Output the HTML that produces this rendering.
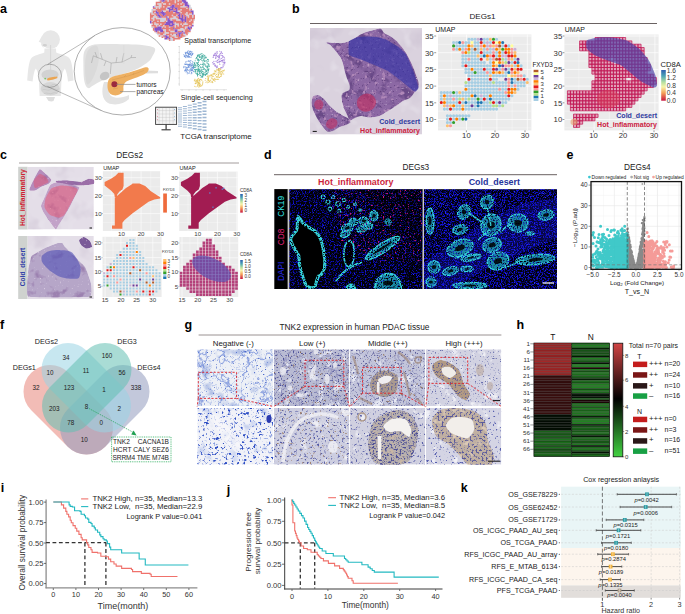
<!DOCTYPE html>
<html><head><meta charset="utf-8"><title>Figure</title>
<style>
html,body{margin:0;padding:0;background:#fff;}
body{width:685px;height:614px;overflow:hidden;}
svg{display:block;font-family:"Liberation Sans",sans-serif;}
filter{color-interpolation-filters:sRGB;}
</style></head><body>
<svg width="685" height="614" viewBox="0 0 685 614">
<defs>
<filter color-interpolation-filters="sRGB" id="he" x="0" y="0" width="100%" height="100%"><feTurbulence type="fractalNoise" baseFrequency="0.09" numOctaves="3" seed="3" result="t0"/><feColorMatrix in="t0" type="matrix" values="0 0 0 0 0.416 0 0 0 0 0.290 0 0 0 0 0.533 5.000 0 0 0 -2.731" result="c0"/><feTurbulence type="fractalNoise" baseFrequency="0.22" numOctaves="2" seed="5" result="t1"/><feColorMatrix in="t1" type="matrix" values="0 0 0 0 0.690 0 0 0 0 0.533 0 0 0 0 0.722 6.000 0 0 0 -3.556" result="c1"/><feTurbulence type="fractalNoise" baseFrequency="0.5" numOctaves="2" seed="6" result="t2"/><feColorMatrix in="t2" type="matrix" values="0 0 0 0 0.847 0 0 0 0 0.800 0 0 0 0 0.878 6.000 0 0 0 -4.063" result="q2"/><feComponentTransfer in="q2" result="c2"><feFuncA type="table" tableValues="0 0.75"/></feComponentTransfer><feTurbulence type="fractalNoise" baseFrequency="0.45" numOctaves="2" seed="8" result="t3"/><feColorMatrix in="t3" type="matrix" values="0 0 0 0 0.353 0 0 0 0 0.227 0 0 0 0 0.471 8.000 0 0 0 -5.128" result="q3"/><feComponentTransfer in="q3" result="c3"><feFuncA type="table" tableValues="0 0.7"/></feComponentTransfer><feMerge result="m"><feMergeNode in="SourceGraphic"/><feMergeNode in="c0"/><feMergeNode in="c1"/><feMergeNode in="c2"/><feMergeNode in="c3"/></feMerge><feComposite in="m" in2="SourceGraphic" operator="in"/></filter>
<filter color-interpolation-filters="sRGB" id="he2" x="0" y="0" width="100%" height="100%"><feTurbulence type="fractalNoise" baseFrequency="0.1" numOctaves="3" seed="13" result="t0"/><feColorMatrix in="t0" type="matrix" values="0 0 0 0 0.541 0 0 0 0 0.408 0 0 0 0 0.627 5.000 0 0 0 -2.815" result="q0"/><feComponentTransfer in="q0" result="c0"><feFuncA type="table" tableValues="0 0.6"/></feComponentTransfer><feTurbulence type="fractalNoise" baseFrequency="0.5" numOctaves="2" seed="16" result="t1"/><feColorMatrix in="t1" type="matrix" values="0 0 0 0 0.910 0 0 0 0 0.863 0 0 0 0 0.925 6.000 0 0 0 -4.119" result="q1"/><feComponentTransfer in="q1" result="c1"><feFuncA type="table" tableValues="0 0.7"/></feComponentTransfer><feMerge result="m"><feMergeNode in="SourceGraphic"/><feMergeNode in="c0"/><feMergeNode in="c1"/></feMerge><feComposite in="m" in2="SourceGraphic" operator="in"/></filter>
<filter color-interpolation-filters="sRGB" id="hebg" x="0" y="0" width="100%" height="100%"><feTurbulence type="fractalNoise" baseFrequency="0.04" numOctaves="3" seed="2" result="t0"/><feColorMatrix in="t0" type="matrix" values="0 0 0 0 0.808 0 0 0 0 0.769 0 0 0 0 0.831 4.000 0 0 0 -2.185" result="q0"/><feComponentTransfer in="q0" result="c0"><feFuncA type="table" tableValues="0 0.6"/></feComponentTransfer><feTurbulence type="fractalNoise" baseFrequency="0.08" numOctaves="2" seed="3" result="t1"/><feColorMatrix in="t1" type="matrix" values="0 0 0 0 0.910 0 0 0 0 0.894 0 0 0 0 0.925 4.000 0 0 0 -2.252" result="q1"/><feComponentTransfer in="q1" result="c1"><feFuncA type="table" tableValues="0 0.6"/></feComponentTransfer><feMerge result="m"><feMergeNode in="SourceGraphic"/><feMergeNode in="c0"/><feMergeNode in="c1"/></feMerge><feComposite in="m" in2="SourceGraphic" operator="in"/></filter>
<linearGradient id="spec" x1="0" y1="0" x2="0" y2="1">
<stop offset="0" stop-color="#2d5fb0"/><stop offset="0.2" stop-color="#4ea6b5"/><stop offset="0.4" stop-color="#b6e0a0"/>
<stop offset="0.55" stop-color="#f6f4a8"/><stop offset="0.75" stop-color="#f5a058"/><stop offset="1" stop-color="#c8143e"/></linearGradient>
<filter color-interpolation-filters="sRGB" id="dapi1" x="0" y="0" width="100%" height="100%"><feTurbulence type="fractalNoise" baseFrequency="0.75" numOctaves="2" seed="2" result="t0"/><feColorMatrix in="t0" type="matrix" values="0 0 0 0 0.047 0 0 0 0 0.047 0 0 0 0 0.784 5.000 0 0 0 -2.500" result="c0"/><feTurbulence type="fractalNoise" baseFrequency="0.9" numOctaves="1" seed="9" result="t1"/><feColorMatrix in="t1" type="matrix" values="0 0 0 0 0.165 0 0 0 0 0.165 0 0 0 0 1.000 8.000 0 0 0 -5.230" result="c1"/><feMerge result="m"><feMergeNode in="SourceGraphic"/><feMergeNode in="c0"/><feMergeNode in="c1"/></feMerge><feComposite in="m" in2="SourceGraphic" operator="in"/></filter>
<filter color-interpolation-filters="sRGB" id="dapi2" x="0" y="0" width="100%" height="100%"><feTurbulence type="fractalNoise" baseFrequency="0.75" numOctaves="2" seed="5" result="t0"/><feColorMatrix in="t0" type="matrix" values="0 0 0 0 0.055 0 0 0 0 0.055 0 0 0 0 0.831 5.000 0 0 0 -2.317" result="c0"/><feTurbulence type="fractalNoise" baseFrequency="0.9" numOctaves="1" seed="11" result="t1"/><feColorMatrix in="t1" type="matrix" values="0 0 0 0 0.173 0 0 0 0 0.173 0 0 0 0 1.000 8.000 0 0 0 -4.995" result="c1"/><feMerge result="m"><feMergeNode in="SourceGraphic"/><feMergeNode in="c0"/><feMergeNode in="c1"/></feMerge><feComposite in="m" in2="SourceGraphic" operator="in"/></filter>
<filter color-interpolation-filters="sRGB" id="cd8f" x="0" y="0" width="100%" height="100%"><feTurbulence type="fractalNoise" baseFrequency="0.6" numOctaves="1" seed="8" result="t0"/><feColorMatrix in="t0" type="matrix" values="0 0 0 0 0.816 0 0 0 0 0.094 0 0 0 0 0.502 9.000 0 0 0 -5.717" result="c0"/><feMerge result="m"><feMergeNode in="c0"/></feMerge><feComposite in="m" in2="SourceGraphic" operator="in"/></filter>
<filter color-interpolation-filters="sRGB" id="grain" x="-5%" y="-5%" width="110%" height="110%" color-interpolation-filters="sRGB"><feTurbulence type="fractalNoise" baseFrequency="0.8" numOctaves="2" seed="12" result="n"/><feColorMatrix in="n" type="matrix" values="0 0 0 0 0  0 0 0 0 0  0 0 0 0 0  5 0 0 0 -1.6" result="m"/><feComposite in="SourceGraphic" in2="m" operator="in"/></filter>
<clipPath id="cpd1"><rect x="289.1" y="189.1" width="133.7" height="99.9"/></clipPath>
<clipPath id="cpd2"><rect x="424" y="189.1" width="133" height="99.9"/></clipPath>
<clipPath id="cg00"><rect x="197.2" y="349.2" width="76.20" height="56.80"/></clipPath>
<filter color-interpolation-filters="sRGB" id="ihc1" x="0" y="0" width="100%" height="100%"><feTurbulence type="fractalNoise" baseFrequency="0.07" numOctaves="3" seed="35" result="t0"/><feColorMatrix in="t0" type="matrix" values="0 0 0 0 0.706 0 0 0 0 0.761 0 0 0 0 0.902 5.000 0 0 0 -2.815" result="c0"/><feTurbulence type="fractalNoise" baseFrequency="0.045" numOctaves="4" seed="31" result="t1"/><feColorMatrix in="t1" type="matrix" values="0 0 0 0 0.314 0 0 0 0 0.439 0 0 0 0 0.816 30.000 0 0 0 -14.100" result="ba1"/><feColorMatrix in="t1" type="matrix" values="0 0 0 0 0 0 0 0 0 0 0 0 0 0 0 -30.000 0 0 0 15.900" result="bb1"/><feComposite in="ba1" in2="bb1" operator="in" result="q1"/><feComponentTransfer in="q1" result="c1"><feFuncA type="table" tableValues="0 0.7"/></feComponentTransfer><feTurbulence type="fractalNoise" baseFrequency="0.09" numOctaves="3" seed="36" result="t2"/><feColorMatrix in="t2" type="matrix" values="0 0 0 0 0.376 0 0 0 0 0.502 0 0 0 0 0.847 30.000 0 0 0 -14.250" result="ba2"/><feColorMatrix in="t2" type="matrix" values="0 0 0 0 0 0 0 0 0 0 0 0 0 0 0 -30.000 0 0 0 15.750" result="bb2"/><feComposite in="ba2" in2="bb2" operator="in" result="q2"/><feComponentTransfer in="q2" result="c2"><feFuncA type="table" tableValues="0 0.55"/></feComponentTransfer><feTurbulence type="fractalNoise" baseFrequency="0.55" numOctaves="2" seed="32" result="t3"/><feColorMatrix in="t3" type="matrix" values="0 0 0 0 0.290 0 0 0 0 0.408 0 0 0 0 0.800 8.000 0 0 0 -5.349" result="c3"/><feMerge result="m"><feMergeNode in="SourceGraphic"/><feMergeNode in="c0"/><feMergeNode in="c1"/><feMergeNode in="c2"/><feMergeNode in="c3"/></feMerge><feComposite in="m" in2="SourceGraphic" operator="in"/></filter>
<clipPath id="cg01"><rect x="197.2" y="408.0" width="76.20" height="56.70"/></clipPath>
<filter color-interpolation-filters="sRGB" id="ihc2" x="0" y="0" width="100%" height="100%"><feTurbulence type="fractalNoise" baseFrequency="0.07" numOctaves="3" seed="33" result="t0"/><feColorMatrix in="t0" type="matrix" values="0 0 0 0 0.769 0 0 0 0 0.812 0 0 0 0 0.933 5.000 0 0 0 -2.905" result="c0"/><feTurbulence type="fractalNoise" baseFrequency="0.32" numOctaves="2" seed="34" result="t1"/><feColorMatrix in="t1" type="matrix" values="0 0 0 0 0.180 0 0 0 0 0.306 0 0 0 0 0.769 9.000 0 0 0 -5.619" result="c1"/><feTurbulence type="fractalNoise" baseFrequency="0.5" numOctaves="2" seed="37" result="t2"/><feColorMatrix in="t2" type="matrix" values="0 0 0 0 0.353 0 0 0 0 0.471 0 0 0 0 0.831 7.000 0 0 0 -4.487" result="c2"/><feMerge result="m"><feMergeNode in="SourceGraphic"/><feMergeNode in="c0"/><feMergeNode in="c1"/><feMergeNode in="c2"/></feMerge><feComposite in="m" in2="SourceGraphic" operator="in"/></filter>
<clipPath id="cg10"><rect x="274.0" y="349.2" width="75.40" height="56.80"/></clipPath>
<filter color-interpolation-filters="sRGB" id="ihc3" x="0" y="0" width="100%" height="100%"><feTurbulence type="fractalNoise" baseFrequency="0.12" numOctaves="3" seed="41" result="t0"/><feColorMatrix in="t0" type="matrix" values="0 0 0 0 0.886 0 0 0 0 0.894 0 0 0 0 0.941 6.000 0 0 0 -3.556" result="c0"/><feTurbulence type="fractalNoise" baseFrequency="0.6" numOctaves="2" seed="42" result="t1"/><feColorMatrix in="t1" type="matrix" values="0 0 0 0 0.290 0 0 0 0 0.306 0 0 0 0 0.588 6.000 0 0 0 -3.509" result="c1"/><feTurbulence type="fractalNoise" baseFrequency="0.45" numOctaves="2" seed="43" result="t2"/><feColorMatrix in="t2" type="matrix" values="0 0 0 0 0.541 0 0 0 0 0.431 0 0 0 0 0.361 8.000 0 0 0 -5.417" result="c2"/><feTurbulence type="fractalNoise" baseFrequency="0.06" numOctaves="3" seed="47" result="t3"/><feColorMatrix in="t3" type="matrix" values="0 0 0 0 0.416 0 0 0 0 0.416 0 0 0 0 0.659 30.000 0 0 0 -14.250" result="ba3"/><feColorMatrix in="t3" type="matrix" values="0 0 0 0 0 0 0 0 0 0 0 0 0 0 0 -30.000 0 0 0 15.750" result="bb3"/><feComposite in="ba3" in2="bb3" operator="in" result="q3"/><feComponentTransfer in="q3" result="c3"><feFuncA type="table" tableValues="0 0.7"/></feComponentTransfer><feMerge result="m"><feMergeNode in="SourceGraphic"/><feMergeNode in="c0"/><feMergeNode in="c1"/><feMergeNode in="c2"/><feMergeNode in="c3"/></feMerge><feComposite in="m" in2="SourceGraphic" operator="in"/></filter>
<clipPath id="cg11"><rect x="274.0" y="408.0" width="75.40" height="56.70"/></clipPath>
<filter color-interpolation-filters="sRGB" id="ihc4" x="0" y="0" width="100%" height="100%"><feTurbulence type="fractalNoise" baseFrequency="0.1" numOctaves="3" seed="44" result="t0"/><feColorMatrix in="t0" type="matrix" values="0 0 0 0 0.933 0 0 0 0 0.933 0 0 0 0 0.957 6.000 0 0 0 -3.746" result="c0"/><feTurbulence type="fractalNoise" baseFrequency="0.45" numOctaves="2" seed="45" result="t1"/><feColorMatrix in="t1" type="matrix" values="0 0 0 0 0.345 0 0 0 0 0.369 0 0 0 0 0.651 6.000 0 0 0 -3.509" result="c1"/><feTurbulence type="fractalNoise" baseFrequency="0.4" numOctaves="2" seed="46" result="t2"/><feColorMatrix in="t2" type="matrix" values="0 0 0 0 0.627 0 0 0 0 0.518 0 0 0 0 0.447 8.000 0 0 0 -5.417" result="c2"/><feMerge result="m"><feMergeNode in="SourceGraphic"/><feMergeNode in="c0"/><feMergeNode in="c1"/><feMergeNode in="c2"/></feMerge><feComposite in="m" in2="SourceGraphic" operator="in"/></filter>
<clipPath id="cg20"><rect x="350.0" y="349.2" width="75.20" height="56.80"/></clipPath>
<filter color-interpolation-filters="sRGB" id="ihc5" x="0" y="0" width="100%" height="100%"><feTurbulence type="fractalNoise" baseFrequency="0.12" numOctaves="3" seed="51" result="t0"/><feColorMatrix in="t0" type="matrix" values="0 0 0 0 0.902 0 0 0 0 0.910 0 0 0 0 0.949 6.000 0 0 0 -3.606" result="c0"/><feTurbulence type="fractalNoise" baseFrequency="0.6" numOctaves="2" seed="52" result="t1"/><feColorMatrix in="t1" type="matrix" values="0 0 0 0 0.353 0 0 0 0 0.361 0 0 0 0 0.604 6.000 0 0 0 -3.556" result="c1"/><feTurbulence type="fractalNoise" baseFrequency="0.3" numOctaves="2" seed="53" result="t2"/><feColorMatrix in="t2" type="matrix" values="0 0 0 0 0.580 0 0 0 0 0.463 0 0 0 0 0.369 7.000 0 0 0 -4.882" result="c2"/><feTurbulence type="fractalNoise" baseFrequency="0.06" numOctaves="3" seed="57" result="t3"/><feColorMatrix in="t3" type="matrix" values="0 0 0 0 0.439 0 0 0 0 0.439 0 0 0 0 0.659 30.000 0 0 0 -14.250" result="ba3"/><feColorMatrix in="t3" type="matrix" values="0 0 0 0 0 0 0 0 0 0 0 0 0 0 0 -30.000 0 0 0 15.750" result="bb3"/><feComposite in="ba3" in2="bb3" operator="in" result="q3"/><feComponentTransfer in="q3" result="c3"><feFuncA type="table" tableValues="0 0.7"/></feComponentTransfer><feMerge result="m"><feMergeNode in="SourceGraphic"/><feMergeNode in="c0"/><feMergeNode in="c1"/><feMergeNode in="c2"/><feMergeNode in="c3"/></feMerge><feComposite in="m" in2="SourceGraphic" operator="in"/></filter>
<filter color-interpolation-filters="sRGB" id="ihc6" x="0" y="0" width="100%" height="100%"><feTurbulence type="fractalNoise" baseFrequency="0.6" numOctaves="2" seed="58" result="t0"/><feColorMatrix in="t0" type="matrix" values="0 0 0 0 0.333 0 0 0 0 0.341 0 0 0 0 0.561 6.000 0 0 0 -3.182" result="c0"/><feMerge result="m"><feMergeNode in="SourceGraphic"/><feMergeNode in="c0"/></feMerge><feComposite in="m" in2="SourceGraphic" operator="in"/></filter>
<clipPath id="cg21"><rect x="350.0" y="408.0" width="75.20" height="56.70"/></clipPath>
<filter color-interpolation-filters="sRGB" id="ihc7" x="0" y="0" width="100%" height="100%"><feTurbulence type="fractalNoise" baseFrequency="0.1" numOctaves="3" seed="54" result="t0"/><feColorMatrix in="t0" type="matrix" values="0 0 0 0 0.933 0 0 0 0 0.933 0 0 0 0 0.957 6.000 0 0 0 -3.746" result="c0"/><feTurbulence type="fractalNoise" baseFrequency="0.45" numOctaves="2" seed="55" result="t1"/><feColorMatrix in="t1" type="matrix" values="0 0 0 0 0.353 0 0 0 0 0.376 0 0 0 0 0.659 6.000 0 0 0 -3.606" result="c1"/><feMerge result="m"><feMergeNode in="SourceGraphic"/><feMergeNode in="c0"/><feMergeNode in="c1"/></feMerge><feComposite in="m" in2="SourceGraphic" operator="in"/></filter>
<filter color-interpolation-filters="sRGB" id="ihc8" x="0" y="0" width="100%" height="100%"><feTurbulence type="fractalNoise" baseFrequency="0.55" numOctaves="2" seed="71" result="t0"/><feColorMatrix in="t0" type="matrix" values="0 0 0 0 0.306 0 0 0 0 0.314 0 0 0 0 0.588 6.000 0 0 0 -3.000" result="c0"/><feTurbulence type="fractalNoise" baseFrequency="0.2" numOctaves="2" seed="72" result="t1"/><feColorMatrix in="t1" type="matrix" values="0 0 0 0 0.784 0 0 0 0 0.714 0 0 0 0 0.643 6.000 0 0 0 -3.606" result="c1"/><feMerge result="m"><feMergeNode in="SourceGraphic"/><feMergeNode in="c0"/><feMergeNode in="c1"/></feMerge><feComposite in="m" in2="SourceGraphic" operator="in"/></filter>
<clipPath id="cg30"><rect x="425.8" y="349.2" width="75.60" height="56.80"/></clipPath>
<filter color-interpolation-filters="sRGB" id="ihc9" x="0" y="0" width="100%" height="100%"><feTurbulence type="fractalNoise" baseFrequency="0.12" numOctaves="3" seed="61" result="t0"/><feColorMatrix in="t0" type="matrix" values="0 0 0 0 0.933 0 0 0 0 0.933 0 0 0 0 0.957 6.000 0 0 0 -3.606" result="c0"/><feTurbulence type="fractalNoise" baseFrequency="0.6" numOctaves="2" seed="62" result="t1"/><feColorMatrix in="t1" type="matrix" values="0 0 0 0 0.416 0 0 0 0 0.439 0 0 0 0 0.682 6.000 0 0 0 -3.687" result="c1"/><feMerge result="m"><feMergeNode in="SourceGraphic"/><feMergeNode in="c0"/><feMergeNode in="c1"/></feMerge><feComposite in="m" in2="SourceGraphic" operator="in"/></filter>
<filter color-interpolation-filters="sRGB" id="ihc10" x="0" y="0" width="100%" height="100%"><feTurbulence type="fractalNoise" baseFrequency="0.6" numOctaves="2" seed="67" result="t0"/><feColorMatrix in="t0" type="matrix" values="0 0 0 0 0.353 0 0 0 0 0.353 0 0 0 0 0.596 6.000 0 0 0 -3.277" result="c0"/><feMerge result="m"><feMergeNode in="SourceGraphic"/><feMergeNode in="c0"/></feMerge><feComposite in="m" in2="SourceGraphic" operator="in"/></filter>
<clipPath id="cg31"><rect x="425.8" y="408.0" width="75.60" height="56.70"/></clipPath>
<filter color-interpolation-filters="sRGB" id="ihc11" x="0" y="0" width="100%" height="100%"><feTurbulence type="fractalNoise" baseFrequency="0.1" numOctaves="3" seed="63" result="t0"/><feColorMatrix in="t0" type="matrix" values="0 0 0 0 0.941 0 0 0 0 0.941 0 0 0 0 0.965 6.000 0 0 0 -3.606" result="c0"/><feTurbulence type="fractalNoise" baseFrequency="0.45" numOctaves="2" seed="64" result="t1"/><feColorMatrix in="t1" type="matrix" values="0 0 0 0 0.345 0 0 0 0 0.376 0 0 0 0 0.690 7.000 0 0 0 -4.371" result="c1"/><feMerge result="m"><feMergeNode in="SourceGraphic"/><feMergeNode in="c0"/><feMergeNode in="c1"/></feMerge><feComposite in="m" in2="SourceGraphic" operator="in"/></filter>
<filter color-interpolation-filters="sRGB" id="ihc12" x="0" y="0" width="100%" height="100%"><feTurbulence type="fractalNoise" baseFrequency="0.5" numOctaves="2" seed="65" result="t0"/><feColorMatrix in="t0" type="matrix" values="0 0 0 0 0.353 0 0 0 0 0.353 0 0 0 0 0.612 6.000 0 0 0 -3.000" result="c0"/><feTurbulence type="fractalNoise" baseFrequency="0.15" numOctaves="2" seed="66" result="t1"/><feColorMatrix in="t1" type="matrix" values="0 0 0 0 0.863 0 0 0 0 0.792 0 0 0 0 0.714 6.000 0 0 0 -3.556" result="c1"/><feMerge result="m"><feMergeNode in="SourceGraphic"/><feMergeNode in="c0"/><feMergeNode in="c1"/></feMerge><feComposite in="m" in2="SourceGraphic" operator="in"/></filter>
<linearGradient id="hmg" x1="0" y1="0" x2="0" y2="1">
<stop offset="0" stop-color="#d24545"/><stop offset="0.49" stop-color="#000"/><stop offset="1" stop-color="#42d242"/></linearGradient>
</defs>
<rect width="685" height="614" fill="#fff"/>
<text x="0.00" y="13.20" font-size="12.5" fill="#000" text-anchor="start" font-weight="bold" >a</text>
<path d="M44.5,48.5 L44.3,52.5 C40,54.5 34,55 31.5,58 C28.8,61 28,70 27.2,80.5 L32.6,81.5 C33.2,76 34,71 35.8,68.5 C37.5,71 38.5,74 38.8,78 L39.6,96 L60.8,96 L61.6,78 C62,74 63,71 64.8,68.5 C66.5,71 67.4,76 68,81.5 L73.6,80.5 C72.8,70 72,61 69.2,58 C66.5,55 60.5,54.5 56.2,52.5 L56,48.5 Z" fill="#e7e7e7" stroke="none" stroke-width="1" />
<circle cx="50.6" cy="39.6" r="9.3" fill="#e7e7e7"/>
<path d="M42,36 L38.7,41.8 L41.2,42.8 L41.2,45 L43.5,48 Z" fill="#e7e7e7" stroke="none" stroke-width="1" />
<path d="M46,97 L55,97 L53.5,101 L51.5,101.5 L48.5,101 Z" fill="#dedede" stroke="none" stroke-width="1" />
<ellipse cx="50.3" cy="88.8" rx="9.6" ry="6.8" fill="#d6d6d6"/>
<path d="M43,86 C46,84 49,88 52,85 C55,83 57,87 58,85" fill="none" stroke="#c2c2c2" stroke-width="0.6" />
<path d="M42.5,90 C45,88 48,92 51,89 C54,87 56,91 58.5,89" fill="none" stroke="#c2c2c2" stroke-width="0.6" />
<path d="M44,93.5 C47,92 50,95 53,93 C55,92 57,94 57.5,93" fill="none" stroke="#c2c2c2" stroke-width="0.6" />
<ellipse cx="50" cy="74.8" rx="8.6" ry="5.2" fill="#d2d2d2"/>
<ellipse cx="44.8" cy="45.3" rx="2.2" ry="1.3" fill="#d0d0d0"/>
<line x1="50.60" y1="45.00" x2="50.60" y2="70.00" stroke="#d2d2d2" stroke-width="0.8" />
<path d="M47,79 C49,77 54,77 57,76.5 L57.5,78 C54,79.5 50,80.5 47.5,80.5 Z" fill="#eba552" stroke="none" stroke-width="1" />
<circle cx="45.2" cy="78.6" r="0.9" fill="#7bc46b"/>
<ellipse cx="49.9" cy="75.8" rx="11.6" ry="11.6" fill="none" stroke="#707070" stroke-width="0.5"/>
<line x1="47.60" y1="64.40" x2="95.00" y2="35.40" stroke="#666" stroke-width="0.45" />
<line x1="47.50" y1="86.60" x2="101.50" y2="110.70" stroke="#666" stroke-width="0.45" />
<ellipse cx="122.2" cy="71.3" rx="48" ry="43.7" fill="#fff" stroke="#6a6a6a" stroke-width="0.55"/>
<path d="M84.30,51.40 C85.65,48.13 88.05,46.43 91.50,45.20 C94.95,43.97 99.62,44.17 105.00,44.00 C110.38,43.83 117.97,44.07 123.80,44.20 C129.63,44.33 135.23,44.35 140.00,44.80 C144.77,45.25 149.87,46.03 152.40,46.90 C154.93,47.77 155.27,48.32 155.20,50.00 C155.13,51.68 153.05,55.13 152.00,57.00 C150.95,58.87 151.23,59.30 148.90,61.20 C146.57,63.10 142.18,66.30 138.00,68.40 C133.82,70.50 129.17,72.02 123.80,73.80 C118.43,75.58 110.77,77.23 105.80,79.10 C100.83,80.97 96.97,83.50 94.00,85.00 C91.03,86.50 89.62,88.77 88.00,88.10 C86.38,87.43 85.07,84.88 84.30,81.00 C83.53,77.12 83.40,69.73 83.40,64.80 C83.40,59.87 82.95,54.67 84.30,51.40Z" fill="#e2e2e2" stroke="none" stroke-width="1" />
<path d="M86.00,56.00 C86.83,52.33 88.17,49.67 90.00,48.00 C91.83,46.33 95.50,44.67 97.00,46.00 C98.50,47.33 99.00,52.33 99.00,56.00 C99.00,59.67 98.17,64.00 97.00,68.00 C95.83,72.00 93.67,77.33 92.00,80.00 C90.33,82.67 88.17,85.67 87.00,84.00 C85.83,82.33 85.17,74.67 85.00,70.00 C84.83,65.33 85.17,59.67 86.00,56.00Z" fill="#dadada" stroke="none" stroke-width="1" />
<path d="M110.3,74 L111.2,63" fill="none" stroke="#a0a0a0" stroke-width="0.55" />
<path d="M111.2,63 L102.3,59.4 L93.3,55.8" fill="none" stroke="#a0a0a0" stroke-width="0.55" />
<path d="M93.3,55.8 L91.5,63" fill="none" stroke="#a0a0a0" stroke-width="0.55" />
<path d="M102.3,59.4 L100.5,53.2" fill="none" stroke="#a0a0a0" stroke-width="0.55" />
<path d="M97,57.5 L95,52" fill="none" stroke="#a0a0a0" stroke-width="0.55" />
<path d="M111.2,63 L122,62.1 L131,57.6 L131.8,55" fill="none" stroke="#a0a0a0" stroke-width="0.55" />
<path d="M122,62.1 L123.8,53.2" fill="none" stroke="#a0a0a0" stroke-width="0.55" />
<path d="M131,57.6 L136,57.5" fill="none" stroke="#a0a0a0" stroke-width="0.55" />
<path d="M116,62.6 L117,57" fill="none" stroke="#a0a0a0" stroke-width="0.55" />
<path d="M106,61 L104,66" fill="none" stroke="#a0a0a0" stroke-width="0.55" />
<line x1="123.80" y1="45.00" x2="123.80" y2="64.00" stroke="#d6d6d6" stroke-width="0.6" />
<ellipse cx="104.6" cy="76" rx="5" ry="4" fill="#c5c5c5" transform="rotate(-30 104.6 76)"/>
<path d="M104,82 C101,90 102,100 108,103 C115,106 124,104 129,99 L129,95 C122,98 116,99 111,96 C108,92 108,86 109,82 Z" fill="#e3e3e3" stroke="none" stroke-width="1" />
<path d="M146,70.5 L158,71 L158,73.2 L146,73.5 Z" fill="#dedede" stroke="none" stroke-width="1" />
<path d="M108.50,80.00 C109.40,78.10 110.92,77.52 113.00,76.60 C115.08,75.68 118.33,75.18 121.00,74.50 C123.67,73.82 126.33,73.25 129.00,72.50 C131.67,71.75 134.28,70.88 137.00,70.00 C139.72,69.12 143.38,67.48 145.30,67.20 C147.22,66.92 148.13,67.50 148.50,68.30 C148.87,69.10 148.63,70.78 147.50,72.00 C146.37,73.22 144.12,74.47 141.70,75.60 C139.28,76.73 135.62,77.77 133.00,78.80 C130.38,79.83 127.58,80.60 126.00,81.80 C124.42,83.00 124.00,84.35 123.50,86.00 C123.00,87.65 124.08,90.15 123.00,91.70 C121.92,93.25 119.08,94.92 117.00,95.30 C114.92,95.68 112.07,95.22 110.50,94.00 C108.93,92.78 107.93,90.33 107.60,88.00 C107.27,85.67 107.60,81.90 108.50,80.00Z" fill="#eeb062" stroke="none" stroke-width="1" />
<path d="M112,80 L120,78 L128,76 L137,73 L144,70.5" fill="none" stroke="#d0924a" stroke-width="0.4" />
<path d="M113,85 L119,83" fill="none" stroke="#d0924a" stroke-width="0.4" />
<path d="M113,89 L118,88" fill="none" stroke="#d0924a" stroke-width="0.4" />
<path d="M124,77 L126,75" fill="none" stroke="#d0924a" stroke-width="0.4" />
<path d="M133,75 L134,73" fill="none" stroke="#d0924a" stroke-width="0.4" />
<circle cx="114.4" cy="84.2" r="3" fill="#9c2a3e"/>
<line x1="116.50" y1="84.40" x2="135.50" y2="84.40" stroke="#8a8a8a" stroke-width="0.7" />
<line x1="120.00" y1="91.60" x2="135.50" y2="91.60" stroke="#8a8a8a" stroke-width="0.7" />
<text x="136.50" y="86.60" font-size="6.6" fill="#222" text-anchor="start" font-weight="normal" >tumors</text>
<text x="136.50" y="94.00" font-size="6.6" fill="#222" text-anchor="start" font-weight="normal" >pancreas</text>
<path d="M166.7 -3.3h0M168.1 -3.3h0M171.0 -3.3h0M175.4 -3.3h0M166.7 -1.8h0M168.1 -1.8h0M172.5 -1.8h0M173.9 -1.8h0M166.7 -0.4h0M168.1 -0.4h0M171.0 -0.4h0M178.3 -0.4h0M179.7 -0.4h0M181.2 -0.4h0M159.4 1.1h0M168.1 1.1h0M175.4 1.1h0M178.3 1.1h0M162.3 2.5h0M175.4 2.5h0M182.6 2.5h0M158.0 4.0h0M159.4 4.0h0M160.9 4.0h0M163.8 4.0h0M165.2 4.0h0M169.6 4.0h0M178.3 4.0h0M181.2 4.0h0M188.4 4.0h0M155.1 5.4h0M159.4 5.4h0M160.9 5.4h0M184.1 5.4h0M189.9 5.4h0M155.1 6.9h0M156.5 6.9h0M158.0 6.9h0M159.4 6.9h0M160.9 6.9h0M163.8 6.9h0M168.1 6.9h0M169.6 6.9h0M181.2 6.9h0M182.6 6.9h0M184.1 6.9h0M185.5 6.9h0M189.9 6.9h0M156.5 8.3h0M159.4 8.3h0M166.7 8.3h0M187.0 8.3h0M189.9 8.3h0M191.3 8.3h0M152.2 9.8h0M153.6 9.8h0M155.1 9.8h0M166.7 9.8h0M168.1 9.8h0M181.2 9.8h0M189.9 9.8h0M152.2 11.2h0M163.8 11.2h0M165.2 11.2h0M178.3 11.2h0M179.7 11.2h0M150.7 12.7h0M152.2 12.7h0M155.1 12.7h0M173.9 12.7h0M181.2 12.7h0M187.0 12.7h0M152.2 14.1h0M153.6 14.1h0M185.5 14.1h0M187.0 14.1h0M189.9 14.1h0M191.3 14.1h0M155.1 15.6h0M172.5 15.6h0M176.8 15.6h0M187.0 15.6h0M188.4 15.6h0M192.8 15.6h0M153.6 17.0h0M155.1 17.0h0M156.5 17.0h0M168.1 17.0h0M173.9 17.0h0M175.4 17.0h0M188.4 17.0h0M192.8 17.0h0M152.2 18.5h0M153.6 18.5h0M156.5 18.5h0M158.0 18.5h0M159.4 18.5h0M160.9 18.5h0M162.3 18.5h0M163.8 18.5h0M165.2 18.5h0M171.0 18.5h0M172.5 18.5h0M173.9 18.5h0M175.4 18.5h0M176.8 18.5h0M153.6 19.9h0M160.9 19.9h0M162.3 19.9h0M163.8 19.9h0M165.2 19.9h0M171.0 19.9h0M176.8 19.9h0M178.3 19.9h0M179.7 19.9h0M191.3 19.9h0M194.2 19.9h0M152.2 21.4h0M158.0 21.4h0M160.9 21.4h0M162.3 21.4h0M163.8 21.4h0M166.7 21.4h0M189.9 21.4h0M155.1 22.8h0M175.4 22.8h0M185.5 22.8h0M152.2 24.3h0M155.1 24.3h0M156.5 24.3h0M158.0 24.3h0M160.9 24.3h0M175.4 24.3h0M176.8 24.3h0M178.3 24.3h0M181.2 24.3h0M184.1 24.3h0M185.5 24.3h0M187.0 24.3h0M192.8 24.3h0M156.5 25.7h0M159.4 25.7h0M163.8 25.7h0M175.4 25.7h0M178.3 25.7h0M182.6 25.7h0M189.9 25.7h0M152.2 27.2h0M153.6 27.2h0M162.3 27.2h0M165.2 27.2h0M169.6 27.2h0M175.4 27.2h0M185.5 27.2h0M187.0 27.2h0M181.2 28.6h0M182.6 28.6h0M185.5 28.6h0M163.8 30.1h0M165.2 30.1h0M169.6 30.1h0M178.3 30.1h0M179.7 30.1h0M181.2 30.1h0M182.6 30.1h0M184.1 30.1h0M159.4 31.5h0M165.2 31.5h0M171.0 31.5h0M172.5 31.5h0M173.9 31.5h0M184.1 31.5h0M156.5 33.0h0M165.2 33.0h0M166.7 33.0h0M168.1 33.0h0M188.4 33.0h0M158.0 34.4h0M159.4 34.4h0M163.8 34.4h0M165.2 34.4h0M171.0 34.4h0M173.9 34.4h0M175.4 34.4h0M184.1 34.4h0M185.5 34.4h0M160.9 35.9h0M162.3 35.9h0M168.1 35.9h0M172.5 35.9h0M173.9 35.9h0M175.4 35.9h0M185.5 35.9h0M163.8 37.3h0M171.0 37.3h0M175.4 37.3h0M176.8 37.3h0M182.6 37.3h0M171.0 38.8h0M172.5 38.8h0M171.0 40.2h0M172.5 40.2h0" stroke="#d4d2dc" stroke-width="1.5" stroke-linecap="square" fill="none" />
<path d="M169.6 -3.3h0M172.5 -3.3h0M173.9 -3.3h0M176.8 -3.3h0M165.2 -1.8h0M169.6 -1.8h0M171.0 -1.8h0M175.4 -1.8h0M176.8 -1.8h0M178.3 -1.8h0M179.7 -1.8h0M181.2 -1.8h0M162.3 -0.4h0M169.6 -0.4h0M172.5 -0.4h0M173.9 -0.4h0M175.4 -0.4h0M176.8 -0.4h0M160.9 1.1h0M165.2 1.1h0M166.7 1.1h0M169.6 1.1h0M171.0 1.1h0M172.5 1.1h0M173.9 1.1h0M176.8 1.1h0M179.7 1.1h0M181.2 1.1h0M156.5 2.5h0M158.0 2.5h0M159.4 2.5h0M160.9 2.5h0M163.8 2.5h0M165.2 2.5h0M166.7 2.5h0M168.1 2.5h0M169.6 2.5h0M171.0 2.5h0M172.5 2.5h0M173.9 2.5h0M176.8 2.5h0M178.3 2.5h0M179.7 2.5h0M181.2 2.5h0M156.5 4.0h0M162.3 4.0h0M166.7 4.0h0M168.1 4.0h0M171.0 4.0h0M172.5 4.0h0M173.9 4.0h0M175.4 4.0h0M176.8 4.0h0M179.7 4.0h0M182.6 4.0h0M184.1 4.0h0M156.5 5.4h0M158.0 5.4h0M162.3 5.4h0M163.8 5.4h0M165.2 5.4h0M166.7 5.4h0M168.1 5.4h0M169.6 5.4h0M171.0 5.4h0M175.4 5.4h0M176.8 5.4h0M178.3 5.4h0M179.7 5.4h0M181.2 5.4h0M182.6 5.4h0M162.3 6.9h0M165.2 6.9h0M166.7 6.9h0M175.4 6.9h0M176.8 6.9h0M178.3 6.9h0M179.7 6.9h0M187.0 6.9h0M153.6 8.3h0M155.1 8.3h0M158.0 8.3h0M160.9 8.3h0M162.3 8.3h0M163.8 8.3h0M165.2 8.3h0M171.0 8.3h0M173.9 8.3h0M178.3 8.3h0M179.7 8.3h0M181.2 8.3h0M182.6 8.3h0M184.1 8.3h0M185.5 8.3h0M188.4 8.3h0M156.5 9.8h0M158.0 9.8h0M159.4 9.8h0M160.9 9.8h0M162.3 9.8h0M163.8 9.8h0M165.2 9.8h0M173.9 9.8h0M175.4 9.8h0M178.3 9.8h0M179.7 9.8h0M182.6 9.8h0M184.1 9.8h0M185.5 9.8h0M187.0 9.8h0M188.4 9.8h0M191.3 9.8h0M153.6 11.2h0M155.1 11.2h0M158.0 11.2h0M159.4 11.2h0M160.9 11.2h0M166.7 11.2h0M168.1 11.2h0M171.0 11.2h0M172.5 11.2h0M181.2 11.2h0M182.6 11.2h0M184.1 11.2h0M185.5 11.2h0M187.0 11.2h0M188.4 11.2h0M189.9 11.2h0M153.6 12.7h0M159.4 12.7h0M165.2 12.7h0M166.7 12.7h0M168.1 12.7h0M169.6 12.7h0M171.0 12.7h0M172.5 12.7h0M175.4 12.7h0M179.7 12.7h0M182.6 12.7h0M184.1 12.7h0M185.5 12.7h0M188.4 12.7h0M189.9 12.7h0M191.3 12.7h0M150.7 14.1h0M155.1 14.1h0M156.5 14.1h0M159.4 14.1h0M160.9 14.1h0M166.7 14.1h0M168.1 14.1h0M169.6 14.1h0M171.0 14.1h0M172.5 14.1h0M173.9 14.1h0M175.4 14.1h0M176.8 14.1h0M178.3 14.1h0M181.2 14.1h0M182.6 14.1h0M184.1 14.1h0M188.4 14.1h0M150.7 15.6h0M152.2 15.6h0M153.6 15.6h0M156.5 15.6h0M160.9 15.6h0M162.3 15.6h0M165.2 15.6h0M166.7 15.6h0M168.1 15.6h0M169.6 15.6h0M171.0 15.6h0M173.9 15.6h0M175.4 15.6h0M181.2 15.6h0M184.1 15.6h0M185.5 15.6h0M189.9 15.6h0M191.3 15.6h0M194.2 15.6h0M150.7 17.0h0M152.2 17.0h0M158.0 17.0h0M162.3 17.0h0M163.8 17.0h0M165.2 17.0h0M169.6 17.0h0M171.0 17.0h0M172.5 17.0h0M176.8 17.0h0M178.3 17.0h0M181.2 17.0h0M184.1 17.0h0M187.0 17.0h0M189.9 17.0h0M191.3 17.0h0M194.2 17.0h0M150.7 18.5h0M155.1 18.5h0M166.7 18.5h0M169.6 18.5h0M178.3 18.5h0M184.1 18.5h0M187.0 18.5h0M188.4 18.5h0M189.9 18.5h0M191.3 18.5h0M192.8 18.5h0M194.2 18.5h0M150.7 19.9h0M152.2 19.9h0M155.1 19.9h0M156.5 19.9h0M158.0 19.9h0M159.4 19.9h0M166.7 19.9h0M172.5 19.9h0M173.9 19.9h0M175.4 19.9h0M187.0 19.9h0M188.4 19.9h0M189.9 19.9h0M192.8 19.9h0M153.6 21.4h0M155.1 21.4h0M156.5 21.4h0M159.4 21.4h0M165.2 21.4h0M173.9 21.4h0M175.4 21.4h0M176.8 21.4h0M178.3 21.4h0M179.7 21.4h0M181.2 21.4h0M184.1 21.4h0M187.0 21.4h0M188.4 21.4h0M191.3 21.4h0M192.8 21.4h0M152.2 22.8h0M153.6 22.8h0M156.5 22.8h0M158.0 22.8h0M159.4 22.8h0M160.9 22.8h0M162.3 22.8h0M163.8 22.8h0M165.2 22.8h0M173.9 22.8h0M176.8 22.8h0M178.3 22.8h0M179.7 22.8h0M181.2 22.8h0M182.6 22.8h0M184.1 22.8h0M187.0 22.8h0M188.4 22.8h0M189.9 22.8h0M191.3 22.8h0M192.8 22.8h0M153.6 24.3h0M159.4 24.3h0M162.3 24.3h0M163.8 24.3h0M171.0 24.3h0M179.7 24.3h0M182.6 24.3h0M188.4 24.3h0M189.9 24.3h0M191.3 24.3h0M152.2 25.7h0M153.6 25.7h0M155.1 25.7h0M158.0 25.7h0M160.9 25.7h0M162.3 25.7h0M165.2 25.7h0M166.7 25.7h0M168.1 25.7h0M173.9 25.7h0M176.8 25.7h0M179.7 25.7h0M181.2 25.7h0M184.1 25.7h0M185.5 25.7h0M187.0 25.7h0M188.4 25.7h0M191.3 25.7h0M155.1 27.2h0M156.5 27.2h0M163.8 27.2h0M166.7 27.2h0M168.1 27.2h0M171.0 27.2h0M172.5 27.2h0M173.9 27.2h0M176.8 27.2h0M178.3 27.2h0M179.7 27.2h0M181.2 27.2h0M182.6 27.2h0M184.1 27.2h0M189.9 27.2h0M153.6 28.6h0M162.3 28.6h0M163.8 28.6h0M165.2 28.6h0M166.7 28.6h0M168.1 28.6h0M169.6 28.6h0M171.0 28.6h0M172.5 28.6h0M175.4 28.6h0M176.8 28.6h0M178.3 28.6h0M179.7 28.6h0M184.1 28.6h0M187.0 28.6h0M191.3 28.6h0M153.6 30.1h0M166.7 30.1h0M168.1 30.1h0M171.0 30.1h0M172.5 30.1h0M173.9 30.1h0M185.5 30.1h0M187.0 30.1h0M188.4 30.1h0M155.1 31.5h0M158.0 31.5h0M163.8 31.5h0M166.7 31.5h0M168.1 31.5h0M169.6 31.5h0M178.3 31.5h0M179.7 31.5h0M181.2 31.5h0M185.5 31.5h0M187.0 31.5h0M188.4 31.5h0M189.9 31.5h0M158.0 33.0h0M159.4 33.0h0M160.9 33.0h0M162.3 33.0h0M163.8 33.0h0M169.6 33.0h0M171.0 33.0h0M172.5 33.0h0M173.9 33.0h0M175.4 33.0h0M176.8 33.0h0M182.6 33.0h0M185.5 33.0h0M187.0 33.0h0M160.9 34.4h0M162.3 34.4h0M166.7 34.4h0M168.1 34.4h0M169.6 34.4h0M172.5 34.4h0M178.3 34.4h0M181.2 34.4h0M182.6 34.4h0M187.0 34.4h0M159.4 35.9h0M163.8 35.9h0M169.6 35.9h0M171.0 35.9h0M176.8 35.9h0M178.3 35.9h0M181.2 35.9h0M182.6 35.9h0M184.1 35.9h0M162.3 37.3h0M165.2 37.3h0M169.6 37.3h0M172.5 37.3h0M173.9 37.3h0M178.3 37.3h0M179.7 37.3h0M181.2 37.3h0M168.1 38.8h0M173.9 38.8h0M175.4 38.8h0M176.8 38.8h0M178.3 38.8h0M179.7 38.8h0M169.6 40.2h0M173.9 40.2h0" stroke="#e47c76" stroke-width="1.5" stroke-linecap="square" fill="none" />
<path d="M163.8 -1.8h0M160.9 -0.4h0M163.8 -0.4h0M165.2 -0.4h0M182.6 -0.4h0M184.1 -0.4h0M162.3 1.1h0M163.8 1.1h0M182.6 1.1h0M184.1 1.1h0M185.5 1.1h0M184.1 2.5h0M185.5 2.5h0M187.0 2.5h0M185.5 4.0h0M187.0 4.0h0M172.5 5.4h0M173.9 5.4h0M185.5 5.4h0M187.0 5.4h0M188.4 5.4h0M153.6 6.9h0M171.0 6.9h0M172.5 6.9h0M173.9 6.9h0M188.4 6.9h0M168.1 8.3h0M169.6 8.3h0M172.5 8.3h0M175.4 8.3h0M176.8 8.3h0M169.6 9.8h0M171.0 9.8h0M172.5 9.8h0M176.8 9.8h0M156.5 11.2h0M162.3 11.2h0M169.6 11.2h0M173.9 11.2h0M175.4 11.2h0M176.8 11.2h0M191.3 11.2h0M192.8 11.2h0M156.5 12.7h0M158.0 12.7h0M160.9 12.7h0M162.3 12.7h0M163.8 12.7h0M176.8 12.7h0M178.3 12.7h0M192.8 12.7h0M158.0 14.1h0M162.3 14.1h0M163.8 14.1h0M165.2 14.1h0M179.7 14.1h0M192.8 14.1h0M158.0 15.6h0M159.4 15.6h0M163.8 15.6h0M178.3 15.6h0M179.7 15.6h0M182.6 15.6h0M159.4 17.0h0M160.9 17.0h0M166.7 17.0h0M179.7 17.0h0M182.6 17.0h0M185.5 17.0h0M168.1 18.5h0M179.7 18.5h0M181.2 18.5h0M182.6 18.5h0M185.5 18.5h0M168.1 19.9h0M169.6 19.9h0M181.2 19.9h0M182.6 19.9h0M184.1 19.9h0M185.5 19.9h0M150.7 21.4h0M168.1 21.4h0M169.6 21.4h0M171.0 21.4h0M172.5 21.4h0M182.6 21.4h0M185.5 21.4h0M150.7 22.8h0M166.7 22.8h0M168.1 22.8h0M169.6 22.8h0M171.0 22.8h0M172.5 22.8h0M165.2 24.3h0M166.7 24.3h0M168.1 24.3h0M169.6 24.3h0M172.5 24.3h0M173.9 24.3h0M169.6 25.7h0M171.0 25.7h0M172.5 25.7h0M192.8 25.7h0M158.0 27.2h0M159.4 27.2h0M160.9 27.2h0M188.4 27.2h0M191.3 27.2h0M155.1 28.6h0M156.5 28.6h0M158.0 28.6h0M159.4 28.6h0M160.9 28.6h0M173.9 28.6h0M188.4 28.6h0M189.9 28.6h0M155.1 30.1h0M156.5 30.1h0M158.0 30.1h0M159.4 30.1h0M160.9 30.1h0M162.3 30.1h0M175.4 30.1h0M176.8 30.1h0M189.9 30.1h0M156.5 31.5h0M160.9 31.5h0M162.3 31.5h0M175.4 31.5h0M176.8 31.5h0M182.6 31.5h0M178.3 33.0h0M179.7 33.0h0M181.2 33.0h0M184.1 33.0h0M176.8 34.4h0M179.7 34.4h0M165.2 35.9h0M166.7 35.9h0M179.7 35.9h0M166.7 37.3h0M168.1 37.3h0M165.2 38.8h0M166.7 38.8h0M169.6 38.8h0" stroke="#8655c8" stroke-width="1.5" stroke-linecap="square" fill="none" />
<text x="184.20" y="42.60" font-size="7.15" fill="#222" text-anchor="start" font-weight="normal" >Spatial transcriptome</text>
<line x1="179.30" y1="46.00" x2="179.30" y2="86.00" stroke="#bbb" stroke-width="0.4" />
<line x1="180.00" y1="89.70" x2="227.00" y2="89.70" stroke="#bbb" stroke-width="0.4" />
<line x1="178.50" y1="46.50" x2="179.50" y2="46.50" stroke="#999" stroke-width="0.4" />
<line x1="178.50" y1="52.50" x2="179.50" y2="52.50" stroke="#999" stroke-width="0.4" />
<line x1="178.50" y1="59.00" x2="179.50" y2="59.00" stroke="#999" stroke-width="0.4" />
<line x1="178.50" y1="65.00" x2="179.50" y2="65.00" stroke="#999" stroke-width="0.4" />
<line x1="178.50" y1="71.50" x2="179.50" y2="71.50" stroke="#999" stroke-width="0.4" />
<line x1="178.50" y1="78.00" x2="179.50" y2="78.00" stroke="#999" stroke-width="0.4" />
<line x1="178.50" y1="84.00" x2="179.50" y2="84.00" stroke="#999" stroke-width="0.4" />
<line x1="182.00" y1="89.70" x2="182.00" y2="90.60" stroke="#999" stroke-width="0.4" />
<line x1="189.00" y1="89.70" x2="189.00" y2="90.60" stroke="#999" stroke-width="0.4" />
<line x1="196.00" y1="89.70" x2="196.00" y2="90.60" stroke="#999" stroke-width="0.4" />
<line x1="203.00" y1="89.70" x2="203.00" y2="90.60" stroke="#999" stroke-width="0.4" />
<line x1="210.00" y1="89.70" x2="210.00" y2="90.60" stroke="#999" stroke-width="0.4" />
<line x1="217.00" y1="89.70" x2="217.00" y2="90.60" stroke="#999" stroke-width="0.4" />
<line x1="224.00" y1="89.70" x2="224.00" y2="90.60" stroke="#999" stroke-width="0.4" />
<path d="M188.3 53.6h0M186.7 52.3h0M186.3 55.8h0M188.4 54.5h0M187.7 56.5h0M190.0 53.9h0M190.5 53.9h0M185.5 56.9h0M189.7 52.1h0M191.6 55.1h0M185.0 56.8h0M189.4 56.4h0M189.0 53.9h0M184.5 56.1h0M188.4 53.6h0M189.5 54.5h0M190.5 53.4h0M188.2 50.8h0M186.9 55.9h0M192.1 53.5h0M188.0 57.4h0M187.2 56.1h0M192.6 54.4h0M191.7 52.8h0M189.0 54.1h0M188.6 56.8h0M193.0 53.3h0M186.4 55.5h0M185.1 55.4h0M190.2 53.6h0M189.7 51.3h0M190.2 51.4h0M186.1 53.0h0M187.0 56.3h0M188.6 53.3h0M189.7 57.3h0M188.3 55.2h0M191.9 54.9h0M186.0 57.6h0M192.0 51.8h0M188.2 55.4h0M191.2 55.8h0M187.5 51.9h0M188.6 56.7h0M185.3 52.2h0M188.2 50.9h0M187.4 53.2h0M189.8 52.6h0M185.5 53.4h0M188.1 52.7h0M188.3 56.1h0M191.0 57.2h0M185.8 53.3h0M184.3 56.5h0M185.9 54.2h0M189.8 51.5h0M189.9 54.2h0M183.8 54.8h0M190.9 51.3h0M190.9 54.8h0M191.0 69.4h0M193.3 66.4h0M192.2 65.5h0M191.7 63.8h0M188.9 73.5h0M190.9 66.5h0M185.6 64.2h0M189.9 71.5h0M190.8 69.8h0M189.1 72.7h0M187.8 64.7h0M192.3 67.6h0M188.2 64.6h0M188.3 70.2h0M190.3 62.3h0M190.8 68.2h0M186.0 70.5h0M188.1 65.7h0M191.6 72.3h0M186.7 69.3h0M187.3 73.7h0M187.6 72.2h0M187.0 70.8h0M192.8 62.0h0M187.6 69.6h0M188.9 64.2h0M194.4 67.5h0M184.8 70.2h0M184.9 71.0h0M187.0 68.0h0M193.3 67.8h0M185.9 62.1h0M192.9 70.2h0M186.5 70.9h0M191.0 70.3h0M184.0 66.4h0M192.2 70.4h0M191.0 60.8h0M189.8 69.7h0M194.3 64.9h0M187.9 67.5h0M192.3 65.3h0M192.8 64.2h0M190.2 64.8h0M189.8 64.1h0M185.0 70.9h0M190.3 64.7h0M189.9 71.6h0M185.8 66.8h0M191.2 69.7h0M188.4 60.8h0M193.2 68.6h0M189.3 65.9h0M190.2 65.3h0M185.9 64.3h0M187.1 64.5h0M185.5 69.9h0M185.2 69.9h0M185.8 68.8h0M193.5 68.1h0M186.5 67.5h0M189.6 61.1h0M186.9 68.1h0M187.4 67.7h0M191.7 70.6h0M192.3 69.8h0M188.1 67.2h0M188.2 65.8h0M188.7 61.2h0M187.9 67.2h0M185.8 67.2h0M191.1 66.5h0M192.6 61.8h0M188.6 61.0h0M191.1 73.8h0M183.8 67.6h0M191.1 65.9h0M190.5 60.7h0M192.2 69.0h0M189.3 64.5h0M191.5 65.1h0M190.0 64.9h0M183.9 67.2h0M189.9 70.8h0M186.1 67.2h0M191.5 68.0h0M192.0 73.0h0M187.0 61.3h0M191.6 72.7h0M192.2 70.7h0M187.0 64.1h0M192.1 63.6h0M184.7 64.1h0M193.5 71.6h0M186.8 64.1h0M190.0 63.9h0M193.4 67.0h0M186.1 72.0h0M187.0 68.3h0M189.2 65.8h0M190.4 64.1h0M185.7 62.0h0M185.4 64.4h0M189.1 67.6h0M191.3 67.9h0M186.5 64.2h0M184.0 66.8h0M191.0 69.8h0M188.7 66.4h0M192.5 67.4h0" stroke="#5b86d6" stroke-width="1.1" stroke-linecap="round" fill="none" opacity="0.85"/>
<path d="M205.3 69.9h0M202.5 74.5h0M198.4 62.6h0M197.5 59.7h0M206.8 74.2h0M201.6 70.1h0M206.9 70.9h0M206.5 57.8h0M198.1 69.1h0M208.1 66.2h0M197.0 62.8h0M198.2 59.2h0M208.0 61.5h0M201.6 76.9h0M207.3 67.9h0M198.2 68.8h0M208.3 69.3h0M207.6 66.2h0M204.4 63.9h0M203.5 74.4h0M194.9 65.1h0M202.8 60.9h0M199.9 71.6h0M208.9 68.9h0M202.9 55.6h0M209.0 65.9h0M201.3 57.3h0M201.2 57.4h0M201.9 69.3h0M201.7 67.8h0M197.9 74.4h0M199.0 55.1h0M200.5 59.5h0M196.4 62.9h0M202.9 57.1h0M200.9 75.1h0M205.2 64.3h0M202.2 64.5h0M201.2 71.3h0M201.2 53.8h0M201.4 58.6h0M204.9 60.8h0M202.0 76.9h0M196.8 58.2h0M197.4 55.3h0M194.1 67.6h0M199.0 55.0h0M195.1 69.4h0M197.4 62.7h0M203.0 74.7h0M208.4 70.9h0M202.3 67.1h0M207.7 72.7h0M199.8 69.2h0M203.1 65.9h0M199.2 56.6h0M199.2 55.8h0M207.3 69.2h0M196.7 73.7h0M204.8 55.2h0M208.5 70.0h0M208.3 59.5h0M204.4 68.9h0M202.7 66.9h0M205.8 56.7h0M196.5 57.4h0M198.5 60.8h0M203.6 67.7h0M201.7 60.1h0M199.3 72.6h0M205.6 66.3h0M200.1 75.4h0M198.4 70.5h0M207.2 63.6h0M205.3 57.9h0M206.7 67.0h0M194.9 69.6h0M197.6 73.8h0M197.8 64.2h0M203.1 62.7h0M202.9 61.0h0M205.2 65.5h0M202.1 53.7h0M207.2 65.7h0M194.2 66.1h0M203.8 73.2h0M197.2 74.5h0M201.0 77.1h0M200.7 70.9h0M199.7 57.5h0M206.5 71.6h0M207.9 70.7h0M199.1 55.4h0M198.1 60.3h0M197.3 69.9h0M203.4 63.3h0M202.5 64.3h0M202.6 71.4h0M206.2 60.6h0M195.9 73.3h0M202.1 73.6h0M194.5 63.4h0M201.6 55.9h0M198.8 71.1h0M205.7 74.6h0M197.8 56.7h0M204.1 72.5h0M202.4 56.5h0M205.4 71.3h0M204.5 61.6h0M203.1 71.7h0M199.3 55.0h0M203.3 69.4h0M201.6 72.4h0M198.2 64.8h0M199.8 70.1h0M208.4 63.9h0M208.0 72.5h0M205.6 69.9h0M208.8 64.4h0M200.9 57.6h0M203.7 74.5h0M204.4 68.9h0M200.3 66.9h0M195.6 71.8h0M199.5 57.5h0M197.7 59.5h0M205.5 72.8h0M195.7 71.3h0M206.0 61.2h0M195.2 60.8h0M198.1 68.2h0M200.2 54.4h0M202.5 55.6h0M205.6 57.6h0M198.0 59.2h0M199.0 74.3h0M205.8 70.0h0M202.9 55.6h0M198.7 61.1h0M196.6 69.2h0M197.7 60.2h0M197.9 55.2h0M204.2 74.4h0M202.4 58.1h0M193.4 66.3h0M207.4 67.6h0M205.4 74.5h0M207.0 62.3h0M206.5 70.9h0M194.8 62.9h0M195.0 64.8h0M204.3 57.9h0M194.7 71.7h0M203.2 75.1h0M195.9 72.1h0M207.3 73.8h0M200.3 67.8h0M200.7 73.0h0M206.8 66.1h0M195.5 70.3h0M199.0 70.5h0M202.6 75.7h0M207.0 62.3h0M202.9 76.0h0M198.6 69.0h0M206.5 73.2h0M203.9 56.6h0M195.5 67.2h0M202.7 77.1h0M197.5 73.1h0M204.6 55.7h0M197.1 66.8h0M198.7 64.2h0M204.0 59.3h0M204.0 60.5h0M198.6 69.7h0M198.3 67.8h0M208.5 65.7h0M200.7 71.3h0M199.7 73.4h0M195.6 69.7h0M198.8 59.4h0M208.3 60.7h0M208.5 69.3h0M207.5 59.6h0M206.3 73.9h0M200.8 64.4h0M209.5 66.3h0M199.2 60.5h0M204.0 68.2h0M202.2 76.0h0M199.7 69.4h0M207.5 59.4h0M205.3 75.4h0M195.9 58.8h0M197.7 55.6h0M203.3 54.8h0M203.7 74.9h0M194.6 63.5h0M194.4 69.7h0M197.5 63.4h0M201.8 70.0h0M199.5 65.6h0M198.5 66.4h0M195.7 66.0h0M194.1 62.8h0M209.0 66.0h0M195.5 67.3h0M197.7 56.0h0M197.7 71.0h0M203.7 64.7h0M197.2 58.2h0M207.8 67.2h0M198.2 54.9h0M197.6 75.9h0M195.8 64.9h0M202.7 64.2h0M200.2 56.2h0M197.5 75.0h0M197.7 71.7h0M194.4 63.8h0M202.8 73.2h0M196.1 69.7h0M203.6 59.7h0M203.9 58.8h0M197.2 65.4h0M193.4 65.0h0M197.4 56.7h0M199.3 71.4h0" stroke="#2aa192" stroke-width="1.1" stroke-linecap="round" fill="none" opacity="0.85"/>
<path d="M217.3 67.2h0M215.0 54.0h0M224.2 62.3h0M222.4 55.7h0M222.2 61.9h0M221.6 60.5h0M223.3 56.8h0M215.6 53.2h0M223.1 56.3h0M215.0 55.3h0M217.1 53.4h0M217.5 56.3h0M216.6 54.7h0M219.0 57.3h0M219.3 62.0h0M219.8 51.3h0M216.6 55.5h0M221.3 52.7h0M215.7 58.5h0M217.4 66.1h0M217.0 66.0h0M214.9 53.2h0M223.4 62.7h0M221.0 61.1h0M220.6 53.6h0M222.6 57.2h0M222.8 60.8h0M213.5 55.3h0M223.2 59.5h0M217.0 61.9h0M217.0 56.8h0M219.3 61.3h0M224.2 60.5h0M223.4 66.8h0M224.0 65.0h0M219.4 61.2h0M218.2 55.7h0M218.5 56.2h0M224.2 62.9h0M217.4 51.7h0M218.6 57.6h0M215.0 54.5h0M212.7 62.5h0M218.6 69.6h0M218.7 59.3h0M224.0 61.0h0M219.6 57.9h0M216.7 67.8h0M221.8 67.9h0M217.2 60.5h0M215.5 65.6h0M213.8 63.2h0M222.4 67.0h0M215.4 66.1h0M215.9 55.8h0M214.5 65.8h0M224.2 57.4h0M215.6 58.2h0M224.8 63.8h0M217.1 52.0h0M216.3 66.7h0M224.7 59.1h0M215.9 57.2h0M213.3 64.2h0M215.0 65.8h0M213.9 54.9h0M220.0 55.6h0M222.1 60.4h0M214.4 63.7h0M221.3 52.1h0M224.5 62.6h0M221.1 52.1h0M215.7 58.1h0M222.3 53.4h0M216.3 52.0h0M217.7 62.6h0M213.3 57.5h0M220.5 68.1h0M221.7 58.4h0M214.6 55.4h0M215.9 61.2h0M218.6 68.5h0M219.9 54.1h0M223.8 64.8h0M219.2 55.8h0M213.4 56.0h0M222.3 55.8h0M213.9 61.4h0M219.9 64.2h0M221.1 67.5h0M215.6 65.7h0M215.0 64.2h0M219.6 61.9h0M222.8 60.2h0M222.9 65.0h0M219.4 56.6h0M215.7 57.1h0M217.9 60.1h0M225.1 62.3h0M221.8 55.4h0M215.8 58.3h0M219.6 54.2h0M224.2 57.6h0M221.5 51.8h0M218.8 62.1h0M219.6 64.1h0M220.1 61.4h0M213.1 57.2h0M212.7 62.7h0M220.2 59.0h0" stroke="#9b72d8" stroke-width="1.1" stroke-linecap="round" fill="none" opacity="0.85"/>
<path d="M195.4 81.2h0M201.6 85.8h0M197.8 86.2h0M194.9 79.4h0M196.5 80.3h0M196.1 83.4h0M202.9 81.8h0M198.2 83.7h0M197.9 85.5h0M201.9 80.3h0M198.6 82.0h0M199.0 79.1h0M195.0 79.2h0M199.8 83.4h0M198.2 78.4h0M196.8 80.6h0M194.3 80.7h0M200.2 84.4h0M197.9 84.4h0M196.0 83.0h0M198.1 84.5h0M197.8 82.3h0M197.5 80.9h0M202.7 83.8h0M198.9 87.1h0M201.2 79.6h0M200.1 85.1h0M202.0 85.3h0M200.2 79.8h0M195.2 83.6h0M199.5 80.0h0M196.7 81.6h0M198.2 83.9h0M197.2 79.5h0M200.9 86.1h0M197.7 85.7h0M199.5 84.7h0M199.5 80.6h0M199.7 85.5h0M196.0 86.7h0M201.7 85.7h0M202.4 84.3h0M196.9 81.0h0M195.4 83.1h0M197.9 84.8h0M194.7 86.2h0M202.8 82.7h0M200.2 84.2h0M199.0 82.1h0M197.6 80.4h0M198.6 82.7h0M199.0 80.3h0M198.1 83.0h0M199.8 80.0h0M199.3 85.5h0M200.0 81.7h0M196.3 82.1h0M199.9 86.4h0M197.5 80.9h0M199.3 83.4h0M195.3 80.8h0M197.7 84.8h0M194.8 80.3h0M199.4 79.6h0M198.4 83.9h0M197.7 79.9h0M197.8 81.8h0M199.1 80.4h0M200.5 79.3h0M197.4 82.8h0M220.8 71.0h0M218.6 72.0h0M218.6 79.2h0M212.3 78.8h0M209.7 81.5h0M222.2 72.7h0M208.2 80.3h0M221.1 76.5h0M218.8 69.0h0M211.4 82.0h0M208.6 82.2h0M223.7 74.0h0M221.7 71.6h0M207.7 78.7h0M213.6 76.2h0M219.6 73.1h0M216.3 77.0h0M215.0 81.2h0M218.1 74.8h0M213.6 73.9h0M222.7 72.9h0M208.6 76.7h0M214.1 74.4h0M220.8 69.5h0M218.4 74.9h0M207.9 79.2h0M214.4 78.2h0M211.9 78.4h0M207.2 76.3h0M219.6 77.4h0M214.9 73.4h0M219.5 68.6h0M210.0 80.5h0M218.9 70.4h0M207.3 82.8h0M216.0 71.9h0M215.3 79.1h0M205.9 82.2h0M218.2 69.0h0M218.7 69.1h0M221.8 74.2h0M224.3 70.1h0M215.0 79.7h0M210.9 74.9h0M212.4 76.7h0M208.5 80.5h0M218.7 74.4h0M223.7 70.9h0M222.3 70.7h0M218.4 69.0h0M216.4 74.4h0M211.8 74.9h0M212.7 74.0h0M205.7 78.5h0M211.4 75.4h0M208.5 78.2h0M220.1 72.5h0M212.3 81.6h0M220.6 76.5h0M221.9 71.5h0M214.2 80.2h0M211.2 77.0h0M217.6 76.2h0M213.3 80.3h0M213.8 79.2h0M221.3 75.3h0M219.2 70.0h0M207.7 77.0h0M217.5 79.5h0M207.8 80.1h0M209.8 75.5h0M213.2 79.4h0M216.3 79.5h0M209.3 81.4h0M220.9 73.4h0M218.2 72.1h0M208.4 77.3h0M212.8 82.6h0M212.5 82.0h0M216.4 76.5h0M219.6 70.9h0M220.8 74.6h0M207.0 81.3h0M218.7 76.0h0M223.3 70.8h0M218.3 77.2h0M210.1 82.0h0M208.1 75.2h0M218.1 70.5h0M214.4 70.9h0M215.4 71.5h0M216.8 70.0h0M218.1 73.3h0M215.5 75.3h0M215.8 70.9h0M205.2 80.3h0M209.2 76.7h0M217.0 69.4h0M210.2 75.7h0M208.5 79.9h0M214.1 73.0h0M209.2 81.2h0M210.8 80.0h0M217.1 69.5h0M208.3 78.8h0M217.2 77.8h0M219.6 77.3h0M212.4 76.1h0M220.0 71.9h0M220.1 68.9h0" stroke="#e2be48" stroke-width="1.1" stroke-linecap="round" fill="none" opacity="0.85"/>
<text x="180.80" y="100.40" font-size="7.2" fill="#222" text-anchor="start" font-weight="normal" >Single-cell sequencing</text>
<rect x="155.6" y="107.2" width="21" height="17.2" fill="#f4f4f4" stroke="#3a3a3a" stroke-width="0.9"/>
<line x1="157.00" y1="110.60" x2="175.50" y2="110.60" stroke="#bbb" stroke-width="0.35" />
<line x1="157.00" y1="114.00" x2="175.50" y2="114.00" stroke="#bbb" stroke-width="0.35" />
<line x1="157.00" y1="117.40" x2="175.50" y2="117.40" stroke="#bbb" stroke-width="0.35" />
<line x1="157.00" y1="120.80" x2="175.50" y2="120.80" stroke="#bbb" stroke-width="0.35" />
<line x1="159.10" y1="108.00" x2="159.10" y2="124.00" stroke="#bbb" stroke-width="0.35" />
<line x1="162.60" y1="108.00" x2="162.60" y2="124.00" stroke="#bbb" stroke-width="0.35" />
<line x1="166.10" y1="108.00" x2="166.10" y2="124.00" stroke="#bbb" stroke-width="0.35" />
<line x1="169.60" y1="108.00" x2="169.60" y2="124.00" stroke="#bbb" stroke-width="0.35" />
<line x1="173.10" y1="108.00" x2="173.10" y2="124.00" stroke="#bbb" stroke-width="0.35" />
<circle cx="157.6" cy="109.50" r="0.45" fill="#d04060"/>
<circle cx="174.6" cy="109.50" r="0.45" fill="#4090d0"/>
<circle cx="157.6" cy="112.90" r="0.45" fill="#d04060"/>
<circle cx="174.6" cy="112.90" r="0.45" fill="#4090d0"/>
<circle cx="157.6" cy="116.30" r="0.45" fill="#d04060"/>
<circle cx="174.6" cy="116.30" r="0.45" fill="#4090d0"/>
<circle cx="157.6" cy="119.70" r="0.45" fill="#d04060"/>
<circle cx="174.6" cy="119.70" r="0.45" fill="#4090d0"/>
<line x1="166.10" y1="124.50" x2="166.10" y2="129.40" stroke="#333" stroke-width="1.2" />
<line x1="161.50" y1="129.80" x2="170.70" y2="129.80" stroke="#333" stroke-width="1.1" />
<path d="M178.0 107.3h4v0.9h-4zM182.9 106.0h4v1.0h-4zM187.8 104.7h4v1.1h-4zM192.7 103.4h4v1.3h-4zM197.6 102.1h4v1.4h-4zM202.5 100.8h4v1.5h-4zM178.0 109.3h4v0.9h-4zM182.9 108.3h4v1.0h-4zM187.8 107.2h4v1.1h-4zM192.7 106.1h4v1.3h-4zM197.6 105.1h4v1.4h-4zM202.5 104.0h4v1.5h-4zM178.0 111.4h4v0.9h-4zM182.9 110.6h4v1.0h-4zM187.8 109.7h4v1.1h-4zM192.7 108.9h4v1.3h-4zM197.6 108.0h4v1.4h-4zM202.5 107.2h4v1.5h-4zM178.0 113.5h4v0.9h-4zM182.9 112.8h4v1.0h-4zM187.8 112.2h4v1.1h-4zM192.7 111.6h4v1.3h-4zM197.6 111.0h4v1.4h-4zM202.5 110.4h4v1.5h-4zM178.0 115.5h4v0.9h-4zM182.9 115.1h4v1.0h-4zM187.8 114.7h4v1.1h-4zM192.7 114.4h4v1.3h-4zM197.6 114.0h4v1.4h-4zM202.5 113.6h4v1.5h-4zM178.0 117.5h4v0.9h-4zM182.9 117.4h4v1.0h-4zM187.8 117.2h4v1.1h-4zM192.7 117.1h4v1.3h-4zM197.6 117.0h4v1.4h-4zM202.5 116.8h4v1.5h-4zM178.0 119.6h4v0.9h-4zM182.9 119.7h4v1.0h-4zM187.8 119.8h4v1.1h-4zM192.7 119.8h4v1.3h-4zM197.6 119.9h4v1.4h-4zM202.5 120.0h4v1.5h-4zM178.0 121.6h4v0.9h-4zM182.9 122.0h4v1.0h-4zM187.8 122.3h4v1.1h-4zM192.7 122.6h4v1.3h-4zM197.6 122.9h4v1.4h-4zM202.5 123.2h4v1.5h-4zM178.0 123.7h4v0.9h-4zM182.9 124.2h4v1.0h-4zM187.8 124.8h4v1.1h-4zM192.7 125.3h4v1.3h-4zM197.6 125.9h4v1.4h-4zM202.5 126.4h4v1.5h-4zM178.0 125.8h4v0.9h-4zM182.9 126.5h4v1.0h-4zM187.8 127.3h4v1.1h-4zM192.7 128.1h4v1.3h-4zM197.6 128.8h4v1.4h-4zM202.5 129.6h4v1.5h-4z" fill="#8eaacb" opacity="0.85"/>
<text x="180.20" y="138.70" font-size="7.9" fill="#222" text-anchor="start" font-weight="normal" >TCGA transcriptome</text>
<text x="292.00" y="13.20" font-size="12.5" fill="#000" text-anchor="start" font-weight="bold" >b</text>
<line x1="310.00" y1="23.50" x2="657.00" y2="23.50" stroke="#6a6262" stroke-width="1.0" />
<text x="482.50" y="19.00" font-size="8.1" fill="#222" text-anchor="middle" font-weight="normal" >DEGs1</text>
<rect x="310.00" y="28.00" width="112.00" height="106.50" fill="#dad2de" filter="url(#hebg)"/>
<g filter="url(#he)">
<path d="M326.60,42.30 C327.20,42.22 331.56,42.71 333.00,42.80 C334.44,42.89 339.40,43.35 341.00,43.20 C342.60,43.05 347.30,42.02 349.00,41.30 C350.70,40.58 356.36,36.90 358.00,36.00 C359.64,35.10 364.00,32.85 365.40,32.30 C366.80,31.75 370.47,30.87 372.00,30.50 C373.53,30.13 379.50,28.35 380.70,28.60 C381.90,28.85 383.07,32.26 384.00,33.00 C384.93,33.74 388.80,35.26 390.00,36.00 C391.20,36.74 394.90,39.40 396.00,40.40 C397.10,41.40 400.00,44.77 401.00,46.00 C402.00,47.23 405.00,51.10 406.00,52.70 C407.00,54.30 410.10,60.07 411.00,62.00 C411.90,63.93 414.25,70.00 415.00,72.00 C415.75,74.00 418.15,80.46 418.50,82.00 C418.85,83.54 418.95,86.30 418.50,87.40 C418.05,88.50 414.81,91.97 414.00,93.00 C413.19,94.03 411.50,96.90 410.40,97.70 C409.30,98.50 404.44,100.17 403.00,101.00 C401.56,101.83 397.50,105.00 396.00,106.00 C394.50,107.00 389.63,110.00 388.00,111.00 C386.37,112.00 381.50,115.35 379.70,116.00 C377.90,116.65 371.87,117.50 370.00,117.50 C368.13,117.50 362.50,115.95 361.00,116.00 C359.50,116.05 356.10,117.55 355.00,118.00 C353.90,118.45 350.80,120.82 350.00,120.50 C349.20,120.18 347.58,115.93 347.00,114.80 C346.42,113.67 344.68,110.45 344.20,109.20 C343.72,107.95 342.47,103.68 342.20,102.30 C341.93,100.92 341.37,96.37 341.50,95.40 C341.63,94.43 342.74,93.15 343.50,92.60 C344.26,92.05 348.47,90.59 349.10,89.90 C349.73,89.21 349.94,86.67 349.80,85.70 C349.66,84.73 348.19,81.58 347.70,80.20 C347.21,78.82 345.38,73.57 344.90,71.90 C344.42,70.23 343.31,64.89 342.90,63.50 C342.49,62.11 341.43,59.10 340.80,58.00 C340.17,56.90 337.36,53.47 336.60,52.50 C335.84,51.53 333.86,49.05 333.20,48.30 C332.54,47.55 330.62,45.47 330.00,45.00 C329.38,44.53 327.34,43.87 327.00,43.60 C326.66,43.33 326.00,42.38 326.60,42.30Z" fill="#8c68a4" stroke="none" stroke-width="1" />
<path d="M313.00,96.50 C313.65,95.70 316.90,94.75 318.00,95.00 C319.10,95.25 322.80,97.90 324.00,99.00 C325.20,100.10 328.70,104.70 330.00,106.00 C331.30,107.30 335.60,111.00 337.00,112.00 C338.40,113.00 342.80,115.30 344.00,116.00 C345.20,116.70 348.35,118.35 349.00,119.00 C349.65,119.65 350.80,121.90 350.50,122.50 C350.20,123.10 347.05,124.55 346.00,125.00 C344.95,125.45 341.30,126.40 340.00,127.00 C338.70,127.60 334.30,130.55 333.00,131.00 C331.70,131.45 328.10,132.00 327.00,131.50 C325.90,131.00 323.00,127.35 322.00,126.00 C321.00,124.65 317.90,119.60 317.00,118.00 C316.10,116.40 313.55,111.50 313.00,110.00 C312.45,108.50 311.50,104.35 311.50,103.00 C311.50,101.65 312.35,97.30 313.00,96.50Z" fill="#8c68a4" stroke="none" stroke-width="1" />
</g>
<path d="M349.00,41.50 C349.60,40.32 356.77,37.34 358.00,37.00 C359.23,36.66 366.13,36.40 367.40,36.40 C368.67,36.40 375.77,36.80 377.00,37.00 C378.23,37.20 384.40,38.76 385.80,39.40 C387.20,40.04 396.63,45.58 398.00,46.60 C399.37,47.62 405.30,53.14 406.30,54.70 C407.30,56.26 412.19,67.82 413.00,70.00 C413.81,72.18 418.40,85.97 418.50,87.40 C418.60,88.83 415.73,91.99 414.50,91.50 C413.27,91.01 401.77,81.37 400.00,80.00 C398.23,78.63 389.87,72.07 388.00,71.00 C386.13,69.93 373.93,64.81 372.00,64.00 C370.07,63.19 360.53,59.42 359.00,58.80 C357.47,58.18 349.67,55.85 349.00,54.70 C348.33,53.55 348.40,42.68 349.00,41.50Z" fill="#3434a6" stroke="none" stroke-width="1" opacity="0.66"/>
<ellipse cx="366.4" cy="102.6" rx="9.8" ry="9" fill="#c42c5c" opacity="0.6" transform="rotate(-20 366.4 102.6)"/>
<ellipse cx="318.8" cy="104.6" rx="4.6" ry="5" fill="#c42c5c" opacity="0.55"/>
<ellipse cx="331.7" cy="123.6" rx="6" ry="5" fill="#c42c5c" opacity="0.55" transform="rotate(-30 331.7 123.6)"/>
<line x1="312.70" y1="131.40" x2="316.80" y2="131.40" stroke="#111" stroke-width="1.0" />
<text x="420.00" y="123.80" font-size="7.05" fill="#2e3aa0" text-anchor="end" font-weight="bold" >Cold_desert</text>
<text x="420.00" y="133.00" font-size="7.05" fill="#cc2040" text-anchor="end" font-weight="bold" >Hot_inflammatory</text>
<rect x="438.00" y="34.50" width="93.40" height="95.90" fill="#ebebeb" />
<line x1="451.30" y1="34.50" x2="451.30" y2="130.40" stroke="#fff" stroke-width="0.35" />
<line x1="481.70" y1="34.50" x2="481.70" y2="130.40" stroke="#fff" stroke-width="0.35" />
<line x1="512.10" y1="34.50" x2="512.10" y2="130.40" stroke="#fff" stroke-width="0.35" />
<line x1="438.00" y1="44.35" x2="531.40" y2="44.35" stroke="#fff" stroke-width="0.35" />
<line x1="438.00" y1="61.05" x2="531.40" y2="61.05" stroke="#fff" stroke-width="0.35" />
<line x1="438.00" y1="77.75" x2="531.40" y2="77.75" stroke="#fff" stroke-width="0.35" />
<line x1="438.00" y1="94.45" x2="531.40" y2="94.45" stroke="#fff" stroke-width="0.35" />
<line x1="438.00" y1="111.15" x2="531.40" y2="111.15" stroke="#fff" stroke-width="0.35" />
<line x1="438.00" y1="127.85" x2="531.40" y2="127.85" stroke="#fff" stroke-width="0.35" />
<line x1="466.50" y1="34.50" x2="466.50" y2="130.40" stroke="#fff" stroke-width="0.7" />
<line x1="496.90" y1="34.50" x2="496.90" y2="130.40" stroke="#fff" stroke-width="0.7" />
<line x1="527.30" y1="34.50" x2="527.30" y2="130.40" stroke="#fff" stroke-width="0.7" />
<line x1="438.00" y1="36.00" x2="531.40" y2="36.00" stroke="#fff" stroke-width="0.7" />
<line x1="438.00" y1="52.70" x2="531.40" y2="52.70" stroke="#fff" stroke-width="0.7" />
<line x1="438.00" y1="69.40" x2="531.40" y2="69.40" stroke="#fff" stroke-width="0.7" />
<line x1="438.00" y1="86.10" x2="531.40" y2="86.10" stroke="#fff" stroke-width="0.7" />
<line x1="438.00" y1="102.80" x2="531.40" y2="102.80" stroke="#fff" stroke-width="0.7" />
<line x1="438.00" y1="119.50" x2="531.40" y2="119.50" stroke="#fff" stroke-width="0.7" />
<text x="435.30" y="31.60" font-size="7" fill="#222" text-anchor="start" font-weight="normal" >UMAP</text>
<text x="433.60" y="38.80" font-size="7.8" fill="#333" text-anchor="end" font-weight="normal" >35</text>
<line x1="434.20" y1="36.00" x2="436.20" y2="36.00" stroke="#333" stroke-width="0.5" />
<text x="433.60" y="55.50" font-size="7.8" fill="#333" text-anchor="end" font-weight="normal" >30</text>
<line x1="434.20" y1="52.70" x2="436.20" y2="52.70" stroke="#333" stroke-width="0.5" />
<text x="433.60" y="72.20" font-size="7.8" fill="#333" text-anchor="end" font-weight="normal" >25</text>
<line x1="434.20" y1="69.40" x2="436.20" y2="69.40" stroke="#333" stroke-width="0.5" />
<text x="433.60" y="88.90" font-size="7.8" fill="#333" text-anchor="end" font-weight="normal" >20</text>
<line x1="434.20" y1="86.10" x2="436.20" y2="86.10" stroke="#333" stroke-width="0.5" />
<text x="433.60" y="105.60" font-size="7.8" fill="#333" text-anchor="end" font-weight="normal" >15</text>
<line x1="434.20" y1="102.80" x2="436.20" y2="102.80" stroke="#333" stroke-width="0.5" />
<text x="433.60" y="122.30" font-size="7.8" fill="#333" text-anchor="end" font-weight="normal" >10</text>
<line x1="434.20" y1="119.50" x2="436.20" y2="119.50" stroke="#333" stroke-width="0.5" />
<text x="466.40" y="138.30" font-size="7.7" fill="#333" text-anchor="middle" font-weight="normal" >10</text>
<line x1="466.40" y1="130.40" x2="466.40" y2="132.20" stroke="#333" stroke-width="0.5" />
<text x="495.00" y="138.30" font-size="7.7" fill="#333" text-anchor="middle" font-weight="normal" >20</text>
<line x1="495.00" y1="130.40" x2="495.00" y2="132.20" stroke="#333" stroke-width="0.5" />
<text x="525.00" y="138.30" font-size="7.7" fill="#333" text-anchor="middle" font-weight="normal" >30</text>
<line x1="525.00" y1="130.40" x2="525.00" y2="132.20" stroke="#333" stroke-width="0.5" />
<path d="M468.9 39.2h0M472.0 39.2h0M475.1 39.2h0M484.3 39.2h0M487.4 39.2h0M496.6 39.2h0M453.6 42.5h0M456.7 42.5h0M465.9 42.5h0M468.9 42.5h0M475.1 42.5h0M478.1 42.5h0M484.3 42.5h0M490.4 42.5h0M456.7 45.9h0M459.7 45.9h0M462.8 45.9h0M465.9 45.9h0M475.1 45.9h0M478.1 45.9h0M502.7 45.9h0M508.8 45.9h0M456.7 49.2h0M462.8 49.2h0M472.0 49.2h0M478.1 49.2h0M484.3 49.2h0M490.4 49.2h0M472.0 52.5h0M475.1 52.5h0M478.1 52.5h0M484.3 52.5h0M487.4 52.5h0M490.4 52.5h0M496.6 52.5h0M502.7 52.5h0M462.8 55.9h0M465.9 55.9h0M468.9 55.9h0M472.0 55.9h0M475.1 55.9h0M481.2 55.9h0M496.6 55.9h0M462.8 59.2h0M465.9 59.2h0M472.0 59.2h0M475.1 59.2h0M478.1 59.2h0M490.4 59.2h0M505.8 59.2h0M515.0 59.2h0M462.8 62.5h0M465.9 62.5h0M468.9 62.5h0M472.0 62.5h0M475.1 62.5h0M478.1 62.5h0M481.2 62.5h0M484.3 62.5h0M490.4 62.5h0M511.9 62.5h0M462.8 65.8h0M468.9 65.8h0M472.0 65.8h0M475.1 65.8h0M478.1 65.8h0M481.2 65.8h0M484.3 65.8h0M487.4 65.8h0M490.4 65.8h0M515.0 65.8h0M521.1 65.8h0M465.9 69.2h0M468.9 69.2h0M475.1 69.2h0M478.1 69.2h0M481.2 69.2h0M487.4 69.2h0M490.4 69.2h0M499.6 69.2h0M508.8 69.2h0M465.9 72.5h0M468.9 72.5h0M472.0 72.5h0M478.1 72.5h0M481.2 72.5h0M484.3 72.5h0M490.4 72.5h0M505.8 72.5h0M468.9 75.8h0M472.0 75.8h0M475.1 75.8h0M478.1 75.8h0M481.2 75.8h0M484.3 75.8h0M487.4 75.8h0M493.5 75.8h0M496.6 75.8h0M499.6 75.8h0M502.7 75.8h0M505.8 75.8h0M524.2 75.8h0M472.0 79.2h0M475.1 79.2h0M478.1 79.2h0M481.2 79.2h0M484.3 79.2h0M487.4 79.2h0M493.5 79.2h0M496.6 79.2h0M515.0 79.2h0M527.3 79.2h0M468.9 82.5h0M472.0 82.5h0M475.1 82.5h0M478.1 82.5h0M481.2 82.5h0M484.3 82.5h0M487.4 82.5h0M490.4 82.5h0M496.6 82.5h0M499.6 82.5h0M502.7 82.5h0M505.8 82.5h0M515.0 82.5h0M518.0 82.5h0M521.1 82.5h0M524.2 82.5h0M465.9 85.8h0M468.9 85.8h0M472.0 85.8h0M475.1 85.8h0M478.1 85.8h0M481.2 85.8h0M484.3 85.8h0M487.4 85.8h0M490.4 85.8h0M493.5 85.8h0M496.6 85.8h0M499.6 85.8h0M502.7 85.8h0M505.8 85.8h0M511.9 85.8h0M518.0 85.8h0M521.1 85.8h0M524.2 85.8h0M468.9 89.2h0M472.0 89.2h0M475.1 89.2h0M478.1 89.2h0M481.2 89.2h0M484.3 89.2h0M487.4 89.2h0M490.4 89.2h0M493.5 89.2h0M496.6 89.2h0M502.7 89.2h0M505.8 89.2h0M518.0 89.2h0M441.3 92.5h0M444.4 92.5h0M447.4 92.5h0M450.5 92.5h0M456.7 92.5h0M462.8 92.5h0M465.9 92.5h0M468.9 92.5h0M472.0 92.5h0M475.1 92.5h0M478.1 92.5h0M481.2 92.5h0M484.3 92.5h0M487.4 92.5h0M490.4 92.5h0M493.5 92.5h0M496.6 92.5h0M499.6 92.5h0M502.7 92.5h0M441.3 95.8h0M447.4 95.8h0M453.6 95.8h0M456.7 95.8h0M459.7 95.8h0M462.8 95.8h0M465.9 95.8h0M468.9 95.8h0M478.1 95.8h0M484.3 95.8h0M487.4 95.8h0M493.5 95.8h0M496.6 95.8h0M499.6 95.8h0M502.7 95.8h0M505.8 95.8h0M511.9 95.8h0M441.3 99.1h0M447.4 99.1h0M450.5 99.1h0M456.7 99.1h0M465.9 99.1h0M472.0 99.1h0M475.1 99.1h0M481.2 99.1h0M487.4 99.1h0M493.5 99.1h0M496.6 99.1h0M499.6 99.1h0M502.7 99.1h0M505.8 99.1h0M508.8 99.1h0M447.4 102.5h0M450.5 102.5h0M453.6 102.5h0M456.7 102.5h0M462.8 102.5h0M468.9 102.5h0M472.0 102.5h0M475.1 102.5h0M484.3 102.5h0M487.4 102.5h0M496.6 102.5h0M502.7 102.5h0M505.8 102.5h0M456.7 105.8h0M459.7 105.8h0M465.9 105.8h0M468.9 105.8h0M475.1 105.8h0M481.2 105.8h0M484.3 105.8h0M487.4 105.8h0M490.4 105.8h0M499.6 105.8h0M444.4 109.1h0M447.4 109.1h0M453.6 109.1h0M456.7 109.1h0M459.7 109.1h0M465.9 109.1h0M468.9 109.1h0M472.0 109.1h0M475.1 109.1h0M478.1 109.1h0M481.2 109.1h0M484.3 109.1h0M487.4 109.1h0M490.4 109.1h0M493.5 109.1h0M496.6 109.1h0M447.4 115.8h0M450.5 115.8h0M453.6 115.8h0M456.7 115.8h0M459.7 115.8h0M462.8 115.8h0M465.9 115.8h0M468.9 115.8h0M447.4 119.1h0M453.6 119.1h0M459.7 119.1h0M447.4 122.5h0M450.5 122.5h0" stroke="#a6cee3" stroke-width="3.1" stroke-linecap="round" fill="none" />
<path d="M478.1 39.2h0M487.4 42.5h0M487.4 45.9h0M493.5 49.2h0M515.0 49.2h0M502.7 55.9h0M505.8 55.9h0M450.5 95.8h0M481.2 95.8h0M447.4 105.8h0" stroke="#cab2d6" stroke-width="3.1" stroke-linecap="round" fill="none" />
<path d="M481.2 39.2h0M518.0 59.2h0M508.8 62.5h0M502.7 65.8h0M496.6 69.2h0M505.8 69.2h0M505.8 79.2h0M499.6 102.5h0M472.0 105.8h0" stroke="#6a3d9a" stroke-width="3.1" stroke-linecap="round" fill="none" />
<path d="M490.4 39.2h0M472.0 45.9h0M493.5 45.9h0M481.2 49.2h0M499.6 49.2h0M515.0 52.5h0M478.1 55.9h0M487.4 59.2h0M511.9 59.2h0M502.7 62.5h0M496.6 65.8h0M511.9 65.8h0M515.0 69.2h0M496.6 72.5h0M502.7 72.5h0M518.0 72.5h0M490.4 75.8h0M511.9 75.8h0M515.0 75.8h0M527.3 82.5h0M459.7 92.5h0M515.0 92.5h0M444.4 99.1h0M462.8 99.1h0M444.4 105.8h0M450.5 105.8h0M462.8 105.8h0M447.4 125.8h0" stroke="#fdbf6f" stroke-width="3.1" stroke-linecap="round" fill="none" />
<path d="M493.5 39.2h0M453.6 45.9h0M502.7 49.2h0M475.1 72.5h0M453.6 92.5h0M478.1 99.1h0M462.8 119.1h0M453.6 122.5h0" stroke="#33a02c" stroke-width="3.1" stroke-linecap="round" fill="none" />
<path d="M459.7 42.5h0M502.7 42.5h0M484.3 55.9h0M518.0 62.5h0M499.6 65.8h0M508.8 72.5h0M511.9 79.2h0M511.9 82.5h0M475.1 95.8h0M490.4 99.1h0M465.9 102.5h0M478.1 102.5h0M481.2 102.5h0M478.1 105.8h0M465.9 119.1h0" stroke="#1f78b4" stroke-width="3.1" stroke-linecap="round" fill="none" />
<path d="M462.8 42.5h0M481.2 45.9h0M490.4 45.9h0M496.6 45.9h0M453.6 49.2h0M465.9 49.2h0M487.4 49.2h0M511.9 49.2h0M462.8 52.5h0M493.5 52.5h0M511.9 52.5h0M490.4 55.9h0M468.9 59.2h0M493.5 59.2h0M508.8 59.2h0M505.8 65.8h0M508.8 65.8h0M502.7 69.2h0M487.4 72.5h0M511.9 72.5h0M518.0 75.8h0M521.1 75.8h0M508.8 79.2h0M521.1 79.2h0M508.8 82.5h0M508.8 85.8h0M515.0 85.8h0M499.6 89.2h0M505.8 92.5h0M453.6 99.1h0M450.5 125.8h0" stroke="#fb9a99" stroke-width="3.1" stroke-linecap="round" fill="none" />
<path d="M472.0 42.5h0M496.6 42.5h0M511.9 45.9h0M496.6 62.5h0M508.8 75.8h0" stroke="#ffff99" stroke-width="3.1" stroke-linecap="round" fill="none" />
<path d="M481.2 42.5h0M493.5 42.5h0M505.8 45.9h0M481.2 52.5h0M505.8 52.5h0M493.5 55.9h0M508.8 55.9h0M511.9 55.9h0M481.2 59.2h0M499.6 59.2h0M515.0 62.5h0M465.9 65.8h0M484.3 69.2h0M493.5 69.2h0M511.9 69.2h0M518.0 69.2h0M521.1 69.2h0M468.9 79.2h0M490.4 79.2h0M524.2 79.2h0M508.8 89.2h0M508.8 95.8h0M484.3 99.1h0M441.3 102.5h0M459.7 102.5h0M493.5 102.5h0M450.5 109.1h0M450.5 119.1h0" stroke="#e31a1c" stroke-width="3.1" stroke-linecap="round" fill="none" />
<path d="M499.6 42.5h0M468.9 45.9h0M484.3 45.9h0M459.7 49.2h0M468.9 49.2h0M496.6 49.2h0M505.8 49.2h0M508.8 49.2h0M465.9 52.5h0M499.6 52.5h0M508.8 52.5h0M487.4 55.9h0M499.6 55.9h0M515.0 55.9h0M493.5 62.5h0M499.6 62.5h0M493.5 65.8h0M518.0 65.8h0M472.0 69.2h0M493.5 72.5h0M499.6 72.5h0M515.0 72.5h0M465.9 89.2h0M511.9 89.2h0M515.0 89.2h0M508.8 92.5h0M511.9 92.5h0M444.4 95.8h0M472.0 95.8h0M490.4 95.8h0M444.4 102.5h0M453.6 105.8h0M462.8 109.1h0M456.7 119.1h0" stroke="#ff7f00" stroke-width="3.1" stroke-linecap="round" fill="none" />
<path d="M499.6 45.9h0M475.1 49.2h0M496.6 59.2h0M518.0 79.2h0" stroke="#b15928" stroke-width="3.1" stroke-linecap="round" fill="none" />
<path d="M468.9 52.5h0M502.7 59.2h0M505.8 62.5h0M465.9 82.5h0M493.5 82.5h0M459.7 99.1h0M468.9 99.1h0M490.4 102.5h0M493.5 105.8h0M496.6 105.8h0M502.7 105.8h0" stroke="#b2df8a" stroke-width="3.1" stroke-linecap="round" fill="none" />
<text x="532.40" y="66.60" font-size="6.3" fill="#222" text-anchor="start" font-weight="normal" >FXYD3</text>
<rect x="533.60" y="69.80" width="4.80" height="2.60" fill="#b15928" />
<rect x="533.60" y="72.40" width="4.80" height="2.60" fill="#ffff99" />
<text x="540.60" y="73.80" font-size="6.0" fill="#333" text-anchor="start" font-weight="normal" >5</text>
<rect x="533.60" y="75.00" width="4.80" height="2.60" fill="#6a3d9a" />
<rect x="533.60" y="77.60" width="4.80" height="2.60" fill="#cab2d6" />
<text x="540.60" y="79.88" font-size="6.0" fill="#333" text-anchor="start" font-weight="normal" >4</text>
<rect x="533.60" y="80.20" width="4.80" height="2.60" fill="#ff7f00" />
<rect x="533.60" y="82.80" width="4.80" height="2.60" fill="#fdbf6f" />
<text x="540.60" y="85.96" font-size="6.0" fill="#333" text-anchor="start" font-weight="normal" >3</text>
<rect x="533.60" y="85.40" width="4.80" height="2.60" fill="#e31a1c" />
<rect x="533.60" y="88.00" width="4.80" height="2.60" fill="#fb9a99" />
<text x="540.60" y="92.04" font-size="6.0" fill="#333" text-anchor="start" font-weight="normal" >2</text>
<rect x="533.60" y="90.60" width="4.80" height="2.60" fill="#33a02c" />
<rect x="533.60" y="93.20" width="4.80" height="2.60" fill="#b2df8a" />
<text x="540.60" y="98.12" font-size="6.0" fill="#333" text-anchor="start" font-weight="normal" >1</text>
<rect x="533.60" y="95.80" width="4.80" height="2.60" fill="#1f78b4" />
<rect x="533.60" y="98.40" width="4.80" height="2.60" fill="#a6cee3" />
<text x="540.60" y="104.20" font-size="6.0" fill="#333" text-anchor="start" font-weight="normal" >0</text>
<rect x="564.40" y="34.50" width="94.20" height="95.90" fill="#ebebeb" />
<line x1="578.90" y1="34.50" x2="578.90" y2="130.40" stroke="#fff" stroke-width="0.35" />
<line x1="609.30" y1="34.50" x2="609.30" y2="130.40" stroke="#fff" stroke-width="0.35" />
<line x1="639.70" y1="34.50" x2="639.70" y2="130.40" stroke="#fff" stroke-width="0.35" />
<line x1="564.40" y1="44.35" x2="658.60" y2="44.35" stroke="#fff" stroke-width="0.35" />
<line x1="564.40" y1="61.05" x2="658.60" y2="61.05" stroke="#fff" stroke-width="0.35" />
<line x1="564.40" y1="77.75" x2="658.60" y2="77.75" stroke="#fff" stroke-width="0.35" />
<line x1="564.40" y1="94.45" x2="658.60" y2="94.45" stroke="#fff" stroke-width="0.35" />
<line x1="564.40" y1="111.15" x2="658.60" y2="111.15" stroke="#fff" stroke-width="0.35" />
<line x1="564.40" y1="127.85" x2="658.60" y2="127.85" stroke="#fff" stroke-width="0.35" />
<line x1="594.10" y1="34.50" x2="594.10" y2="130.40" stroke="#fff" stroke-width="0.7" />
<line x1="624.50" y1="34.50" x2="624.50" y2="130.40" stroke="#fff" stroke-width="0.7" />
<line x1="654.90" y1="34.50" x2="654.90" y2="130.40" stroke="#fff" stroke-width="0.7" />
<line x1="564.40" y1="36.00" x2="658.60" y2="36.00" stroke="#fff" stroke-width="0.7" />
<line x1="564.40" y1="52.70" x2="658.60" y2="52.70" stroke="#fff" stroke-width="0.7" />
<line x1="564.40" y1="69.40" x2="658.60" y2="69.40" stroke="#fff" stroke-width="0.7" />
<line x1="564.40" y1="86.10" x2="658.60" y2="86.10" stroke="#fff" stroke-width="0.7" />
<line x1="564.40" y1="102.80" x2="658.60" y2="102.80" stroke="#fff" stroke-width="0.7" />
<line x1="564.40" y1="119.50" x2="658.60" y2="119.50" stroke="#fff" stroke-width="0.7" />
<text x="564.80" y="31.60" font-size="7" fill="#222" text-anchor="start" font-weight="normal" >UMAP</text>
<text x="562.30" y="38.80" font-size="7.8" fill="#333" text-anchor="end" font-weight="normal" >35</text>
<line x1="562.60" y1="36.00" x2="564.40" y2="36.00" stroke="#333" stroke-width="0.5" />
<text x="562.30" y="55.50" font-size="7.8" fill="#333" text-anchor="end" font-weight="normal" >30</text>
<line x1="562.60" y1="52.70" x2="564.40" y2="52.70" stroke="#333" stroke-width="0.5" />
<text x="562.30" y="72.20" font-size="7.8" fill="#333" text-anchor="end" font-weight="normal" >25</text>
<line x1="562.60" y1="69.40" x2="564.40" y2="69.40" stroke="#333" stroke-width="0.5" />
<text x="562.30" y="88.90" font-size="7.8" fill="#333" text-anchor="end" font-weight="normal" >20</text>
<line x1="562.60" y1="86.10" x2="564.40" y2="86.10" stroke="#333" stroke-width="0.5" />
<text x="562.30" y="105.60" font-size="7.8" fill="#333" text-anchor="end" font-weight="normal" >15</text>
<line x1="562.60" y1="102.80" x2="564.40" y2="102.80" stroke="#333" stroke-width="0.5" />
<text x="562.30" y="122.30" font-size="7.8" fill="#333" text-anchor="end" font-weight="normal" >10</text>
<line x1="562.60" y1="119.50" x2="564.40" y2="119.50" stroke="#333" stroke-width="0.5" />
<text x="593.60" y="138.30" font-size="7.7" fill="#333" text-anchor="middle" font-weight="normal" >10</text>
<line x1="593.60" y1="130.40" x2="593.60" y2="132.20" stroke="#333" stroke-width="0.5" />
<text x="623.00" y="138.30" font-size="7.7" fill="#333" text-anchor="middle" font-weight="normal" >20</text>
<line x1="623.00" y1="130.40" x2="623.00" y2="132.20" stroke="#333" stroke-width="0.5" />
<text x="654.00" y="138.30" font-size="7.7" fill="#333" text-anchor="middle" font-weight="normal" >30</text>
<line x1="654.00" y1="130.40" x2="654.00" y2="132.20" stroke="#333" stroke-width="0.5" />
<path d="M595.0 37.5h3.07v3.33h-3.07zM598.1 37.5h3.07v3.33h-3.07zM601.1 37.5h3.07v3.33h-3.07zM604.2 37.5h3.07v3.33h-3.07zM607.3 37.5h3.07v3.33h-3.07zM610.4 37.5h3.07v3.33h-3.07zM613.4 37.5h3.07v3.33h-3.07zM616.5 37.5h3.07v3.33h-3.07zM619.6 37.5h3.07v3.33h-3.07zM622.6 37.5h3.07v3.33h-3.07zM579.6 40.9h3.07v3.33h-3.07zM582.7 40.9h3.07v3.33h-3.07zM585.8 40.9h3.07v3.33h-3.07zM588.9 40.9h3.07v3.33h-3.07zM591.9 40.9h3.07v3.33h-3.07zM595.0 40.9h3.07v3.33h-3.07zM598.1 40.9h3.07v3.33h-3.07zM601.1 40.9h3.07v3.33h-3.07zM604.2 40.9h3.07v3.33h-3.07zM607.3 40.9h3.07v3.33h-3.07zM610.4 40.9h3.07v3.33h-3.07zM613.4 40.9h3.07v3.33h-3.07zM616.5 40.9h3.07v3.33h-3.07zM619.6 40.9h3.07v3.33h-3.07zM622.6 40.9h3.07v3.33h-3.07zM625.7 40.9h3.07v3.33h-3.07zM628.8 40.9h3.07v3.33h-3.07zM579.6 44.2h3.07v3.33h-3.07zM582.7 44.2h3.07v3.33h-3.07zM585.8 44.2h3.07v3.33h-3.07zM588.9 44.2h3.07v3.33h-3.07zM591.9 44.2h3.07v3.33h-3.07zM595.0 44.2h3.07v3.33h-3.07zM598.1 44.2h3.07v3.33h-3.07zM601.1 44.2h3.07v3.33h-3.07zM604.2 44.2h3.07v3.33h-3.07zM607.3 44.2h3.07v3.33h-3.07zM610.4 44.2h3.07v3.33h-3.07zM613.4 44.2h3.07v3.33h-3.07zM616.5 44.2h3.07v3.33h-3.07zM619.6 44.2h3.07v3.33h-3.07zM622.6 44.2h3.07v3.33h-3.07zM625.7 44.2h3.07v3.33h-3.07zM628.8 44.2h3.07v3.33h-3.07zM631.8 44.2h3.07v3.33h-3.07zM634.9 44.2h3.07v3.33h-3.07zM638.0 44.2h3.07v3.33h-3.07zM579.6 47.5h3.07v3.33h-3.07zM582.7 47.5h3.07v3.33h-3.07zM585.8 47.5h3.07v3.33h-3.07zM588.9 47.5h3.07v3.33h-3.07zM591.9 47.5h3.07v3.33h-3.07zM595.0 47.5h3.07v3.33h-3.07zM598.1 47.5h3.07v3.33h-3.07zM601.1 47.5h3.07v3.33h-3.07zM604.2 47.5h3.07v3.33h-3.07zM607.3 47.5h3.07v3.33h-3.07zM610.4 47.5h3.07v3.33h-3.07zM613.4 47.5h3.07v3.33h-3.07zM616.5 47.5h3.07v3.33h-3.07zM619.6 47.5h3.07v3.33h-3.07zM622.6 47.5h3.07v3.33h-3.07zM625.7 47.5h3.07v3.33h-3.07zM628.8 47.5h3.07v3.33h-3.07zM631.8 47.5h3.07v3.33h-3.07zM634.9 47.5h3.07v3.33h-3.07zM638.0 47.5h3.07v3.33h-3.07zM641.1 47.5h3.07v3.33h-3.07zM588.9 50.9h3.07v3.33h-3.07zM591.9 50.9h3.07v3.33h-3.07zM595.0 50.9h3.07v3.33h-3.07zM598.1 50.9h3.07v3.33h-3.07zM601.1 50.9h3.07v3.33h-3.07zM604.2 50.9h3.07v3.33h-3.07zM607.3 50.9h3.07v3.33h-3.07zM610.4 50.9h3.07v3.33h-3.07zM613.4 50.9h3.07v3.33h-3.07zM616.5 50.9h3.07v3.33h-3.07zM619.6 50.9h3.07v3.33h-3.07zM622.6 50.9h3.07v3.33h-3.07zM625.7 50.9h3.07v3.33h-3.07zM628.8 50.9h3.07v3.33h-3.07zM631.8 50.9h3.07v3.33h-3.07zM634.9 50.9h3.07v3.33h-3.07zM638.0 50.9h3.07v3.33h-3.07zM641.1 50.9h3.07v3.33h-3.07zM588.9 54.2h3.07v3.33h-3.07zM591.9 54.2h3.07v3.33h-3.07zM595.0 54.2h3.07v3.33h-3.07zM598.1 54.2h3.07v3.33h-3.07zM601.1 54.2h3.07v3.33h-3.07zM604.2 54.2h3.07v3.33h-3.07zM607.3 54.2h3.07v3.33h-3.07zM610.4 54.2h3.07v3.33h-3.07zM613.4 54.2h3.07v3.33h-3.07zM616.5 54.2h3.07v3.33h-3.07zM619.6 54.2h3.07v3.33h-3.07zM622.6 54.2h3.07v3.33h-3.07zM625.7 54.2h3.07v3.33h-3.07zM628.8 54.2h3.07v3.33h-3.07zM631.8 54.2h3.07v3.33h-3.07zM634.9 54.2h3.07v3.33h-3.07zM638.0 54.2h3.07v3.33h-3.07zM641.1 54.2h3.07v3.33h-3.07zM588.9 57.5h3.07v3.33h-3.07zM591.9 57.5h3.07v3.33h-3.07zM595.0 57.5h3.07v3.33h-3.07zM598.1 57.5h3.07v3.33h-3.07zM601.1 57.5h3.07v3.33h-3.07zM604.2 57.5h3.07v3.33h-3.07zM607.3 57.5h3.07v3.33h-3.07zM613.4 57.5h3.07v3.33h-3.07zM616.5 57.5h3.07v3.33h-3.07zM619.6 57.5h3.07v3.33h-3.07zM622.6 57.5h3.07v3.33h-3.07zM625.7 57.5h3.07v3.33h-3.07zM628.8 57.5h3.07v3.33h-3.07zM631.8 57.5h3.07v3.33h-3.07zM634.9 57.5h3.07v3.33h-3.07zM638.0 57.5h3.07v3.33h-3.07zM641.1 57.5h3.07v3.33h-3.07zM644.1 57.5h3.07v3.33h-3.07zM588.9 60.9h3.07v3.33h-3.07zM591.9 60.9h3.07v3.33h-3.07zM595.0 60.9h3.07v3.33h-3.07zM598.1 60.9h3.07v3.33h-3.07zM601.1 60.9h3.07v3.33h-3.07zM604.2 60.9h3.07v3.33h-3.07zM607.3 60.9h3.07v3.33h-3.07zM610.4 60.9h3.07v3.33h-3.07zM616.5 60.9h3.07v3.33h-3.07zM619.6 60.9h3.07v3.33h-3.07zM622.6 60.9h3.07v3.33h-3.07zM625.7 60.9h3.07v3.33h-3.07zM628.8 60.9h3.07v3.33h-3.07zM631.8 60.9h3.07v3.33h-3.07zM634.9 60.9h3.07v3.33h-3.07zM638.0 60.9h3.07v3.33h-3.07zM641.1 60.9h3.07v3.33h-3.07zM644.1 60.9h3.07v3.33h-3.07zM588.9 64.2h3.07v3.33h-3.07zM591.9 64.2h3.07v3.33h-3.07zM595.0 64.2h3.07v3.33h-3.07zM598.1 64.2h3.07v3.33h-3.07zM601.1 64.2h3.07v3.33h-3.07zM604.2 64.2h3.07v3.33h-3.07zM607.3 64.2h3.07v3.33h-3.07zM610.4 64.2h3.07v3.33h-3.07zM613.4 64.2h3.07v3.33h-3.07zM616.5 64.2h3.07v3.33h-3.07zM619.6 64.2h3.07v3.33h-3.07zM622.6 64.2h3.07v3.33h-3.07zM625.7 64.2h3.07v3.33h-3.07zM628.8 64.2h3.07v3.33h-3.07zM631.8 64.2h3.07v3.33h-3.07zM634.9 64.2h3.07v3.33h-3.07zM638.0 64.2h3.07v3.33h-3.07zM641.1 64.2h3.07v3.33h-3.07zM644.1 64.2h3.07v3.33h-3.07zM647.2 64.2h3.07v3.33h-3.07zM591.9 67.5h3.07v3.33h-3.07zM595.0 67.5h3.07v3.33h-3.07zM598.1 67.5h3.07v3.33h-3.07zM601.1 67.5h3.07v3.33h-3.07zM604.2 67.5h3.07v3.33h-3.07zM607.3 67.5h3.07v3.33h-3.07zM610.4 67.5h3.07v3.33h-3.07zM613.4 67.5h3.07v3.33h-3.07zM616.5 67.5h3.07v3.33h-3.07zM619.6 67.5h3.07v3.33h-3.07zM622.6 67.5h3.07v3.33h-3.07zM625.7 67.5h3.07v3.33h-3.07zM628.8 67.5h3.07v3.33h-3.07zM631.8 67.5h3.07v3.33h-3.07zM634.9 67.5h3.07v3.33h-3.07zM638.0 67.5h3.07v3.33h-3.07zM641.1 67.5h3.07v3.33h-3.07zM644.1 67.5h3.07v3.33h-3.07zM647.2 67.5h3.07v3.33h-3.07zM591.9 70.8h3.07v3.33h-3.07zM595.0 70.8h3.07v3.33h-3.07zM598.1 70.8h3.07v3.33h-3.07zM601.1 70.8h3.07v3.33h-3.07zM604.2 70.8h3.07v3.33h-3.07zM607.3 70.8h3.07v3.33h-3.07zM610.4 70.8h3.07v3.33h-3.07zM613.4 70.8h3.07v3.33h-3.07zM616.5 70.8h3.07v3.33h-3.07zM619.6 70.8h3.07v3.33h-3.07zM622.6 70.8h3.07v3.33h-3.07zM625.7 70.8h3.07v3.33h-3.07zM628.8 70.8h3.07v3.33h-3.07zM631.8 70.8h3.07v3.33h-3.07zM634.9 70.8h3.07v3.33h-3.07zM638.0 70.8h3.07v3.33h-3.07zM641.1 70.8h3.07v3.33h-3.07zM644.1 70.8h3.07v3.33h-3.07zM595.0 74.2h3.07v3.33h-3.07zM598.1 74.2h3.07v3.33h-3.07zM601.1 74.2h3.07v3.33h-3.07zM604.2 74.2h3.07v3.33h-3.07zM607.3 74.2h3.07v3.33h-3.07zM610.4 74.2h3.07v3.33h-3.07zM613.4 74.2h3.07v3.33h-3.07zM616.5 74.2h3.07v3.33h-3.07zM619.6 74.2h3.07v3.33h-3.07zM622.6 74.2h3.07v3.33h-3.07zM625.7 74.2h3.07v3.33h-3.07zM628.8 74.2h3.07v3.33h-3.07zM631.8 74.2h3.07v3.33h-3.07zM634.9 74.2h3.07v3.33h-3.07zM638.0 74.2h3.07v3.33h-3.07zM641.1 74.2h3.07v3.33h-3.07zM644.1 74.2h3.07v3.33h-3.07zM647.2 74.2h3.07v3.33h-3.07zM650.3 74.2h3.07v3.33h-3.07zM595.0 77.5h3.07v3.33h-3.07zM598.1 77.5h3.07v3.33h-3.07zM601.1 77.5h3.07v3.33h-3.07zM604.2 77.5h3.07v3.33h-3.07zM607.3 77.5h3.07v3.33h-3.07zM610.4 77.5h3.07v3.33h-3.07zM613.4 77.5h3.07v3.33h-3.07zM616.5 77.5h3.07v3.33h-3.07zM619.6 77.5h3.07v3.33h-3.07zM622.6 77.5h3.07v3.33h-3.07zM631.8 77.5h3.07v3.33h-3.07zM634.9 77.5h3.07v3.33h-3.07zM638.0 77.5h3.07v3.33h-3.07zM641.1 77.5h3.07v3.33h-3.07zM644.1 77.5h3.07v3.33h-3.07zM647.2 77.5h3.07v3.33h-3.07zM650.3 77.5h3.07v3.33h-3.07zM653.3 77.5h3.07v3.33h-3.07zM591.9 80.8h3.07v3.33h-3.07zM595.0 80.8h3.07v3.33h-3.07zM598.1 80.8h3.07v3.33h-3.07zM601.1 80.8h3.07v3.33h-3.07zM604.2 80.8h3.07v3.33h-3.07zM607.3 80.8h3.07v3.33h-3.07zM610.4 80.8h3.07v3.33h-3.07zM613.4 80.8h3.07v3.33h-3.07zM616.5 80.8h3.07v3.33h-3.07zM619.6 80.8h3.07v3.33h-3.07zM622.6 80.8h3.07v3.33h-3.07zM625.7 80.8h3.07v3.33h-3.07zM628.8 80.8h3.07v3.33h-3.07zM631.8 80.8h3.07v3.33h-3.07zM634.9 80.8h3.07v3.33h-3.07zM638.0 80.8h3.07v3.33h-3.07zM641.1 80.8h3.07v3.33h-3.07zM644.1 80.8h3.07v3.33h-3.07zM647.2 80.8h3.07v3.33h-3.07zM650.3 80.8h3.07v3.33h-3.07zM653.3 80.8h3.07v3.33h-3.07zM591.9 84.2h3.07v3.33h-3.07zM595.0 84.2h3.07v3.33h-3.07zM598.1 84.2h3.07v3.33h-3.07zM601.1 84.2h3.07v3.33h-3.07zM604.2 84.2h3.07v3.33h-3.07zM607.3 84.2h3.07v3.33h-3.07zM610.4 84.2h3.07v3.33h-3.07zM613.4 84.2h3.07v3.33h-3.07zM616.5 84.2h3.07v3.33h-3.07zM619.6 84.2h3.07v3.33h-3.07zM622.6 84.2h3.07v3.33h-3.07zM625.7 84.2h3.07v3.33h-3.07zM628.8 84.2h3.07v3.33h-3.07zM631.8 84.2h3.07v3.33h-3.07zM634.9 84.2h3.07v3.33h-3.07zM638.0 84.2h3.07v3.33h-3.07zM641.1 84.2h3.07v3.33h-3.07zM644.1 84.2h3.07v3.33h-3.07zM647.2 84.2h3.07v3.33h-3.07zM650.3 84.2h3.07v3.33h-3.07zM591.9 87.5h3.07v3.33h-3.07zM595.0 87.5h3.07v3.33h-3.07zM598.1 87.5h3.07v3.33h-3.07zM601.1 87.5h3.07v3.33h-3.07zM604.2 87.5h3.07v3.33h-3.07zM607.3 87.5h3.07v3.33h-3.07zM610.4 87.5h3.07v3.33h-3.07zM613.4 87.5h3.07v3.33h-3.07zM616.5 87.5h3.07v3.33h-3.07zM619.6 87.5h3.07v3.33h-3.07zM622.6 87.5h3.07v3.33h-3.07zM625.7 87.5h3.07v3.33h-3.07zM628.8 87.5h3.07v3.33h-3.07zM631.8 87.5h3.07v3.33h-3.07zM634.9 87.5h3.07v3.33h-3.07zM638.0 87.5h3.07v3.33h-3.07zM641.1 87.5h3.07v3.33h-3.07zM644.1 87.5h3.07v3.33h-3.07zM567.4 90.8h3.07v3.33h-3.07zM570.4 90.8h3.07v3.33h-3.07zM573.5 90.8h3.07v3.33h-3.07zM576.6 90.8h3.07v3.33h-3.07zM579.6 90.8h3.07v3.33h-3.07zM582.7 90.8h3.07v3.33h-3.07zM585.8 90.8h3.07v3.33h-3.07zM588.9 90.8h3.07v3.33h-3.07zM591.9 90.8h3.07v3.33h-3.07zM595.0 90.8h3.07v3.33h-3.07zM598.1 90.8h3.07v3.33h-3.07zM601.1 90.8h3.07v3.33h-3.07zM604.2 90.8h3.07v3.33h-3.07zM607.3 90.8h3.07v3.33h-3.07zM610.4 90.8h3.07v3.33h-3.07zM613.4 90.8h3.07v3.33h-3.07zM616.5 90.8h3.07v3.33h-3.07zM619.6 90.8h3.07v3.33h-3.07zM622.6 90.8h3.07v3.33h-3.07zM625.7 90.8h3.07v3.33h-3.07zM628.8 90.8h3.07v3.33h-3.07zM631.8 90.8h3.07v3.33h-3.07zM634.9 90.8h3.07v3.33h-3.07zM638.0 90.8h3.07v3.33h-3.07zM641.1 90.8h3.07v3.33h-3.07zM567.4 94.2h3.07v3.33h-3.07zM570.4 94.2h3.07v3.33h-3.07zM573.5 94.2h3.07v3.33h-3.07zM576.6 94.2h3.07v3.33h-3.07zM579.6 94.2h3.07v3.33h-3.07zM582.7 94.2h3.07v3.33h-3.07zM585.8 94.2h3.07v3.33h-3.07zM588.9 94.2h3.07v3.33h-3.07zM591.9 94.2h3.07v3.33h-3.07zM595.0 94.2h3.07v3.33h-3.07zM598.1 94.2h3.07v3.33h-3.07zM601.1 94.2h3.07v3.33h-3.07zM604.2 94.2h3.07v3.33h-3.07zM607.3 94.2h3.07v3.33h-3.07zM610.4 94.2h3.07v3.33h-3.07zM613.4 94.2h3.07v3.33h-3.07zM616.5 94.2h3.07v3.33h-3.07zM619.6 94.2h3.07v3.33h-3.07zM622.6 94.2h3.07v3.33h-3.07zM625.7 94.2h3.07v3.33h-3.07zM628.8 94.2h3.07v3.33h-3.07zM631.8 94.2h3.07v3.33h-3.07zM634.9 94.2h3.07v3.33h-3.07zM638.0 94.2h3.07v3.33h-3.07zM567.4 97.5h3.07v3.33h-3.07zM570.4 97.5h3.07v3.33h-3.07zM573.5 97.5h3.07v3.33h-3.07zM576.6 97.5h3.07v3.33h-3.07zM579.6 97.5h3.07v3.33h-3.07zM582.7 97.5h3.07v3.33h-3.07zM585.8 97.5h3.07v3.33h-3.07zM588.9 97.5h3.07v3.33h-3.07zM591.9 97.5h3.07v3.33h-3.07zM595.0 97.5h3.07v3.33h-3.07zM598.1 97.5h3.07v3.33h-3.07zM601.1 97.5h3.07v3.33h-3.07zM604.2 97.5h3.07v3.33h-3.07zM607.3 97.5h3.07v3.33h-3.07zM610.4 97.5h3.07v3.33h-3.07zM613.4 97.5h3.07v3.33h-3.07zM616.5 97.5h3.07v3.33h-3.07zM619.6 97.5h3.07v3.33h-3.07zM622.6 97.5h3.07v3.33h-3.07zM625.7 97.5h3.07v3.33h-3.07zM628.8 97.5h3.07v3.33h-3.07zM631.8 97.5h3.07v3.33h-3.07zM634.9 97.5h3.07v3.33h-3.07zM567.4 100.8h3.07v3.33h-3.07zM570.4 100.8h3.07v3.33h-3.07zM573.5 100.8h3.07v3.33h-3.07zM576.6 100.8h3.07v3.33h-3.07zM579.6 100.8h3.07v3.33h-3.07zM582.7 100.8h3.07v3.33h-3.07zM585.8 100.8h3.07v3.33h-3.07zM588.9 100.8h3.07v3.33h-3.07zM591.9 100.8h3.07v3.33h-3.07zM595.0 100.8h3.07v3.33h-3.07zM598.1 100.8h3.07v3.33h-3.07zM601.1 100.8h3.07v3.33h-3.07zM604.2 100.8h3.07v3.33h-3.07zM607.3 100.8h3.07v3.33h-3.07zM610.4 100.8h3.07v3.33h-3.07zM613.4 100.8h3.07v3.33h-3.07zM616.5 100.8h3.07v3.33h-3.07zM619.6 100.8h3.07v3.33h-3.07zM622.6 100.8h3.07v3.33h-3.07zM625.7 100.8h3.07v3.33h-3.07zM628.8 100.8h3.07v3.33h-3.07zM631.8 100.8h3.07v3.33h-3.07zM570.4 104.1h3.07v3.33h-3.07zM573.5 104.1h3.07v3.33h-3.07zM576.6 104.1h3.07v3.33h-3.07zM579.6 104.1h3.07v3.33h-3.07zM582.7 104.1h3.07v3.33h-3.07zM585.8 104.1h3.07v3.33h-3.07zM588.9 104.1h3.07v3.33h-3.07zM591.9 104.1h3.07v3.33h-3.07zM595.0 104.1h3.07v3.33h-3.07zM598.1 104.1h3.07v3.33h-3.07zM601.1 104.1h3.07v3.33h-3.07zM604.2 104.1h3.07v3.33h-3.07zM607.3 104.1h3.07v3.33h-3.07zM610.4 104.1h3.07v3.33h-3.07zM613.4 104.1h3.07v3.33h-3.07zM616.5 104.1h3.07v3.33h-3.07zM619.6 104.1h3.07v3.33h-3.07zM622.6 104.1h3.07v3.33h-3.07zM625.7 104.1h3.07v3.33h-3.07zM628.8 104.1h3.07v3.33h-3.07zM570.4 107.5h3.07v3.33h-3.07zM573.5 107.5h3.07v3.33h-3.07zM576.6 107.5h3.07v3.33h-3.07zM579.6 107.5h3.07v3.33h-3.07zM582.7 107.5h3.07v3.33h-3.07zM585.8 107.5h3.07v3.33h-3.07zM588.9 107.5h3.07v3.33h-3.07zM591.9 107.5h3.07v3.33h-3.07zM595.0 107.5h3.07v3.33h-3.07zM598.1 107.5h3.07v3.33h-3.07zM601.1 107.5h3.07v3.33h-3.07zM604.2 107.5h3.07v3.33h-3.07zM607.3 107.5h3.07v3.33h-3.07zM610.4 107.5h3.07v3.33h-3.07zM613.4 107.5h3.07v3.33h-3.07zM616.5 107.5h3.07v3.33h-3.07zM619.6 107.5h3.07v3.33h-3.07zM622.6 107.5h3.07v3.33h-3.07zM573.5 114.1h3.07v3.33h-3.07zM576.6 114.1h3.07v3.33h-3.07zM579.6 114.1h3.07v3.33h-3.07zM582.7 114.1h3.07v3.33h-3.07zM585.8 114.1h3.07v3.33h-3.07zM588.9 114.1h3.07v3.33h-3.07zM591.9 114.1h3.07v3.33h-3.07zM595.0 114.1h3.07v3.33h-3.07zM573.5 117.5h3.07v3.33h-3.07zM576.6 117.5h3.07v3.33h-3.07zM579.6 117.5h3.07v3.33h-3.07zM582.7 117.5h3.07v3.33h-3.07zM585.8 117.5h3.07v3.33h-3.07zM588.9 117.5h3.07v3.33h-3.07zM591.9 117.5h3.07v3.33h-3.07zM573.5 120.8h3.07v3.33h-3.07zM576.6 120.8h3.07v3.33h-3.07zM579.6 120.8h3.07v3.33h-3.07zM573.5 124.1h3.07v3.33h-3.07zM576.6 124.1h3.07v3.33h-3.07z" fill="#e2a4ba" stroke="#c21a56" stroke-width="0.75"/>
<path d="M586.90,40.40 C588.02,39.28 595.55,37.70 598.10,37.40 C600.65,37.10 609.54,37.10 612.40,37.40 C615.26,37.70 624.04,39.28 626.70,40.40 C629.36,41.52 636.75,46.55 639.00,48.60 C641.25,50.65 647.56,58.24 649.20,60.90 C650.84,63.56 654.62,72.75 655.40,75.20 C656.18,77.65 657.21,84.18 657.00,85.40 C656.79,86.62 654.90,87.81 653.30,87.40 C651.70,86.99 643.25,82.73 641.00,81.30 C638.75,79.87 632.84,74.73 630.80,73.10 C628.76,71.47 623.05,66.32 620.60,65.00 C618.15,63.68 608.96,60.93 606.30,59.90 C603.64,58.87 595.94,55.83 594.00,54.70 C592.06,53.57 587.61,50.03 586.90,48.60 C586.19,47.17 585.78,41.52 586.90,40.40Z" fill="#4c44aa" stroke="none" stroke-width="1" opacity="0.68"/>
<ellipse cx="608.4" cy="99" rx="11.5" ry="9.3" fill="#d83a58" opacity="0.5"/>
<ellipse cx="574" cy="122" rx="3.5" ry="3.2" fill="#e8a070" opacity="0.6"/>
<text x="657.00" y="118.00" font-size="7.05" fill="#2e3aa0" text-anchor="end" font-weight="bold" >Cold_desert</text>
<text x="657.00" y="126.80" font-size="7.05" fill="#cc2040" text-anchor="end" font-weight="bold" >Hot_inflammatory</text>
<text x="660.50" y="66.60" font-size="7.6" fill="#222" text-anchor="start" font-weight="normal" >CD8A</text>
<rect x="661.20" y="70.00" width="4.60" height="30.70" fill="url(#spec)" />
<text x="666.80" y="72.60" font-size="6.6" fill="#333" text-anchor="start" font-weight="normal" >1.6</text>
<text x="666.80" y="80.10" font-size="6.6" fill="#333" text-anchor="start" font-weight="normal" >1.2</text>
<text x="666.80" y="87.60" font-size="6.6" fill="#333" text-anchor="start" font-weight="normal" >0.8</text>
<text x="666.80" y="95.10" font-size="6.6" fill="#333" text-anchor="start" font-weight="normal" >0.4</text>
<text x="666.80" y="102.60" font-size="6.6" fill="#333" text-anchor="start" font-weight="normal" >0.0</text>
<text x="0.00" y="159.20" font-size="12.5" fill="#000" text-anchor="start" font-weight="bold" >c</text>
<line x1="19.00" y1="163.00" x2="239.00" y2="163.00" stroke="#a39c9c" stroke-width="1.0" />
<text x="129.70" y="158.40" font-size="8.3" fill="#222" text-anchor="middle" font-weight="normal" >DEGs2</text>
<rect x="18.20" y="166.80" width="9.40" height="62.70" fill="#cfd2cf" />
<rect x="18.20" y="236.00" width="9.40" height="63.00" fill="#cfd2cf" />
<text x="0.00" y="0.00" font-size="6.7" fill="#d02030" text-anchor="middle" font-weight="bold" transform="translate(25.0 197.6) rotate(-90)">Hot_inflammatory</text>
<text x="0.00" y="0.00" font-size="6.7" fill="#3040a8" text-anchor="middle" font-weight="bold" transform="translate(25.0 267.0) rotate(-90)">Cold_desert</text>
<rect x="27.60" y="166.80" width="66.20" height="62.70" fill="#e4dee8" filter="url(#hebg)"/>
<rect x="27.60" y="236.00" width="66.20" height="63.00" fill="#e4dee8" filter="url(#hebg)"/>
<g filter="url(#he2)">
<path d="M29.30,189.90 C29.15,188.80 32.67,181.66 33.70,179.60 C34.73,177.54 38.57,170.03 39.60,169.30 C40.63,168.57 42.83,171.27 44.00,172.30 C45.17,173.33 50.86,178.43 51.30,179.60 C51.74,180.77 49.43,183.26 48.40,184.00 C47.37,184.74 42.32,186.34 41.00,187.00 C39.68,187.66 36.37,190.31 35.20,190.60 C34.03,190.89 29.45,191.00 29.30,189.90Z" fill="#b48cbc" stroke="none" stroke-width="1" />
<path d="M55.70,181.00 C56.43,180.63 63.51,180.22 66.00,180.30 C68.49,180.38 78.40,181.94 80.60,181.80 C82.80,181.66 86.68,179.12 88.00,178.90 C89.32,178.68 93.22,179.09 93.80,179.60 C94.38,180.11 94.97,183.41 93.80,184.00 C92.63,184.59 84.44,185.35 82.10,185.50 C79.76,185.65 72.74,185.65 70.40,185.50 C68.06,185.35 60.17,184.45 58.70,184.00 C57.23,183.55 54.97,181.37 55.70,181.00Z" fill="#9c6ea8" stroke="none" stroke-width="1" />
<path d="M44.00,198.70 C44.89,196.65 48.73,187.12 49.90,185.50 C51.07,183.88 54.09,182.65 55.70,182.50 C57.31,182.35 63.65,183.55 66.00,184.00 C68.35,184.45 78.18,185.97 79.20,187.00 C80.22,188.03 77.08,192.40 76.20,194.30 C75.32,196.20 71.57,203.81 70.40,206.00 C69.23,208.19 65.67,214.30 64.50,216.20 C63.33,218.10 59.58,223.68 58.70,225.00 C57.82,226.32 56.58,229.70 55.70,229.40 C54.82,229.10 51.07,223.61 49.90,222.00 C48.73,220.39 44.89,214.90 44.00,213.30 C43.11,211.70 41.00,207.46 41.00,206.00 C41.00,204.54 43.11,200.75 44.00,198.70Z" fill="#c2a2c8" stroke="none" stroke-width="1" />
</g>
<path d="M33.70,181.00 C34.16,179.60 38.37,174.40 39.60,174.00 C40.83,173.60 45.12,176.20 46.00,177.00 C46.88,177.80 48.90,181.10 48.40,182.00 C47.90,182.90 42.34,185.40 41.00,186.00 C39.66,186.60 35.73,188.50 35.00,188.00 C34.27,187.50 33.24,182.40 33.70,181.00Z" fill="#dc5a78" stroke="none" stroke-width="1" opacity="0.55"/>
<path d="M45.50,198.70 C46.16,196.80 49.69,189.72 51.30,188.40 C52.91,187.08 59.40,185.64 61.60,185.50 C63.80,185.36 71.69,186.56 73.30,187.00 C74.91,187.44 77.85,188.44 77.70,189.90 C77.55,191.36 73.12,199.11 71.80,201.60 C70.48,204.09 65.81,213.19 64.50,214.80 C63.19,216.41 60.16,217.70 58.70,217.70 C57.24,217.70 51.30,215.83 49.90,214.80 C48.50,213.77 45.14,209.01 44.70,207.40 C44.26,205.79 44.84,200.60 45.50,198.70Z" fill="#e2627f" stroke="none" stroke-width="1" opacity="0.6"/>
<line x1="89.50" y1="228.00" x2="92.00" y2="228.00" stroke="#111" stroke-width="1" />
<g filter="url(#he2)">
<path d="M28.20,296.70 C25.12,295.37 28.03,272.04 28.20,270.00 C28.37,267.96 30.76,257.10 31.60,256.00 C32.44,254.90 43.69,248.65 45.00,248.00 C46.31,247.35 56.93,243.34 57.80,243.10 C58.67,242.85 62.05,242.92 62.40,243.10 C62.74,243.28 64.07,245.91 64.70,246.60 C65.33,247.29 73.97,255.98 75.00,257.00 C76.03,258.02 84.41,265.70 85.20,267.00 C86.00,268.30 90.68,281.51 90.90,283.00 C91.12,284.49 92.84,296.01 89.70,296.70 C86.56,297.38 31.27,298.03 28.20,296.70Z" fill="#b6a6c8" stroke="none" stroke-width="1" />
<path d="M79.00,240.00 C79.30,239.20 82.90,236.90 84.00,237.00 C85.10,237.10 89.20,240.00 90.00,241.00 C90.80,242.00 92.40,246.24 92.00,247.00 C91.60,247.76 87.10,248.80 86.00,248.60 C84.90,248.40 81.70,245.86 81.00,245.00 C80.30,244.14 78.70,240.80 79.00,240.00Z" fill="#7a5a98" stroke="none" stroke-width="1" />
</g>
<path d="M41.90,256.00 C42.61,254.83 46.35,252.20 48.00,251.50 C49.65,250.80 53.90,250.12 56.00,250.00 C58.10,249.88 64.13,250.21 66.00,250.50 C67.87,250.79 70.72,251.51 72.00,252.50 C73.28,253.49 76.00,257.31 77.00,259.00 C78.00,260.69 80.23,265.25 80.60,267.00 C80.97,268.75 80.50,272.66 80.20,274.00 C79.90,275.34 79.54,277.98 78.00,278.50 C76.46,279.02 69.33,278.79 67.00,278.50 C64.67,278.21 59.87,276.81 58.00,276.00 C56.13,275.19 52.52,272.77 51.00,271.60 C49.48,270.43 46.06,267.18 45.00,266.00 C43.94,264.82 42.26,262.67 41.90,261.50 C41.54,260.33 41.19,257.17 41.90,256.00Z" fill="#5252b6" stroke="none" stroke-width="1" opacity="0.62"/>
<line x1="89.50" y1="297.00" x2="92.00" y2="297.00" stroke="#111" stroke-width="1" />
<rect x="102.90" y="171.20" width="57.40" height="59.80" fill="#ebebeb" />
<line x1="111.70" y1="171.20" x2="111.70" y2="231.00" stroke="#fff" stroke-width="0.3" />
<line x1="131.30" y1="171.20" x2="131.30" y2="231.00" stroke="#fff" stroke-width="0.3" />
<line x1="150.80" y1="171.20" x2="150.80" y2="231.00" stroke="#fff" stroke-width="0.3" />
<line x1="102.90" y1="186.70" x2="160.30" y2="186.70" stroke="#fff" stroke-width="0.3" />
<line x1="102.90" y1="204.70" x2="160.30" y2="204.70" stroke="#fff" stroke-width="0.3" />
<line x1="102.90" y1="222.60" x2="160.30" y2="222.60" stroke="#fff" stroke-width="0.3" />
<line x1="121.50" y1="171.20" x2="121.50" y2="231.00" stroke="#fff" stroke-width="0.6" />
<line x1="141.10" y1="171.20" x2="141.10" y2="231.00" stroke="#fff" stroke-width="0.6" />
<line x1="160.50" y1="171.20" x2="160.50" y2="231.00" stroke="#fff" stroke-width="0.6" />
<line x1="102.90" y1="177.70" x2="160.30" y2="177.70" stroke="#fff" stroke-width="0.6" />
<line x1="102.90" y1="195.70" x2="160.30" y2="195.70" stroke="#fff" stroke-width="0.6" />
<line x1="102.90" y1="213.60" x2="160.30" y2="213.60" stroke="#fff" stroke-width="0.6" />
<text x="121.50" y="236.20" font-size="6.2" fill="#444" text-anchor="middle" font-weight="normal" >10</text>
<text x="141.10" y="236.20" font-size="6.2" fill="#444" text-anchor="middle" font-weight="normal" >20</text>
<text x="160.50" y="236.20" font-size="6.2" fill="#444" text-anchor="middle" font-weight="normal" >30</text>
<text x="101.70" y="179.90" font-size="6.2" fill="#444" text-anchor="end" font-weight="normal" >30</text>
<line x1="101.90" y1="177.70" x2="102.90" y2="177.70" stroke="#444" stroke-width="0.4" />
<text x="101.70" y="197.90" font-size="6.2" fill="#444" text-anchor="end" font-weight="normal" >20</text>
<line x1="101.90" y1="195.70" x2="102.90" y2="195.70" stroke="#444" stroke-width="0.4" />
<text x="101.70" y="215.80" font-size="6.2" fill="#444" text-anchor="end" font-weight="normal" >10</text>
<line x1="101.90" y1="213.60" x2="102.90" y2="213.60" stroke="#444" stroke-width="0.4" />
<text x="103.20" y="169.60" font-size="5.6" fill="#222" text-anchor="start" font-weight="normal" >UMAP</text>
<polygon points="118.4,172.8 123.6,172.8 123.6,186.1 122.4,189.5 119.5,191.4 117.2,194.5 117.2,197.5 114.8,197.5 114.3,194.1 111.0,190.5 104.6,185.6 104.6,182.1 111.0,178.7 115.5,175.8" fill="#f27a4c"/>
<polygon points="114.8,198.0 121.0,192.5 126.0,188.0 131.5,184.4 132.6,183.5 139.5,183.5 145.2,186.1 150.9,191.2 160.2,197.2 160.2,198.4 154.3,199.5 148.6,201.8 140.6,207.5 132.6,213.2 124.6,220.0 122.4,222.8 122.4,228.7 112.0,228.7 112.0,225.4 114.8,225.4" fill="#f27a4c"/>
<rect x="179.20" y="171.60" width="58.40" height="59.40" fill="#ebebeb" />
<line x1="188.00" y1="171.60" x2="188.00" y2="231.00" stroke="#fff" stroke-width="0.3" />
<line x1="207.60" y1="171.60" x2="207.60" y2="231.00" stroke="#fff" stroke-width="0.3" />
<line x1="227.10" y1="171.60" x2="227.10" y2="231.00" stroke="#fff" stroke-width="0.3" />
<line x1="179.20" y1="186.70" x2="237.60" y2="186.70" stroke="#fff" stroke-width="0.3" />
<line x1="179.20" y1="204.70" x2="237.60" y2="204.70" stroke="#fff" stroke-width="0.3" />
<line x1="179.20" y1="222.60" x2="237.60" y2="222.60" stroke="#fff" stroke-width="0.3" />
<line x1="197.80" y1="171.60" x2="197.80" y2="231.00" stroke="#fff" stroke-width="0.6" />
<line x1="217.40" y1="171.60" x2="217.40" y2="231.00" stroke="#fff" stroke-width="0.6" />
<line x1="236.80" y1="171.60" x2="236.80" y2="231.00" stroke="#fff" stroke-width="0.6" />
<line x1="179.20" y1="177.70" x2="237.60" y2="177.70" stroke="#fff" stroke-width="0.6" />
<line x1="179.20" y1="195.70" x2="237.60" y2="195.70" stroke="#fff" stroke-width="0.6" />
<line x1="179.20" y1="213.60" x2="237.60" y2="213.60" stroke="#fff" stroke-width="0.6" />
<text x="197.80" y="236.20" font-size="6.2" fill="#444" text-anchor="middle" font-weight="normal" >10</text>
<text x="217.40" y="236.20" font-size="6.2" fill="#444" text-anchor="middle" font-weight="normal" >20</text>
<text x="236.80" y="236.20" font-size="6.2" fill="#444" text-anchor="middle" font-weight="normal" >30</text>
<text x="178.00" y="179.90" font-size="6.2" fill="#444" text-anchor="end" font-weight="normal" >30</text>
<line x1="178.20" y1="177.70" x2="179.20" y2="177.70" stroke="#444" stroke-width="0.4" />
<text x="178.00" y="197.90" font-size="6.2" fill="#444" text-anchor="end" font-weight="normal" >20</text>
<line x1="178.20" y1="195.70" x2="179.20" y2="195.70" stroke="#444" stroke-width="0.4" />
<text x="178.00" y="215.80" font-size="6.2" fill="#444" text-anchor="end" font-weight="normal" >10</text>
<line x1="178.20" y1="213.60" x2="179.20" y2="213.60" stroke="#444" stroke-width="0.4" />
<text x="179.50" y="170.00" font-size="5.6" fill="#222" text-anchor="start" font-weight="normal" >UMAP</text>
<polygon points="194.7,172.8 199.9,172.8 199.9,186.1 198.7,189.5 195.8,191.4 193.5,194.5 193.5,197.5 191.1,197.5 190.6,194.1 187.3,190.5 180.9,185.6 180.9,182.1 187.3,178.7 191.8,175.8" fill="#a21c52"/>
<polygon points="191.1,198.0 197.3,192.5 202.3,188.0 207.8,184.4 208.9,183.5 215.8,183.5 221.5,186.1 227.2,191.2 236.5,197.2 236.5,198.4 230.6,199.5 224.9,201.8 216.9,207.5 208.9,213.2 200.9,220.0 198.7,222.8 198.7,228.7 188.3,228.7 188.3,225.4 191.1,225.4" fill="#a21c52"/>
<rect x="209.09" y="192.30" width="1.4" height="1.4" fill="#6a78c0"/><rect x="212.26" y="206.51" width="1.4" height="1.4" fill="#6a78c0"/><rect x="221.67" y="188.53" width="1.4" height="1.4" fill="#6a78c0"/><rect x="223.00" y="187.62" width="1.4" height="1.4" fill="#6a78c0"/><rect x="215.38" y="187.10" width="1.4" height="1.4" fill="#6a78c0"/>
<rect x="102.50" y="236.80" width="59.10" height="60.20" fill="#ebebeb" />
<line x1="113.00" y1="236.80" x2="113.00" y2="297.00" stroke="#fff" stroke-width="0.3" />
<line x1="128.70" y1="236.80" x2="128.70" y2="297.00" stroke="#fff" stroke-width="0.3" />
<line x1="144.70" y1="236.80" x2="144.70" y2="297.00" stroke="#fff" stroke-width="0.3" />
<line x1="102.50" y1="250.20" x2="161.60" y2="250.20" stroke="#fff" stroke-width="0.3" />
<line x1="102.50" y1="264.50" x2="161.60" y2="264.50" stroke="#fff" stroke-width="0.3" />
<line x1="102.50" y1="278.80" x2="161.60" y2="278.80" stroke="#fff" stroke-width="0.3" />
<line x1="105.10" y1="236.80" x2="105.10" y2="297.00" stroke="#fff" stroke-width="0.6" />
<line x1="120.90" y1="236.80" x2="120.90" y2="297.00" stroke="#fff" stroke-width="0.6" />
<line x1="136.60" y1="236.80" x2="136.60" y2="297.00" stroke="#fff" stroke-width="0.6" />
<line x1="152.80" y1="236.80" x2="152.80" y2="297.00" stroke="#fff" stroke-width="0.6" />
<line x1="102.50" y1="242.80" x2="161.60" y2="242.80" stroke="#fff" stroke-width="0.6" />
<line x1="102.50" y1="257.60" x2="161.60" y2="257.60" stroke="#fff" stroke-width="0.6" />
<line x1="102.50" y1="271.40" x2="161.60" y2="271.40" stroke="#fff" stroke-width="0.6" />
<line x1="102.50" y1="286.20" x2="161.60" y2="286.20" stroke="#fff" stroke-width="0.6" />
<text x="105.10" y="302.20" font-size="6.2" fill="#444" text-anchor="middle" font-weight="normal" >15</text>
<text x="120.90" y="302.20" font-size="6.2" fill="#444" text-anchor="middle" font-weight="normal" >20</text>
<text x="136.60" y="302.20" font-size="6.2" fill="#444" text-anchor="middle" font-weight="normal" >25</text>
<text x="152.80" y="302.20" font-size="6.2" fill="#444" text-anchor="middle" font-weight="normal" >30</text>
<text x="101.30" y="245.00" font-size="6.2" fill="#444" text-anchor="end" font-weight="normal" >20</text>
<line x1="101.50" y1="242.80" x2="102.50" y2="242.80" stroke="#444" stroke-width="0.4" />
<text x="101.30" y="259.80" font-size="6.2" fill="#444" text-anchor="end" font-weight="normal" >15</text>
<line x1="101.50" y1="257.60" x2="102.50" y2="257.60" stroke="#444" stroke-width="0.4" />
<text x="101.30" y="273.60" font-size="6.2" fill="#444" text-anchor="end" font-weight="normal" >10</text>
<line x1="101.50" y1="271.40" x2="102.50" y2="271.40" stroke="#444" stroke-width="0.4" />
<text x="101.30" y="288.40" font-size="6.2" fill="#444" text-anchor="end" font-weight="normal" >5</text>
<line x1="101.50" y1="286.20" x2="102.50" y2="286.20" stroke="#444" stroke-width="0.4" />
<path d="M130.3 240.0h0M133.5 240.0h0M127.0 242.9h0M130.3 242.9h0M133.5 242.9h0M130.3 245.8h0M133.5 245.8h0M136.8 245.8h0M123.8 248.8h0M127.0 248.8h0M130.3 248.8h0M133.5 248.8h0M136.8 248.8h0M120.5 251.9h0M123.8 251.9h0M127.0 251.9h0M130.3 251.9h0M133.5 251.9h0M140.1 251.9h0M117.2 254.9h0M123.8 254.9h0M127.0 254.9h0M130.3 254.9h0M133.5 254.9h0M136.8 254.9h0M140.1 254.9h0M117.2 258.0h0M120.5 258.0h0M123.8 258.0h0M127.0 258.0h0M136.8 258.0h0M140.1 258.0h0M143.3 258.0h0M114.0 261.0h0M117.2 261.0h0M120.5 261.0h0M123.8 261.0h0M127.0 261.0h0M130.3 261.0h0M133.5 261.0h0M136.8 261.0h0M140.1 261.0h0M143.3 261.0h0M114.0 264.1h0M117.2 264.1h0M120.5 264.1h0M123.8 264.1h0M127.0 264.1h0M130.3 264.1h0M133.5 264.1h0M136.8 264.1h0M140.1 264.1h0M143.3 264.1h0M146.6 264.1h0M107.5 267.2h0M117.2 267.2h0M120.5 267.2h0M123.8 267.2h0M127.0 267.2h0M130.3 267.2h0M136.8 267.2h0M140.1 267.2h0M143.3 267.2h0M146.6 267.2h0M149.8 267.2h0M153.1 267.2h0M114.0 270.2h0M117.2 270.2h0M120.5 270.2h0M123.8 270.2h0M127.0 270.2h0M130.3 270.2h0M133.5 270.2h0M136.8 270.2h0M143.3 270.2h0M146.6 270.2h0M149.8 270.2h0M153.1 270.2h0M156.4 270.2h0M107.5 273.2h0M110.7 273.2h0M114.0 273.2h0M117.2 273.2h0M120.5 273.2h0M123.8 273.2h0M127.0 273.2h0M133.5 273.2h0M136.8 273.2h0M140.1 273.2h0M143.3 273.2h0M149.8 273.2h0M153.1 273.2h0M156.4 273.2h0M159.6 273.2h0M104.2 276.3h0M110.7 276.3h0M117.2 276.3h0M120.5 276.3h0M123.8 276.3h0M127.0 276.3h0M130.3 276.3h0M133.5 276.3h0M136.8 276.3h0M140.1 276.3h0M143.3 276.3h0M146.6 276.3h0M149.8 276.3h0M156.4 276.3h0M159.6 276.3h0M104.2 279.4h0M107.5 279.4h0M110.7 279.4h0M114.0 279.4h0M117.2 279.4h0M123.8 279.4h0M127.0 279.4h0M130.3 279.4h0M133.5 279.4h0M136.8 279.4h0M143.3 279.4h0M146.6 279.4h0M149.8 279.4h0M156.4 279.4h0M159.6 279.4h0M104.2 282.4h0M107.5 282.4h0M110.7 282.4h0M114.0 282.4h0M120.5 282.4h0M123.8 282.4h0M127.0 282.4h0M130.3 282.4h0M133.5 282.4h0M136.8 282.4h0M140.1 282.4h0M143.3 282.4h0M149.8 282.4h0M156.4 282.4h0M159.6 282.4h0M104.2 285.4h0M110.7 285.4h0M114.0 285.4h0M117.2 285.4h0M120.5 285.4h0M123.8 285.4h0M127.0 285.4h0M140.1 285.4h0M143.3 285.4h0M146.6 285.4h0M153.1 285.4h0M156.4 285.4h0M159.6 285.4h0M110.7 288.5h0M114.0 288.5h0M117.2 288.5h0M120.5 288.5h0M123.8 288.5h0M127.0 288.5h0M130.3 288.5h0M133.5 288.5h0M136.8 288.5h0M140.1 288.5h0M143.3 288.5h0M146.6 288.5h0M149.8 288.5h0M153.1 288.5h0M156.4 288.5h0M159.6 288.5h0M114.0 291.6h0M117.2 291.6h0M127.0 291.6h0M130.3 291.6h0M133.5 291.6h0M140.1 291.6h0M146.6 291.6h0M156.4 291.6h0M123.8 294.6h0M127.0 294.6h0M130.3 294.6h0M133.5 294.6h0M136.8 294.6h0M140.1 294.6h0M143.3 294.6h0M146.6 294.6h0M153.1 294.6h0" stroke="#a6cee3" stroke-width="2.0" stroke-linecap="square" fill="none" />
<path d="M127.0 245.8h0M120.5 254.9h0M133.5 267.2h0M107.5 270.2h0M110.7 270.2h0M107.5 276.3h0M143.3 291.6h0M149.8 291.6h0M153.1 291.6h0M149.8 294.6h0" stroke="#e31a1c" stroke-width="2.0" stroke-linecap="square" fill="none" />
<path d="M136.8 251.9h0M114.0 267.2h0M149.8 285.4h0" stroke="#ff7f00" stroke-width="2.0" stroke-linecap="square" fill="none" />
<path d="M130.3 258.0h0M146.6 273.2h0M114.0 276.3h0M120.5 279.4h0M117.2 282.4h0M136.8 291.6h0" stroke="#fb9a99" stroke-width="2.0" stroke-linecap="square" fill="none" />
<path d="M133.5 258.0h0M153.1 276.3h0" stroke="#fdbf6f" stroke-width="2.0" stroke-linecap="square" fill="none" />
<path d="M110.7 264.1h0M104.2 273.2h0M130.3 285.4h0M123.8 291.6h0" stroke="#cab2d6" stroke-width="2.0" stroke-linecap="square" fill="none" />
<path d="M110.7 267.2h0M107.5 285.4h0M120.5 294.6h0" stroke="#33a02c" stroke-width="2.0" stroke-linecap="square" fill="none" />
<path d="M140.1 270.2h0M130.3 273.2h0M146.6 282.4h0M153.1 282.4h0M120.5 291.6h0" stroke="#b15928" stroke-width="2.0" stroke-linecap="square" fill="none" />
<path d="M140.1 279.4h0M153.1 279.4h0M133.5 285.4h0M136.8 285.4h0" stroke="#6a3d9a" stroke-width="2.0" stroke-linecap="square" fill="none" />
<rect x="179.40" y="237.00" width="58.80" height="60.00" fill="#ebebeb" />
<line x1="189.90" y1="237.00" x2="189.90" y2="297.00" stroke="#fff" stroke-width="0.3" />
<line x1="205.60" y1="237.00" x2="205.60" y2="297.00" stroke="#fff" stroke-width="0.3" />
<line x1="221.60" y1="237.00" x2="221.60" y2="297.00" stroke="#fff" stroke-width="0.3" />
<line x1="179.40" y1="250.40" x2="238.20" y2="250.40" stroke="#fff" stroke-width="0.3" />
<line x1="179.40" y1="264.70" x2="238.20" y2="264.70" stroke="#fff" stroke-width="0.3" />
<line x1="179.40" y1="279.00" x2="238.20" y2="279.00" stroke="#fff" stroke-width="0.3" />
<line x1="182.00" y1="237.00" x2="182.00" y2="297.00" stroke="#fff" stroke-width="0.6" />
<line x1="197.80" y1="237.00" x2="197.80" y2="297.00" stroke="#fff" stroke-width="0.6" />
<line x1="213.50" y1="237.00" x2="213.50" y2="297.00" stroke="#fff" stroke-width="0.6" />
<line x1="229.70" y1="237.00" x2="229.70" y2="297.00" stroke="#fff" stroke-width="0.6" />
<line x1="179.40" y1="243.00" x2="238.20" y2="243.00" stroke="#fff" stroke-width="0.6" />
<line x1="179.40" y1="257.80" x2="238.20" y2="257.80" stroke="#fff" stroke-width="0.6" />
<line x1="179.40" y1="271.60" x2="238.20" y2="271.60" stroke="#fff" stroke-width="0.6" />
<line x1="179.40" y1="286.40" x2="238.20" y2="286.40" stroke="#fff" stroke-width="0.6" />
<text x="182.00" y="302.20" font-size="6.2" fill="#444" text-anchor="middle" font-weight="normal" >15</text>
<text x="197.80" y="302.20" font-size="6.2" fill="#444" text-anchor="middle" font-weight="normal" >20</text>
<text x="213.50" y="302.20" font-size="6.2" fill="#444" text-anchor="middle" font-weight="normal" >25</text>
<text x="229.70" y="302.20" font-size="6.2" fill="#444" text-anchor="middle" font-weight="normal" >30</text>
<text x="178.20" y="245.20" font-size="6.2" fill="#444" text-anchor="end" font-weight="normal" >20</text>
<line x1="178.40" y1="243.00" x2="179.40" y2="243.00" stroke="#444" stroke-width="0.4" />
<text x="178.20" y="260.00" font-size="6.2" fill="#444" text-anchor="end" font-weight="normal" >15</text>
<line x1="178.40" y1="257.80" x2="179.40" y2="257.80" stroke="#444" stroke-width="0.4" />
<text x="178.20" y="273.80" font-size="6.2" fill="#444" text-anchor="end" font-weight="normal" >10</text>
<line x1="178.40" y1="271.60" x2="179.40" y2="271.60" stroke="#444" stroke-width="0.4" />
<text x="178.20" y="288.60" font-size="6.2" fill="#444" text-anchor="end" font-weight="normal" >5</text>
<line x1="178.40" y1="286.40" x2="179.40" y2="286.40" stroke="#444" stroke-width="0.4" />
<path d="M207.2 240.0h0M210.4 240.0h0M203.9 242.9h0M207.2 242.9h0M210.4 242.9h0M203.9 245.8h0M207.2 245.8h0M210.4 245.8h0M213.7 245.8h0M200.7 248.8h0M203.9 248.8h0M207.2 248.8h0M210.4 248.8h0M213.7 248.8h0M197.4 251.9h0M200.7 251.9h0M203.9 251.9h0M207.2 251.9h0M210.4 251.9h0M213.7 251.9h0M217.0 251.9h0M194.1 254.9h0M197.4 254.9h0M200.7 254.9h0M203.9 254.9h0M207.2 254.9h0M210.4 254.9h0M213.7 254.9h0M217.0 254.9h0M194.1 258.0h0M197.4 258.0h0M200.7 258.0h0M203.9 258.0h0M207.2 258.0h0M210.4 258.0h0M213.7 258.0h0M217.0 258.0h0M220.2 258.0h0M190.9 261.0h0M194.1 261.0h0M197.4 261.0h0M200.7 261.0h0M203.9 261.0h0M207.2 261.0h0M210.4 261.0h0M213.7 261.0h0M217.0 261.0h0M220.2 261.0h0M187.6 264.1h0M190.9 264.1h0M194.1 264.1h0M197.4 264.1h0M200.7 264.1h0M203.9 264.1h0M207.2 264.1h0M210.4 264.1h0M213.7 264.1h0M217.0 264.1h0M220.2 264.1h0M223.5 264.1h0M184.4 267.2h0M187.6 267.2h0M190.9 267.2h0M194.1 267.2h0M197.4 267.2h0M200.7 267.2h0M203.9 267.2h0M207.2 267.2h0M210.4 267.2h0M213.7 267.2h0M217.0 267.2h0M220.2 267.2h0M223.5 267.2h0M226.7 267.2h0M230.0 267.2h0M184.4 270.2h0M187.6 270.2h0M190.9 270.2h0M194.1 270.2h0M197.4 270.2h0M200.7 270.2h0M203.9 270.2h0M207.2 270.2h0M210.4 270.2h0M213.7 270.2h0M217.0 270.2h0M220.2 270.2h0M223.5 270.2h0M226.7 270.2h0M230.0 270.2h0M233.3 270.2h0M181.1 273.2h0M184.4 273.2h0M187.6 273.2h0M190.9 273.2h0M194.1 273.2h0M197.4 273.2h0M200.7 273.2h0M203.9 273.2h0M207.2 273.2h0M210.4 273.2h0M213.7 273.2h0M217.0 273.2h0M220.2 273.2h0M223.5 273.2h0M226.7 273.2h0M230.0 273.2h0M233.3 273.2h0M236.5 273.2h0M181.1 276.3h0M184.4 276.3h0M187.6 276.3h0M190.9 276.3h0M194.1 276.3h0M197.4 276.3h0M200.7 276.3h0M203.9 276.3h0M207.2 276.3h0M210.4 276.3h0M213.7 276.3h0M217.0 276.3h0M220.2 276.3h0M223.5 276.3h0M226.7 276.3h0M230.0 276.3h0M233.3 276.3h0M236.5 276.3h0M181.1 279.4h0M184.4 279.4h0M187.6 279.4h0M190.9 279.4h0M194.1 279.4h0M197.4 279.4h0M200.7 279.4h0M203.9 279.4h0M207.2 279.4h0M210.4 279.4h0M213.7 279.4h0M217.0 279.4h0M220.2 279.4h0M223.5 279.4h0M226.7 279.4h0M230.0 279.4h0M233.3 279.4h0M236.5 279.4h0M181.1 282.4h0M184.4 282.4h0M187.6 282.4h0M190.9 282.4h0M194.1 282.4h0M197.4 282.4h0M200.7 282.4h0M203.9 282.4h0M207.2 282.4h0M210.4 282.4h0M213.7 282.4h0M217.0 282.4h0M220.2 282.4h0M223.5 282.4h0M226.7 282.4h0M230.0 282.4h0M233.3 282.4h0M236.5 282.4h0M181.1 285.4h0M184.4 285.4h0M187.6 285.4h0M190.9 285.4h0M194.1 285.4h0M197.4 285.4h0M200.7 285.4h0M203.9 285.4h0M207.2 285.4h0M210.4 285.4h0M213.7 285.4h0M217.0 285.4h0M220.2 285.4h0M223.5 285.4h0M226.7 285.4h0M230.0 285.4h0M233.3 285.4h0M236.5 285.4h0M187.6 288.5h0M190.9 288.5h0M194.1 288.5h0M197.4 288.5h0M200.7 288.5h0M203.9 288.5h0M207.2 288.5h0M210.4 288.5h0M213.7 288.5h0M217.0 288.5h0M220.2 288.5h0M223.5 288.5h0M226.7 288.5h0M230.0 288.5h0M233.3 288.5h0M236.5 288.5h0M190.9 291.6h0M194.1 291.6h0M197.4 291.6h0M200.7 291.6h0M203.9 291.6h0M207.2 291.6h0M210.4 291.6h0M213.7 291.6h0M217.0 291.6h0M220.2 291.6h0M223.5 291.6h0M226.7 291.6h0M230.0 291.6h0M233.3 291.6h0M197.4 294.6h0M200.7 294.6h0M203.9 294.6h0M207.2 294.6h0M210.4 294.6h0M213.7 294.6h0M217.0 294.6h0M220.2 294.6h0M223.5 294.6h0M226.7 294.6h0M230.0 294.6h0" stroke="#b4407a" stroke-width="2.7" stroke-linecap="square" fill="none" />
<ellipse cx="211.5" cy="268.8" rx="21" ry="10.4" fill="#5c50b0" opacity="0.7" transform="rotate(27 211.5 268.8)"/>
<text x="163.00" y="191.00" font-size="3.6" fill="#333" text-anchor="start" font-weight="normal" >FXYD3</text>
<rect x="163.20" y="193.50" width="3.70" height="19.10" fill="#ef6b3c" />
<text x="240.00" y="192.00" font-size="4.5" fill="#333" text-anchor="start" font-weight="normal" >CD8A</text>
<rect x="240.20" y="194.00" width="2.60" height="18.60" fill="url(#spec)" />
<text x="244.50" y="196.50" font-size="4.6" fill="#333" text-anchor="start" font-weight="normal" >3</text>
<text x="244.50" y="201.70" font-size="4.6" fill="#333" text-anchor="start" font-weight="normal" >2</text>
<text x="244.50" y="206.90" font-size="4.6" fill="#333" text-anchor="start" font-weight="normal" >1</text>
<text x="244.50" y="212.10" font-size="4.6" fill="#333" text-anchor="start" font-weight="normal" >0</text>
<text x="162.00" y="253.40" font-size="3.6" fill="#333" text-anchor="start" font-weight="normal" >FXYD3</text>
<rect x="163.20" y="259.00" width="3.20" height="2.50" fill="#fdbf6f" />
<rect x="163.20" y="261.50" width="3.20" height="2.50" fill="#ff7f00" />
<text x="167.50" y="263.00" font-size="4.6" fill="#333" text-anchor="start" font-weight="normal" >3</text>
<rect x="163.20" y="264.00" width="3.20" height="2.50" fill="#fb9a99" />
<rect x="163.20" y="266.50" width="3.20" height="2.50" fill="#e31a1c" />
<text x="167.50" y="268.00" font-size="4.6" fill="#333" text-anchor="start" font-weight="normal" >2</text>
<rect x="163.20" y="269.00" width="3.20" height="2.50" fill="#b2df8a" />
<rect x="163.20" y="271.50" width="3.20" height="2.50" fill="#33a02c" />
<text x="167.50" y="273.00" font-size="4.6" fill="#333" text-anchor="start" font-weight="normal" >1</text>
<rect x="163.20" y="274.00" width="3.20" height="2.50" fill="#a6cee3" />
<rect x="163.20" y="276.50" width="3.20" height="2.50" fill="#1f78b4" />
<text x="167.50" y="278.00" font-size="4.6" fill="#333" text-anchor="start" font-weight="normal" >0</text>
<text x="240.00" y="256.30" font-size="4.5" fill="#333" text-anchor="start" font-weight="normal" >CD8A</text>
<rect x="240.20" y="260.00" width="2.60" height="19.00" fill="url(#spec)" />
<text x="244.50" y="262.50" font-size="4.6" fill="#333" text-anchor="start" font-weight="normal" >1.5</text>
<text x="244.50" y="267.80" font-size="4.6" fill="#333" text-anchor="start" font-weight="normal" >1.0</text>
<text x="244.50" y="273.10" font-size="4.6" fill="#333" text-anchor="start" font-weight="normal" >0.5</text>
<text x="244.50" y="278.40" font-size="4.6" fill="#333" text-anchor="start" font-weight="normal" >0.0</text>
<text x="263.90" y="159.40" font-size="12.5" fill="#000" text-anchor="start" font-weight="bold" >d</text>
<line x1="274.00" y1="174.70" x2="557.00" y2="174.70" stroke="#6a6262" stroke-width="1.0" />
<text x="415.80" y="170.30" font-size="8.3" fill="#222" text-anchor="middle" font-weight="normal" >DEGs3</text>
<text x="355.80" y="184.80" font-size="8.9" fill="#cc1f3c" text-anchor="middle" font-weight="bold" >Hot_inflammatory</text>
<text x="494.30" y="184.80" font-size="8.9" fill="#27349c" text-anchor="middle" font-weight="bold" >Cold_desert</text>
<rect x="274.30" y="189.10" width="13.50" height="99.90" fill="#000" />
<rect x="287.80" y="189.10" width="1.30" height="99.90" fill="#c8c8c8" />
<rect x="422.80" y="189.10" width="1.20" height="99.90" fill="#c8c8c8" />
<text x="0.00" y="0.00" font-size="8.3" fill="#34e4e6" text-anchor="middle" font-weight="normal" transform="translate(284.1 206.3) rotate(-90)">CK19</text>
<text x="0.00" y="0.00" font-size="8.3" fill="#e4227a" text-anchor="middle" font-weight="normal" transform="translate(284.1 236.9) rotate(-90)">CD8</text>
<text x="0.00" y="0.00" font-size="8.3" fill="#2c2cf4" text-anchor="middle" font-weight="normal" transform="translate(284.1 271.3) rotate(-90)">DAPI</text>
<g clip-path="url(#cpd1)">
<rect x="289.10" y="189.10" width="133.70" height="99.90" fill="#010106" filter="url(#dapi1)"/>
<path d="M360,189 L423,189 L423,250 L395,235 L370,205 Z" fill="#000" opacity="0.3"/>
<path d="M330,189 L423,189 L423,262 L380,262 L340,240 Z" fill="#000" filter="url(#cd8f)"/>
<path d="M298.00,216.70 C298.80,216.70 301.97,221.97 303.40,223.40 C304.83,224.83 307.10,226.33 308.70,227.40 C310.30,228.47 313.79,229.80 315.40,231.40 C317.01,233.00 319.73,236.91 320.80,239.40 C321.87,241.89 322.87,247.25 323.40,250.10 C323.93,252.95 324.71,258.31 324.80,260.80 C324.89,263.29 324.55,267.01 324.10,268.80 C323.65,270.59 322.15,273.24 321.40,274.20 C320.65,275.16 319.13,275.11 318.50,276.00 C317.87,276.89 317.21,279.45 316.70,280.90 C316.19,282.35 315.58,286.02 314.70,286.90 C313.82,287.78 311.26,287.77 310.10,287.50 C308.94,287.23 307.08,286.67 306.00,284.90 C304.92,283.13 302.88,277.05 302.00,274.20 C301.12,271.35 299.84,265.99 299.40,263.50 C298.96,261.01 299.23,257.29 298.70,255.50 C298.17,253.71 296.39,251.89 295.40,250.10 C294.41,248.31 291.93,243.70 291.30,242.10 C290.67,240.50 290.42,239.17 290.70,238.10 C290.98,237.03 292.60,235.18 293.40,234.10 C294.20,233.02 296.17,231.43 296.70,230.00 C297.23,228.57 297.23,225.17 297.40,223.40 C297.57,221.63 297.20,216.70 298.00,216.70Z" fill="#000" stroke="none" stroke-width="1" />
<g filter="url(#grain)">
<path d="M298.00,216.70 C298.80,216.70 301.97,221.97 303.40,223.40 C304.83,224.83 307.10,226.33 308.70,227.40 C310.30,228.47 313.79,229.80 315.40,231.40 C317.01,233.00 319.73,236.91 320.80,239.40 C321.87,241.89 322.87,247.25 323.40,250.10 C323.93,252.95 324.71,258.31 324.80,260.80 C324.89,263.29 324.55,267.01 324.10,268.80 C323.65,270.59 322.15,273.24 321.40,274.20 C320.65,275.16 319.13,275.11 318.50,276.00 C317.87,276.89 317.21,279.45 316.70,280.90 C316.19,282.35 315.58,286.02 314.70,286.90 C313.82,287.78 311.26,287.77 310.10,287.50 C308.94,287.23 307.08,286.67 306.00,284.90 C304.92,283.13 302.88,277.05 302.00,274.20 C301.12,271.35 299.84,265.99 299.40,263.50 C298.96,261.01 299.23,257.29 298.70,255.50 C298.17,253.71 296.39,251.89 295.40,250.10 C294.41,248.31 291.93,243.70 291.30,242.10 C290.67,240.50 290.42,239.17 290.70,238.10 C290.98,237.03 292.60,235.18 293.40,234.10 C294.20,233.02 296.17,231.43 296.70,230.00 C297.23,228.57 297.23,225.17 297.40,223.40 C297.57,221.63 297.20,216.70 298.00,216.70Z" fill="none" stroke="#36d4dc" stroke-width="3.2" />
<circle cx="323" cy="197" r="1.8" fill="none" stroke="#36d4dc" stroke-width="1.2"/>
<circle cx="328" cy="202" r="2" fill="none" stroke="#36d4dc" stroke-width="1.2"/>
<circle cx="333" cy="197" r="1.6" fill="none" stroke="#36d4dc" stroke-width="1.2"/>
<circle cx="338" cy="204" r="2.2" fill="none" stroke="#36d4dc" stroke-width="1.2"/>
<circle cx="344" cy="200" r="1.6" fill="none" stroke="#36d4dc" stroke-width="1.2"/>
<circle cx="330" cy="209" r="1.8" fill="none" stroke="#36d4dc" stroke-width="1.2"/>
<circle cx="339" cy="211" r="1.6" fill="none" stroke="#36d4dc" stroke-width="1.2"/>
<circle cx="348" cy="207" r="1.4" fill="none" stroke="#36d4dc" stroke-width="1.2"/>
<circle cx="355" cy="204" r="1.3" fill="none" stroke="#36d4dc" stroke-width="1.2"/>
<circle cx="360" cy="210" r="1.2" fill="none" stroke="#36d4dc" stroke-width="1.2"/>
<ellipse cx="347.3" cy="228" rx="6" ry="4" fill="#1a8ea8" stroke="#36d4dc" stroke-width="1.5" transform="rotate(-20 347.3 228)"/>
<ellipse cx="353.4" cy="221.8" rx="4" ry="3.5" fill="#1a8ea8" stroke="#36d4dc" stroke-width="1.5" transform="rotate(0 353.4 221.8)"/>
<ellipse cx="363.7" cy="220.8" rx="5" ry="3.5" fill="#1a8ea8" stroke="#36d4dc" stroke-width="1.5" transform="rotate(10 363.7 220.8)"/>
<ellipse cx="373.9" cy="215.7" rx="4" ry="5" fill="#1a8ea8" stroke="#36d4dc" stroke-width="1.5" transform="rotate(0 373.9 215.7)"/>
<ellipse cx="361.6" cy="229" rx="5" ry="3" fill="#1a8ea8" stroke="#36d4dc" stroke-width="1.5" transform="rotate(-10 361.6 229)"/>
<ellipse cx="345.3" cy="234" rx="5" ry="3" fill="#1a8ea8" stroke="#36d4dc" stroke-width="1.5" transform="rotate(-20 345.3 234)"/>
<ellipse cx="369" cy="226" rx="3.5" ry="3" fill="#1a8ea8" stroke="#36d4dc" stroke-width="1.5" transform="rotate(0 369 226)"/>
<ellipse cx="382.5" cy="248" rx="20" ry="4.6" fill="#1a9ab4" stroke="#36d4dc" stroke-width="1.6" transform="rotate(-33 382.5 248)"/>
<path d="M345.00,246.00 C345.67,243.73 347.93,241.27 349.00,241.00 C350.07,240.73 352.33,242.27 353.00,244.00 C353.67,245.73 354.13,251.33 354.00,254.00 C353.87,256.67 352.93,262.40 352.00,264.00 C351.07,265.60 348.07,266.80 347.00,266.00 C345.93,265.20 344.27,260.67 344.00,258.00 C343.73,255.33 344.33,248.27 345.00,246.00Z" fill="#000" stroke="#36d4dc" stroke-width="1.8" />
<path d="M336,281 C342,272 350,266 362,262" fill="none" stroke="#36d4dc" stroke-width="2.2" />
<path d="M375.00,288.00 C374.60,286.53 375.67,281.87 377.00,280.00 C378.33,278.13 382.73,274.67 385.00,274.00 C387.27,273.33 392.00,273.93 394.00,275.00 C396.00,276.07 399.07,280.00 400.00,282.00 C400.93,284.00 403.67,288.80 401.00,290.00 C398.33,291.20 383.47,291.27 380.00,291.00 C376.53,290.73 375.40,289.47 375.00,288.00Z" fill="#1a8ea8" stroke="#36d4dc" stroke-width="2" />
<path d="M346.00,289.00 C344.93,288.20 346.93,284.67 348.00,284.00 C349.07,283.33 352.93,283.20 354.00,284.00 C355.07,284.80 357.07,289.33 356.00,290.00 C354.93,290.67 347.07,289.80 346.00,289.00Z" fill="#36d4dc" stroke="none" stroke-width="1" />
<path d="M384.00,222.00 C383.87,220.93 386.93,218.00 388.00,218.00 C389.07,218.00 391.87,220.93 392.00,222.00 C392.13,223.07 390.07,226.00 389.00,226.00 C387.93,226.00 384.13,223.07 384.00,222.00Z" fill="#1a8fa8" stroke="none" stroke-width="1" />
</g>
<ellipse cx="347.3" cy="228" rx="2.5" ry="1.4" fill="#000" opacity="0.85" transform="rotate(-20 347.3 228)"/>
<ellipse cx="363.7" cy="220.8" rx="2" ry="1.2" fill="#000" opacity="0.85" transform="rotate(10 363.7 220.8)"/>
<ellipse cx="373.9" cy="215.7" rx="1.5" ry="2" fill="#000" opacity="0.85" transform="rotate(0 373.9 215.7)"/>
<ellipse cx="382.5" cy="248" rx="12" ry="1.2" fill="#000" opacity="0.85" transform="rotate(-33 382.5 248)"/>
<ellipse cx="388" cy="283" rx="5" ry="2.5" fill="#000" opacity="0.85" transform="rotate(0 388 283)"/>
</g>
<g clip-path="url(#cpd2)">
<rect x="424.00" y="189.10" width="133.00" height="99.90" fill="#010108" filter="url(#dapi2)"/>
<path d="M424,262 L470,232 L520,204 L557,198 L557,238 L500,262 L450,289 L424,289 Z" fill="#1a1ae0" opacity="0.25"/>
<g filter="url(#grain)">
<ellipse cx="430" cy="221" rx="4" ry="13" fill="#1a8ea8" stroke="#36d4dc" stroke-width="1.4" transform="rotate(0 430 221)"/>
<ellipse cx="487" cy="202" rx="6" ry="7" fill="#1a8ea8" stroke="#36d4dc" stroke-width="1.4" transform="rotate(30 487 202)"/>
<ellipse cx="464" cy="212" rx="6" ry="7.5" fill="#1a8ea8" stroke="#36d4dc" stroke-width="1.4" transform="rotate(30 464 212)"/>
<ellipse cx="460" cy="229.5" rx="7.5" ry="4.5" fill="#1a8ea8" stroke="#36d4dc" stroke-width="1.4" transform="rotate(-15 460 229.5)"/>
<ellipse cx="491" cy="225" rx="10" ry="11" fill="#1a8ea8" stroke="#36d4dc" stroke-width="1.4" transform="rotate(20 491 225)"/>
<ellipse cx="518" cy="223" rx="10" ry="9" fill="#1a8ea8" stroke="#36d4dc" stroke-width="1.4" transform="rotate(0 518 223)"/>
<ellipse cx="546" cy="215" rx="8" ry="5" fill="#1a8ea8" stroke="#36d4dc" stroke-width="1.4" transform="rotate(-10 546 215)"/>
<ellipse cx="460" cy="248" rx="13.5" ry="8" fill="#1a8ea8" stroke="#36d4dc" stroke-width="1.4" transform="rotate(-20 460 248)"/>
<ellipse cx="492" cy="245" rx="9.5" ry="7" fill="#1a8ea8" stroke="#36d4dc" stroke-width="1.4" transform="rotate(-20 492 245)"/>
<ellipse cx="498" cy="261" rx="11" ry="8.5" fill="#1a8ea8" stroke="#36d4dc" stroke-width="1.4" transform="rotate(-20 498 261)"/>
<ellipse cx="535.5" cy="259.6" rx="19.5" ry="5" fill="#1a8ea8" stroke="#36d4dc" stroke-width="1.4" transform="rotate(-5 535.5 259.6)"/>
<ellipse cx="434" cy="267" rx="6" ry="6.2" fill="#1a8ea8" stroke="#36d4dc" stroke-width="1.4" transform="rotate(0 434 267)"/>
<ellipse cx="450.5" cy="271" rx="8" ry="4" fill="#1a8ea8" stroke="#36d4dc" stroke-width="1.4" transform="rotate(-15 450.5 271)"/>
<ellipse cx="467" cy="269" rx="6" ry="2.7" fill="#1a8ea8" stroke="#36d4dc" stroke-width="1.4" transform="rotate(0 467 269)"/>
<ellipse cx="470" cy="285.5" rx="17" ry="3" fill="#1a8ea8" stroke="#36d4dc" stroke-width="1.4" transform="rotate(0 470 285.5)"/>
<ellipse cx="471" cy="257.5" rx="10" ry="3" fill="#1a8ea8" stroke="#36d4dc" stroke-width="1.4" transform="rotate(-10 471 257.5)"/>
<ellipse cx="431" cy="282" rx="5" ry="5" fill="#1a8ea8" stroke="#36d4dc" stroke-width="1.4" transform="rotate(0 431 282)"/>
<ellipse cx="530" cy="233.5" rx="4" ry="1.5" fill="#1a8ea8" stroke="#36d4dc" stroke-width="1.4" transform="rotate(0 530 233.5)"/>
</g>
<ellipse cx="430" cy="221" rx="1.52" ry="4.16" fill="#000" opacity="0.85" transform="rotate(0 430 221)"/>
<ellipse cx="487" cy="202" rx="2.28" ry="2.24" fill="#000" opacity="0.85" transform="rotate(30 487 202)"/>
<ellipse cx="464" cy="212" rx="2.28" ry="2.40" fill="#000" opacity="0.85" transform="rotate(30 464 212)"/>
<ellipse cx="460" cy="229.5" rx="2.85" ry="1.44" fill="#000" opacity="0.85" transform="rotate(-15 460 229.5)"/>
<ellipse cx="491" cy="225" rx="3.80" ry="3.52" fill="#000" opacity="0.85" transform="rotate(20 491 225)"/>
<ellipse cx="518" cy="223" rx="3.80" ry="2.88" fill="#000" opacity="0.85" transform="rotate(0 518 223)"/>
<ellipse cx="546" cy="215" rx="3.04" ry="1.60" fill="#000" opacity="0.85" transform="rotate(-10 546 215)"/>
<ellipse cx="460" cy="248" rx="5.13" ry="2.56" fill="#000" opacity="0.85" transform="rotate(-20 460 248)"/>
<ellipse cx="492" cy="245" rx="3.61" ry="2.24" fill="#000" opacity="0.85" transform="rotate(-20 492 245)"/>
<ellipse cx="498" cy="261" rx="4.18" ry="2.72" fill="#000" opacity="0.85" transform="rotate(-20 498 261)"/>
<ellipse cx="535.5" cy="259.6" rx="7.41" ry="1.60" fill="#000" opacity="0.85" transform="rotate(-5 535.5 259.6)"/>
<ellipse cx="434" cy="267" rx="2.28" ry="1.98" fill="#000" opacity="0.85" transform="rotate(0 434 267)"/>
<ellipse cx="450.5" cy="271" rx="3.04" ry="1.28" fill="#000" opacity="0.85" transform="rotate(-15 450.5 271)"/>
<ellipse cx="467" cy="269" rx="2.28" ry="0.86" fill="#000" opacity="0.85" transform="rotate(0 467 269)"/>
<ellipse cx="470" cy="285.5" rx="6.46" ry="0.96" fill="#000" opacity="0.85" transform="rotate(0 470 285.5)"/>
<ellipse cx="471" cy="257.5" rx="3.80" ry="0.96" fill="#000" opacity="0.85" transform="rotate(-10 471 257.5)"/>
<ellipse cx="431" cy="282" rx="1.90" ry="1.60" fill="#000" opacity="0.85" transform="rotate(0 431 282)"/>
<g filter="url(#grain)">
<path d="M487,208 C489,214 490,220 491,226" fill="none" stroke="#36d4dc" stroke-width="1.6" />
<path d="M470,214 C476,218 482,222 486,226" fill="none" stroke="#36d4dc" stroke-width="1.6" />
<path d="M478,240 C482,236 486,232 490,230" fill="none" stroke="#36d4dc" stroke-width="1.6" />
<path d="M500,233 C504,228 508,225 512,224" fill="none" stroke="#36d4dc" stroke-width="1.6" />
<path d="M455,258 C462,257 468,256 476,256" fill="none" stroke="#36d4dc" stroke-width="1.6" />
<path d="M505,268 C512,265 518,262 524,260" fill="none" stroke="#36d4dc" stroke-width="1.6" />
</g>
<line x1="542.60" y1="283.00" x2="554.00" y2="283.00" stroke="#fff" stroke-width="1.2" />
</g>
<text x="566.40" y="159.20" font-size="12.5" fill="#000" text-anchor="start" font-weight="bold" >e</text>
<text x="637.30" y="170.10" font-size="8.3" fill="#222" text-anchor="middle" font-weight="normal" >DEGs4</text>
<circle cx="589.4" cy="177.1" r="1.35" fill="#38c6d2"/>
<text x="591.60" y="178.80" font-size="4.95" fill="#222" text-anchor="start" font-weight="normal" >Down regulated</text>
<circle cx="631.6" cy="177.1" r="1.35" fill="#aaa"/>
<text x="633.70" y="178.80" font-size="4.95" fill="#222" text-anchor="start" font-weight="normal" >Not sig</text>
<circle cx="653.5" cy="177.1" r="1.35" fill="#f4a49e"/>
<text x="655.60" y="178.80" font-size="4.95" fill="#222" text-anchor="start" font-weight="normal" >Up regulated</text>
<rect x="591.00" y="181.60" width="90.50" height="87.70" fill="#fff" />
<line x1="592.80" y1="181.60" x2="592.80" y2="269.30" stroke="#e6e6e6" stroke-width="0.6" />
<line x1="614.35" y1="181.60" x2="614.35" y2="269.30" stroke="#e6e6e6" stroke-width="0.6" />
<line x1="635.90" y1="181.60" x2="635.90" y2="269.30" stroke="#e6e6e6" stroke-width="0.6" />
<line x1="657.45" y1="181.60" x2="657.45" y2="269.30" stroke="#e6e6e6" stroke-width="0.6" />
<line x1="679.00" y1="181.60" x2="679.00" y2="269.30" stroke="#e6e6e6" stroke-width="0.6" />
<line x1="603.57" y1="181.60" x2="603.57" y2="269.30" stroke="#f0f0f0" stroke-width="0.4" />
<line x1="625.12" y1="181.60" x2="625.12" y2="269.30" stroke="#f0f0f0" stroke-width="0.4" />
<line x1="646.67" y1="181.60" x2="646.67" y2="269.30" stroke="#f0f0f0" stroke-width="0.4" />
<line x1="668.23" y1="181.60" x2="668.23" y2="269.30" stroke="#f0f0f0" stroke-width="0.4" />
<line x1="591.00" y1="267.50" x2="681.50" y2="267.50" stroke="#e6e6e6" stroke-width="0.6" />
<line x1="591.00" y1="246.90" x2="681.50" y2="246.90" stroke="#e6e6e6" stroke-width="0.6" />
<line x1="591.00" y1="226.30" x2="681.50" y2="226.30" stroke="#e6e6e6" stroke-width="0.6" />
<line x1="591.00" y1="205.70" x2="681.50" y2="205.70" stroke="#e6e6e6" stroke-width="0.6" />
<line x1="591.00" y1="185.10" x2="681.50" y2="185.10" stroke="#e6e6e6" stroke-width="0.6" />
<line x1="591.00" y1="257.20" x2="681.50" y2="257.20" stroke="#f0f0f0" stroke-width="0.4" />
<line x1="591.00" y1="236.60" x2="681.50" y2="236.60" stroke="#f0f0f0" stroke-width="0.4" />
<line x1="591.00" y1="216.00" x2="681.50" y2="216.00" stroke="#f0f0f0" stroke-width="0.4" />
<line x1="591.00" y1="195.40" x2="681.50" y2="195.40" stroke="#f0f0f0" stroke-width="0.4" />
<path d="M630.1 253.8h0M638.2 264.4h0M631.0 253.7h0M641.2 257.6h0M636.0 267.5h0M627.3 259.0h0M637.4 267.4h0M641.0 264.9h0M631.3 267.4h0M644.5 234.2h0M642.4 250.3h0M627.9 261.1h0M635.9 267.5h0M643.7 257.9h0M629.9 248.8h0M629.4 242.0h0M635.1 266.8h0M633.2 264.6h0M630.5 267.4h0M642.2 263.9h0M640.7 265.4h0M644.0 225.7h0M640.3 252.8h0M637.3 264.4h0M629.4 258.6h0M641.5 265.1h0M643.2 231.4h0M634.3 266.6h0M635.1 267.1h0M644.4 255.8h0M627.7 266.6h0M639.7 249.2h0M635.8 267.5h0M636.8 265.8h0M631.1 258.7h0M636.9 266.0h0M630.4 266.1h0M633.3 259.6h0M633.3 263.6h0M632.6 267.2h0M628.4 242.4h0M640.7 262.3h0M639.1 259.6h0M642.8 229.7h0M634.3 262.9h0M643.9 246.4h0M642.5 255.2h0M633.8 266.8h0M642.4 265.5h0M628.5 243.1h0M640.6 259.7h0M641.7 267.2h0M631.7 265.3h0M634.5 267.3h0M628.5 261.4h0M642.8 228.0h0M640.1 260.9h0M631.6 251.8h0M636.3 266.8h0M627.8 264.3h0M641.7 244.8h0M642.5 250.6h0M634.6 266.0h0M641.9 262.3h0M636.5 267.3h0M640.5 267.5h0M639.1 253.6h0M627.7 250.4h0M638.4 259.2h0M637.4 266.9h0M634.3 263.0h0M642.9 265.8h0M628.9 266.8h0M627.7 256.7h0M629.7 245.8h0M638.6 267.1h0M636.6 267.2h0M635.8 267.5h0M630.1 265.9h0M633.8 263.6h0M636.8 267.5h0M639.5 253.2h0M640.6 250.4h0M627.4 255.5h0M628.4 244.7h0M630.3 253.7h0M631.6 258.1h0M632.7 267.4h0M634.0 266.6h0M642.8 261.7h0M636.0 267.5h0M643.6 266.3h0M637.6 265.2h0M639.9 248.2h0M632.6 260.8h0M636.3 267.0h0M628.4 242.3h0M644.1 257.7h0M632.8 256.4h0M629.1 267.0h0M628.5 243.0h0M640.4 261.1h0M638.0 267.5h0M638.4 264.6h0M636.2 267.3h0M634.2 267.0h0M628.1 257.9h0M631.5 257.7h0M641.4 249.6h0M635.1 267.3h0M633.9 265.6h0M638.2 258.5h0M628.8 257.4h0M635.8 267.4h0M642.6 241.1h0M638.1 261.6h0M638.8 257.2h0M639.3 258.6h0M631.5 252.4h0M633.9 264.7h0M641.5 238.3h0M644.3 267.5h0M632.7 265.7h0M634.0 267.2h0M636.8 267.4h0M632.5 256.1h0M640.1 261.3h0M629.1 239.1h0M639.4 266.1h0M633.1 262.6h0M639.0 265.8h0M643.7 259.7h0M631.7 254.8h0M629.9 253.4h0M630.7 258.0h0M632.1 264.4h0M643.5 253.9h0M634.8 266.2h0M632.1 266.6h0M633.9 266.7h0M630.5 246.3h0M627.9 240.3h0M643.4 241.6h0M627.6 254.3h0M628.0 250.5h0M639.4 265.8h0M627.4 252.0h0M628.9 262.6h0M635.1 265.9h0M633.7 267.2h0M640.9 247.8h0M636.4 267.5h0M630.5 262.2h0M636.8 267.2h0M641.1 246.0h0M643.2 231.4h0M627.6 250.7h0M628.7 239.4h0M640.2 253.5h0M630.5 267.3h0M641.3 254.1h0M638.0 264.9h0M641.1 262.6h0M631.9 264.6h0M632.4 261.4h0M642.6 266.9h0M628.4 255.6h0M639.0 266.5h0M631.9 267.3h0M627.9 255.2h0M639.0 260.2h0M630.0 266.8h0M643.3 250.9h0M634.3 265.0h0M639.8 260.5h0M628.6 242.7h0M631.0 267.4h0M633.4 264.4h0M638.1 266.9h0M639.5 261.8h0M630.1 248.1h0M641.2 242.9h0M639.0 266.3h0M640.7 246.0h0M636.5 266.1h0M644.0 256.4h0M643.5 225.8h0M641.0 267.5h0M633.3 263.6h0M637.7 262.8h0M638.4 266.9h0M643.3 251.0h0M642.5 264.4h0M644.5 246.4h0M640.7 252.0h0M642.5 259.9h0M628.7 259.7h0M630.4 258.7h0M641.3 261.6h0M629.5 267.4h0M634.6 266.0h0M627.7 247.2h0M630.9 266.9h0M643.3 251.8h0M642.7 253.7h0M629.4 264.5h0M634.6 265.7h0M640.6 252.0h0M638.5 266.2h0M634.7 266.8h0M635.7 267.5h0M636.6 267.0h0M627.9 239.7h0M637.4 263.6h0M640.0 255.1h0M644.4 256.3h0M634.1 267.5h0M638.7 262.1h0M637.2 262.8h0M630.7 265.5h0M639.9 253.0h0M635.6 267.5h0M633.7 262.2h0M635.9 267.5h0M634.0 264.7h0M637.6 263.8h0M642.2 244.6h0M633.7 266.7h0M640.8 249.7h0M643.3 264.2h0M641.9 239.4h0M628.6 262.4h0M638.2 267.0h0M641.6 263.7h0M639.0 265.4h0M631.0 265.9h0M635.9 267.5h0M631.0 256.6h0M633.1 262.5h0M633.6 267.0h0M629.7 267.2h0M639.3 263.6h0M629.4 243.9h0M638.6 267.5h0M639.8 259.1h0M634.9 266.7h0M643.9 257.3h0M638.2 262.6h0M633.6 266.1h0M640.3 256.5h0M635.2 266.9h0M631.1 254.2h0M627.6 247.9h0M635.1 267.3h0M637.4 265.1h0M628.8 257.1h0M630.1 250.1h0M632.9 265.7h0M631.0 267.3h0M630.5 266.4h0M638.0 260.7h0M631.1 266.9h0M636.5 267.4h0M634.3 264.4h0M630.8 255.5h0M636.6 267.5h0M631.5 259.7h0M628.9 265.0h0M637.2 264.1h0M636.3 267.1h0M627.4 261.5h0M632.8 257.8h0M633.4 261.9h0M627.9 255.0h0M642.6 241.4h0M637.3 267.2h0M643.2 266.7h0M643.9 234.6h0M639.7 260.7h0M630.1 263.0h0M638.7 261.0h0M634.0 263.4h0M628.2 262.6h0M628.8 262.2h0M641.0 250.3h0M629.9 263.5h0M629.2 252.0h0M634.9 267.3h0M633.7 262.0h0M634.6 265.5h0M638.1 264.7h0M636.9 266.9h0M630.7 260.5h0M632.5 265.4h0M630.5 247.8h0M634.6 267.2h0M627.8 264.2h0M642.3 261.1h0M638.8 266.3h0M638.5 264.3h0M640.0 260.1h0M633.8 266.6h0M637.5 262.9h0M639.2 262.7h0M632.9 258.8h0M641.9 266.0h0M639.0 258.0h0M638.9 254.3h0M642.4 263.5h0M644.5 258.5h0M633.8 261.2h0M630.2 261.9h0M638.1 266.4h0M631.9 256.8h0M637.8 262.6h0M640.9 246.0h0M642.7 238.3h0M644.1 250.6h0M639.4 261.8h0M644.0 242.1h0M634.7 265.8h0M632.4 267.0h0M633.9 267.2h0M627.3 266.6h0M635.1 266.3h0M628.1 249.7h0M629.2 257.2h0M632.4 263.9h0M639.6 263.2h0M634.0 264.1h0M629.3 262.0h0M639.4 255.0h0M644.2 261.6h0M638.1 266.1h0M639.4 254.7h0M629.6 262.4h0M643.4 258.9h0M638.2 260.5h0M632.1 257.7h0M627.3 260.1h0M630.2 263.0h0M631.0 267.4h0M641.1 265.8h0M637.2 265.8h0M641.9 241.4h0M638.0 267.0h0M640.4 266.9h0M643.3 260.7h0M631.6 266.1h0M634.1 263.8h0M642.0 245.7h0M639.9 265.4h0M632.8 265.9h0M634.8 265.0h0M644.5 266.5h0M643.9 224.4h0M635.2 266.7h0M640.8 265.7h0M637.9 259.6h0M642.5 234.7h0M628.7 248.3h0M635.7 267.2h0M630.2 258.1h0M629.4 246.9h0M639.7 267.4h0M632.6 267.0h0M638.2 262.8h0M628.4 235.1h0M643.9 254.2h0M637.2 266.6h0M637.7 265.8h0M634.9 265.8h0M630.5 264.2h0M640.4 265.3h0M628.5 237.7h0M630.0 261.4h0M632.7 266.1h0M633.4 264.3h0M629.3 256.6h0M628.2 266.9h0M630.8 265.3h0M633.2 266.2h0M641.7 250.9h0M635.4 266.9h0M639.1 265.1h0M637.9 262.4h0M636.5 266.4h0M638.2 258.9h0M631.8 259.2h0M644.1 249.1h0M642.9 266.5h0M639.8 265.2h0M640.2 261.9h0M636.5 267.3h0M631.7 254.5h0M638.4 262.4h0M629.3 263.3h0M644.0 263.6h0M636.6 266.4h0M636.1 267.4h0M644.0 233.7h0M631.4 262.8h0M634.5 265.4h0M638.9 265.9h0M639.2 263.4h0M627.5 261.9h0M633.8 267.0h0M638.8 254.2h0M643.3 246.1h0M642.1 256.2h0M637.4 262.9h0M628.3 260.5h0M633.7 266.3h0M634.7 267.5h0M639.0 254.2h0M631.3 266.3h0M633.0 260.6h0M631.2 254.9h0M630.3 257.0h0M639.7 257.5h0M628.7 236.9h0M641.9 257.0h0M642.1 251.8h0M630.2 261.9h0M641.4 258.6h0M628.0 265.4h0M630.5 257.8h0M638.4 264.5h0M634.2 262.9h0M633.2 262.6h0M630.8 260.2h0M630.4 266.8h0M633.1 267.2h0M633.9 264.2h0M636.7 265.7h0M635.5 267.5h0M639.8 263.0h0M640.2 246.1h0M636.3 267.4h0M633.4 264.8h0M632.8 267.2h0M634.1 264.8h0M641.3 248.1h0M642.5 240.4h0M634.4 265.3h0M628.2 242.6h0M639.5 265.4h0M635.4 267.4h0M641.0 260.5h0M640.7 244.9h0M640.7 262.1h0M633.2 259.0h0M642.9 264.6h0M633.5 262.1h0M640.3 264.5h0M635.0 265.3h0M628.8 263.4h0M638.7 256.6h0M643.6 253.5h0M640.9 241.9h0M633.0 266.5h0M631.8 256.6h0M629.7 257.1h0M643.3 264.1h0M638.1 264.1h0M643.9 250.4h0M635.7 267.3h0M640.3 266.5h0M641.1 261.0h0M644.0 220.5h0M635.8 267.5h0M631.2 265.1h0M630.8 266.3h0M639.9 267.3h0M637.6 264.6h0M640.0 259.3h0M643.3 261.7h0M628.9 254.0h0M631.9 252.5h0M643.2 243.6h0M641.7 264.1h0M635.6 267.4h0M633.2 265.6h0M635.5 267.1h0M627.7 252.9h0M629.5 240.4h0M636.8 266.3h0M632.7 260.9h0M639.5 252.4h0M637.3 266.9h0M638.1 267.4h0M640.1 264.3h0M639.7 266.8h0M637.6 267.1h0M627.9 263.0h0M641.9 260.0h0M636.3 266.8h0M644.1 261.6h0M639.2 256.8h0M641.0 262.5h0M635.5 266.9h0M631.6 262.2h0M638.2 260.0h0M631.5 258.4h0M631.0 266.5h0M635.5 267.1h0M638.3 258.0h0M630.1 258.5h0M635.6 267.4h0M643.1 265.6h0M631.8 267.4h0M638.4 262.0h0M631.1 250.5h0M638.2 266.7h0M643.5 231.6h0M632.7 258.3h0M629.5 262.3h0M634.5 263.8h0M632.4 264.7h0M630.9 252.3h0M630.4 249.8h0M633.2 263.9h0M642.4 263.0h0M636.4 266.9h0M637.2 266.4h0M638.4 265.8h0M630.0 267.5h0M637.7 264.5h0M641.1 266.1h0M638.9 263.6h0M636.3 266.7h0M636.2 267.3h0M638.4 267.0h0M642.3 254.6h0M628.0 255.9h0M643.6 222.3h0M634.6 267.1h0M643.4 261.4h0M627.6 263.2h0M635.4 266.9h0M628.4 261.5h0M639.8 264.0h0M630.3 253.7h0M634.8 265.9h0M635.6 267.2h0M636.1 267.1h0M641.3 250.0h0M635.7 267.4h0M633.8 267.4h0M642.5 240.1h0M640.5 248.6h0M636.8 264.7h0M635.4 266.6h0M628.7 260.5h0M637.1 264.4h0M636.3 266.9h0M633.7 263.8h0M641.0 255.3h0M627.6 247.3h0M627.3 261.3h0M629.3 248.1h0M630.2 253.0h0M628.5 264.8h0M639.3 253.4h0M628.5 251.8h0M634.1 265.0h0M628.6 267.5h0M628.6 239.7h0M635.7 267.4h0M629.6 252.2h0M642.8 264.4h0M640.7 247.8h0M644.4 246.1h0M638.4 265.5h0M640.7 263.5h0M638.0 263.3h0M644.3 231.5h0M628.9 265.5h0M633.4 265.6h0M639.6 265.4h0M636.9 266.6h0M632.5 261.4h0M634.8 264.6h0M629.5 243.6h0M638.3 264.6h0M628.6 250.8h0M641.1 262.2h0M639.6 261.0h0M628.8 242.2h0M632.7 263.9h0M640.4 248.6h0M642.0 260.5h0M641.9 265.8h0M636.8 266.8h0M642.2 246.0h0M638.6 258.7h0M633.3 265.1h0M629.1 261.7h0M630.7 254.4h0M629.5 242.9h0M637.6 265.7h0M629.3 259.4h0M637.0 267.3h0M644.1 257.5h0M634.8 267.1h0M633.7 266.6h0M642.0 267.0h0M633.6 264.1h0M635.5 267.4h0M635.6 267.5h0M632.6 264.3h0M640.5 261.3h0M634.4 265.4h0M632.0 261.9h0M630.6 257.3h0M636.6 266.5h0M642.4 241.6h0M644.3 262.4h0M643.7 254.4h0M633.6 265.4h0M643.2 227.1h0M641.2 263.3h0M629.3 265.2h0M638.9 259.8h0M628.4 267.5h0M644.4 258.0h0M628.0 256.5h0M629.0 244.8h0M636.4 266.9h0M643.3 265.9h0M631.0 253.8h0M637.7 265.5h0M633.4 263.7h0M643.6 224.6h0M643.1 226.0h0M629.6 267.4h0M641.6 264.1h0M636.3 267.2h0M644.1 253.8h0M629.6 265.3h0M642.9 237.8h0M629.7 241.8h0M633.7 263.2h0M637.0 264.5h0M635.7 267.5h0M636.9 265.0h0M634.4 264.2h0M635.0 267.1h0M633.5 266.7h0M635.9 267.5h0M637.5 263.6h0M630.4 262.7h0M637.3 266.4h0M627.4 234.9h0M629.5 252.9h0M644.2 260.4h0M631.9 264.9h0M636.6 265.4h0M629.8 264.7h0M642.7 262.4h0M638.8 259.7h0M627.3 267.4h0M640.4 247.3h0M639.3 262.8h0M629.0 256.3h0M629.2 262.5h0M627.9 254.3h0M635.3 267.3h0M631.1 267.2h0M627.8 266.1h0M644.2 267.3h0M639.6 262.3h0M637.4 266.7h0M644.2 230.8h0M634.3 266.2h0M643.1 265.3h0M642.3 250.2h0M637.1 266.0h0M637.5 267.4h0M631.6 264.3h0M631.1 267.1h0M639.6 263.0h0M640.1 262.8h0M643.5 262.7h0M636.1 267.4h0M640.9 266.5h0M636.7 266.8h0M638.0 266.6h0M636.6 265.3h0M629.1 237.9h0M643.9 253.7h0M628.7 256.6h0M643.9 267.5h0M640.3 252.5h0M629.3 254.3h0M629.8 266.8h0M636.3 267.4h0M638.6 263.1h0M631.2 251.0h0M627.4 238.6h0M632.1 255.5h0M637.7 265.4h0M631.0 251.8h0M642.1 234.5h0M637.4 262.4h0M642.7 246.6h0M633.1 263.2h0M633.2 260.8h0M636.8 265.2h0M642.7 242.3h0M630.8 263.8h0M628.8 261.8h0M630.0 263.8h0M641.0 266.6h0M643.1 229.7h0M640.6 265.0h0M632.3 263.6h0M637.9 260.1h0M627.6 266.7h0M641.5 267.4h0M642.7 264.8h0M644.1 252.2h0M637.7 262.2h0M641.5 260.0h0M635.2 266.4h0M631.7 265.0h0M642.3 237.3h0M641.5 261.8h0M633.2 267.3h0M641.6 267.2h0M630.4 267.4h0M635.2 265.8h0M628.5 263.7h0M631.9 258.8h0M633.4 267.0h0M639.2 254.3h0M630.1 267.2h0M634.3 263.3h0M628.3 266.0h0M638.4 260.4h0M635.1 267.5h0M636.8 267.4h0M628.6 267.2h0M643.4 266.3h0M635.5 266.9h0M630.7 262.7h0M641.0 256.6h0M630.6 259.3h0M644.4 228.6h0M643.9 267.4h0M628.3 255.7h0M627.5 229.4h0M632.3 262.4h0M642.4 257.9h0M640.5 266.3h0M635.0 266.1h0M635.4 267.4h0M642.1 260.7h0M643.0 260.8h0M641.5 266.4h0M638.9 254.7h0M638.1 265.3h0M644.2 218.6h0M641.5 264.7h0M628.8 252.7h0M629.6 267.2h0M636.9 264.7h0M631.9 256.4h0M643.8 223.1h0M628.7 266.2h0M643.7 222.0h0M630.2 265.9h0M639.6 267.1h0M629.1 265.9h0M637.2 266.5h0M641.8 265.9h0M642.7 240.0h0M633.7 264.4h0M638.9 267.0h0M643.3 255.4h0M636.2 267.1h0M627.6 262.7h0M627.8 243.9h0M631.0 255.8h0M639.7 249.2h0M630.4 261.8h0M640.9 260.3h0M630.3 254.8h0M641.0 260.0h0M633.9 267.2h0M634.3 263.9h0M633.4 259.7h0M633.4 265.0h0M640.7 245.5h0M641.8 259.1h0M635.1 267.4h0M636.6 266.1h0M630.6 264.0h0M628.4 257.7h0M635.6 266.9h0M638.8 255.8h0M630.7 261.8h0M639.4 267.2h0M637.1 265.5h0M627.7 264.5h0M640.8 266.1h0M638.3 264.9h0M634.0 262.7h0M634.1 263.1h0M641.4 255.6h0M629.0 262.1h0M643.7 261.8h0M637.5 267.0h0M639.9 256.5h0M642.6 250.4h0M629.2 246.5h0M637.2 263.2h0M636.2 267.4h0M634.9 266.5h0M639.3 259.6h0M642.1 254.3h0M630.8 251.0h0M639.5 266.6h0M635.2 266.3h0M637.2 267.3h0M642.2 245.6h0M630.7 255.3h0M642.2 252.7h0M643.6 250.0h0M627.5 246.7h0M641.6 240.0h0M640.3 246.9h0M641.1 258.9h0M628.3 265.5h0M628.1 235.2h0M641.2 242.8h0M640.7 260.4h0M637.0 267.5h0M630.0 261.6h0M628.2 261.7h0M636.2 267.5h0M630.3 267.0h0M635.2 266.2h0M635.0 266.2h0M639.6 254.6h0M641.0 258.4h0M628.1 265.4h0M632.1 264.9h0M637.6 265.3h0M632.2 266.7h0M640.0 246.9h0M639.4 266.8h0M639.3 256.3h0M636.6 266.6h0M642.1 256.5h0M639.5 266.5h0M641.7 254.3h0M630.6 257.0h0M641.5 259.0h0M632.7 260.7h0M644.4 217.2h0M632.6 263.7h0M633.8 267.2h0M636.7 267.2h0M635.5 267.0h0M636.9 264.4h0M630.8 266.1h0M628.4 247.5h0M632.2 266.3h0M638.3 257.6h0M640.3 246.6h0M643.3 251.4h0M631.1 254.7h0M631.0 267.2h0M633.7 263.2h0M638.2 265.2h0M629.4 265.8h0M637.6 265.3h0M636.6 266.1h0M637.2 263.9h0M643.1 252.3h0M633.5 264.8h0M631.6 266.4h0M639.7 262.4h0M627.7 258.7h0M632.8 267.4h0M627.7 249.5h0M641.2 245.9h0M637.6 266.9h0M638.3 266.3h0M631.3 264.3h0M629.6 266.7h0M644.3 266.5h0M644.0 239.6h0M640.1 266.9h0M639.0 266.4h0M636.0 267.4h0M642.8 266.5h0M627.4 250.1h0M636.3 266.9h0M628.8 260.8h0M639.6 259.7h0M632.7 267.5h0M628.0 236.6h0M632.0 267.3h0M632.3 266.4h0M636.6 267.5h0M636.6 266.5h0M636.5 266.7h0M631.4 263.5h0M640.2 264.6h0M641.5 265.3h0M635.5 266.9h0M638.7 265.9h0M633.6 266.5h0M640.2 263.1h0M641.7 249.3h0M641.6 256.0h0M632.1 259.7h0M634.8 267.5h0M635.0 267.4h0M628.5 263.4h0M643.7 242.2h0M634.8 266.2h0M634.0 265.1h0M631.8 255.0h0M641.0 260.1h0M636.9 266.8h0M640.6 249.1h0M643.2 266.3h0M642.9 263.8h0M629.2 260.2h0M638.4 267.2h0M638.4 257.3h0M640.7 248.7h0M630.0 263.0h0M631.5 264.0h0M642.5 229.1h0M631.8 261.2h0M637.8 260.4h0M635.0 267.4h0M629.0 266.1h0M635.5 267.5h0M639.2 266.4h0M628.0 245.4h0M635.3 266.6h0M637.2 266.5h0M628.5 240.9h0M639.0 265.8h0M628.7 251.7h0M643.3 239.7h0M643.2 224.3h0M629.5 265.6h0M635.3 267.5h0M635.6 267.2h0M631.8 255.9h0M631.7 255.5h0M628.6 266.4h0M628.1 252.1h0M627.7 245.5h0M634.5 264.1h0M633.9 262.9h0M640.2 262.9h0M640.7 256.3h0M637.5 265.9h0M629.9 258.3h0M636.2 267.3h0M644.2 264.4h0M643.0 250.9h0M629.0 255.0h0M630.5 260.1h0M635.5 267.1h0M643.0 266.9h0M642.4 233.6h0M629.9 267.0h0M635.3 267.5h0M629.4 257.7h0M630.9 258.4h0M630.9 256.6h0M638.0 267.4h0M639.1 254.4h0M644.4 267.2h0M639.1 265.0h0M634.5 266.3h0M628.1 250.1h0M629.5 245.5h0M629.0 252.9h0M636.8 267.5h0M629.2 257.8h0M634.0 267.2h0M629.0 264.5h0M641.3 266.3h0M640.3 266.8h0M641.4 247.7h0M642.5 259.0h0M644.1 255.1h0M638.2 260.5h0M629.9 267.3h0M639.2 266.0h0M631.1 261.1h0M630.2 264.5h0M630.8 267.0h0M641.3 244.7h0M639.9 262.1h0M643.2 251.1h0M636.8 267.5h0M633.4 266.8h0M638.6 256.1h0M638.1 266.0h0M641.6 266.9h0M641.2 267.3h0M643.9 236.0h0M644.3 251.2h0M638.6 264.7h0M640.2 259.3h0M635.1 266.3h0M643.5 261.6h0M631.7 251.3h0M633.1 265.5h0M636.7 267.2h0M635.1 267.3h0M634.9 265.7h0M640.4 246.5h0M643.4 262.0h0M640.7 253.4h0M638.1 264.6h0M643.1 250.2h0M643.5 266.2h0M633.5 267.2h0M639.7 262.1h0M632.8 265.6h0M635.6 267.4h0M635.8 267.4h0M627.6 264.0h0M636.3 266.9h0M637.5 263.8h0M634.8 264.9h0M640.5 259.4h0M637.1 264.5h0M632.1 265.6h0M635.9 267.5h0M628.2 255.4h0M643.1 233.3h0M636.6 266.4h0M633.7 267.4h0M641.5 256.1h0M637.8 264.0h0M644.1 260.0h0M637.1 264.9h0M639.1 254.5h0M628.0 241.5h0M627.9 261.5h0M633.4 261.5h0M642.6 252.2h0M636.9 265.9h0M627.7 259.5h0M635.1 267.5h0M632.6 265.9h0M629.5 265.5h0M633.7 263.8h0M642.0 262.0h0M640.8 252.2h0M629.1 265.1h0M642.4 265.9h0M638.1 263.6h0M641.2 248.3h0M641.4 266.3h0M639.7 251.5h0M638.8 255.4h0M628.7 257.8h0M644.0 260.1h0M633.2 266.2h0M633.7 265.7h0M636.0 267.5h0M635.9 267.5h0M633.3 266.5h0M643.1 242.7h0M640.9 244.0h0M644.2 259.8h0M627.3 241.8h0M638.7 264.8h0M642.9 238.4h0M637.1 265.6h0M634.5 267.2h0M632.4 259.6h0M635.8 267.5h0M638.6 256.9h0M629.3 266.8h0M640.5 265.4h0M637.1 266.1h0M638.8 261.0h0M634.2 265.2h0M643.4 233.2h0M635.1 266.4h0M632.3 255.6h0M627.3 250.7h0M640.5 246.8h0M636.6 266.8h0M637.7 262.8h0M633.7 264.1h0M631.7 267.2h0M628.6 265.4h0M634.3 267.3h0M640.7 253.4h0M633.9 267.1h0M634.4 264.2h0M641.7 249.6h0M633.9 262.9h0M636.0 267.5h0M642.8 246.0h0M628.3 267.0h0M635.5 266.9h0M634.8 266.5h0M629.6 255.1h0M634.3 266.6h0M630.9 258.7h0M641.6 256.0h0M637.7 264.7h0M639.5 257.7h0M627.5 229.0h0M635.8 267.5h0M639.8 255.2h0M633.6 264.2h0M628.0 244.4h0M638.9 257.8h0M635.5 266.7h0M634.4 267.5h0M628.8 262.2h0M631.2 265.7h0M628.9 251.4h0M642.6 232.7h0M633.4 264.7h0M636.3 267.0h0M639.8 262.4h0M627.6 261.2h0M627.5 245.5h0M644.0 247.1h0M639.2 261.2h0M644.0 264.6h0M637.1 266.8h0M635.2 267.4h0M640.8 263.1h0M631.9 255.5h0M627.6 264.8h0M643.3 244.3h0M630.8 266.7h0M638.9 257.3h0M644.5 218.4h0M640.2 267.1h0M640.9 260.4h0M636.4 267.5h0M627.5 253.4h0M638.4 266.1h0M643.9 266.8h0M642.4 234.1h0M628.8 243.5h0M637.9 265.4h0M634.8 266.4h0M643.3 239.1h0M635.4 267.2h0M630.3 258.4h0M642.1 250.4h0M637.6 265.7h0M644.3 227.2h0M636.2 267.1h0M641.2 264.2h0M638.1 266.2h0M640.5 263.9h0M643.9 240.2h0M636.4 267.0h0M637.3 266.9h0M627.7 256.5h0M632.3 263.5h0M630.9 265.9h0M644.2 256.7h0M640.2 266.6h0M628.8 249.5h0M634.8 265.5h0M627.6 254.6h0M637.6 266.9h0M639.6 266.2h0M629.1 265.9h0M628.1 258.9h0M640.8 265.9h0M632.2 265.0h0M631.1 251.8h0M641.7 266.4h0M638.6 257.0h0M627.5 258.1h0M627.7 261.3h0M629.4 259.2h0M630.8 254.6h0M633.9 267.4h0M636.8 266.6h0M640.0 254.5h0M631.5 263.8h0M639.7 249.7h0M636.8 266.2h0M633.0 264.9h0M632.7 263.8h0M632.2 265.2h0M627.8 266.7h0M642.2 260.8h0M643.9 262.3h0M633.6 261.1h0M635.0 266.2h0M640.7 262.0h0M630.8 267.5h0M642.2 252.8h0M640.8 242.5h0M642.3 251.5h0M629.2 255.0h0M635.6 267.5h0M627.6 260.2h0M633.7 261.8h0M644.4 220.7h0M632.8 259.0h0M633.8 266.2h0M637.2 267.5h0M638.9 267.3h0M637.4 263.9h0M628.3 249.9h0M636.1 267.4h0M640.8 263.4h0M630.6 262.1h0M633.6 262.0h0M630.8 262.7h0M640.7 260.1h0M633.1 267.1h0M633.3 264.4h0M640.7 242.1h0M636.5 267.0h0M640.4 260.7h0M631.7 258.2h0M641.6 264.6h0M642.1 267.1h0M630.6 262.8h0M642.9 254.7h0M633.2 266.6h0M635.3 267.0h0M637.6 262.0h0M629.4 250.6h0M643.9 245.4h0M639.5 255.1h0M642.6 261.3h0M635.1 266.0h0M630.0 260.5h0M643.9 256.2h0M634.7 266.7h0M635.6 267.1h0M629.2 258.7h0M634.6 264.3h0M642.0 262.6h0M632.8 256.5h0M627.5 244.7h0M627.6 261.9h0M638.4 261.6h0M638.2 266.6h0M634.2 263.6h0M632.1 262.1h0M636.9 264.9h0M641.1 248.0h0M633.1 261.6h0M642.7 266.9h0M639.8 261.9h0M633.9 264.5h0M641.2 242.8h0M641.0 242.8h0M642.2 255.3h0M639.2 254.0h0M637.4 267.4h0M634.2 264.7h0M627.6 266.3h0M641.8 249.3h0M627.6 240.7h0M637.8 265.9h0M638.4 267.3h0M629.7 252.5h0M639.0 260.7h0M634.8 267.3h0M629.5 242.0h0M632.3 264.2h0M636.1 267.5h0M632.8 266.7h0M629.1 240.0h0M630.3 264.1h0M631.9 257.1h0M642.2 249.8h0M638.2 263.3h0M627.8 247.4h0M643.7 228.4h0M643.0 265.9h0M639.6 249.7h0M631.5 265.1h0M644.1 262.2h0M629.9 253.5h0M632.9 262.4h0M631.7 265.9h0M637.4 266.0h0M638.8 262.4h0M631.5 266.1h0M628.6 266.9h0M639.5 264.5h0M627.3 267.3h0M642.0 251.0h0M631.0 253.6h0M642.7 267.1h0M630.4 255.2h0M640.6 264.5h0M635.6 267.4h0M633.9 262.7h0M637.2 265.2h0M642.9 231.4h0M638.8 267.4h0M633.7 260.6h0M635.5 267.5h0M638.8 262.3h0M639.8 259.9h0M632.1 264.5h0M629.6 260.6h0M636.0 267.5h0M628.2 250.0h0M638.3 260.8h0M635.3 267.5h0M636.3 267.4h0M642.9 263.9h0M641.2 253.1h0M632.4 261.8h0M628.4 263.2h0M639.5 267.4h0M636.9 264.7h0M643.9 235.1h0M641.5 262.6h0M633.5 266.6h0M628.4 266.8h0M628.2 264.4h0M633.0 265.4h0M635.6 267.1h0M633.6 265.3h0M641.1 259.6h0M639.7 249.4h0M642.7 262.3h0M641.8 238.3h0M631.3 266.7h0M639.8 257.3h0M630.8 247.1h0M635.3 266.2h0M635.9 267.5h0M629.6 247.8h0M634.9 267.3h0M634.6 265.7h0M642.6 242.2h0M643.1 239.8h0M633.7 267.1h0M642.9 256.5h0M643.8 241.8h0M640.9 256.1h0M630.7 260.7h0M638.7 267.1h0M633.7 262.5h0M631.0 267.5h0M631.1 262.4h0M632.1 262.4h0M631.9 263.5h0M643.1 235.5h0M640.4 261.3h0M636.8 265.4h0M630.8 263.5h0M629.6 259.7h0M632.6 261.2h0M633.5 263.6h0M637.2 265.5h0M634.7 266.7h0M629.4 253.2h0M632.8 266.0h0M642.7 257.5h0M629.1 253.2h0M634.2 266.4h0M637.7 265.1h0M642.7 261.7h0M641.3 244.9h0M631.7 267.5h0M630.0 258.1h0M642.2 256.8h0M631.4 259.8h0M640.9 243.9h0M636.9 267.3h0M636.9 266.5h0M630.9 267.0h0M642.4 262.6h0M642.3 252.6h0M627.3 232.2h0M644.2 264.1h0M639.2 267.4h0M642.7 265.8h0M637.9 262.3h0M637.4 262.8h0M630.4 244.9h0M638.5 267.2h0M627.9 264.4h0M642.8 220.1h0M641.9 223.2h0M627.7 228.4h0M628.1 232.5h0" stroke="#7c7c7c" stroke-width="2.3" stroke-linecap="round" fill="none" opacity="0.9"/>
<path d="M625.7 265.9h0M623.0 244.9h0M623.2 266.6h0M622.7 266.0h0M622.4 266.9h0M625.2 258.0h0M601.8 258.4h0M607.6 255.3h0M623.1 251.9h0M621.2 261.7h0M626.8 240.9h0M617.2 257.7h0M617.9 256.7h0M623.4 264.4h0M622.2 267.0h0M619.1 241.1h0M625.4 259.6h0M625.6 245.9h0M623.6 235.3h0M617.9 265.6h0M623.1 264.6h0M625.7 251.5h0M618.6 254.7h0M610.2 259.9h0M625.9 261.5h0M620.6 266.1h0M624.3 239.1h0M623.5 253.2h0M623.7 266.9h0M593.1 243.5h0M599.9 265.0h0M623.1 266.8h0M623.5 260.9h0M620.2 246.6h0M627.2 261.1h0M624.7 264.2h0M600.5 256.9h0M623.0 259.7h0M627.0 248.3h0M613.0 256.7h0M615.4 256.0h0M605.0 253.8h0M612.7 257.1h0M625.8 249.0h0M592.6 257.3h0M597.9 254.3h0M614.5 251.9h0M613.2 263.3h0M627.1 264.7h0M625.7 246.6h0M600.8 247.1h0M623.1 255.0h0M623.3 252.9h0M627.2 264.2h0M623.1 247.9h0M614.6 262.8h0M617.7 255.4h0M606.8 242.6h0M623.8 249.2h0M624.2 258.0h0M615.7 262.8h0M626.4 263.0h0M617.2 244.7h0M615.0 258.9h0M624.5 264.2h0M626.5 236.6h0M626.1 266.6h0M626.5 243.2h0M598.5 267.3h0M613.9 265.8h0M623.9 244.1h0M622.5 249.8h0M611.6 263.0h0M604.2 266.1h0M622.6 253.8h0M608.4 254.1h0M614.5 256.1h0M615.4 243.1h0M618.4 262.7h0M621.9 255.2h0M623.5 253.6h0M622.2 264.9h0M602.3 267.0h0M616.1 243.9h0M611.1 263.1h0M626.1 246.6h0M605.4 254.5h0M616.8 262.2h0M625.0 263.2h0M608.6 267.0h0M608.2 266.0h0M603.1 266.4h0M601.2 246.3h0M609.0 235.5h0M614.5 258.3h0M621.0 248.5h0M614.7 245.8h0M627.0 262.1h0M622.8 254.3h0M621.9 252.5h0M619.4 259.4h0M616.8 247.2h0M622.5 263.2h0M624.8 249.9h0M621.4 265.2h0M610.9 244.6h0M623.6 266.0h0M623.1 258.1h0M613.4 245.6h0M603.3 256.5h0M614.8 247.3h0M609.2 255.1h0M608.0 242.8h0M620.0 265.4h0M610.2 263.1h0M623.4 263.5h0M625.0 246.8h0M622.1 267.1h0M627.1 244.0h0M624.0 267.4h0M626.4 263.2h0M621.0 253.4h0M606.4 265.5h0M626.5 256.4h0M618.8 264.0h0M597.0 259.2h0M620.5 240.2h0M622.4 261.2h0M625.5 257.9h0M601.9 238.6h0M620.6 265.1h0M627.2 265.6h0M621.5 260.2h0M609.9 254.5h0M617.7 252.7h0M619.8 267.2h0M623.4 257.1h0M627.0 242.7h0M619.6 253.7h0M621.4 260.6h0M621.9 240.4h0M625.9 254.2h0M621.1 237.8h0M621.1 253.9h0M599.0 234.6h0M621.7 239.8h0M596.7 251.3h0M623.3 249.8h0M626.0 244.9h0M623.5 250.3h0M627.2 243.0h0M618.3 260.8h0M606.7 251.3h0M627.2 247.5h0M627.2 251.6h0M617.9 246.8h0M625.9 249.8h0M606.8 254.3h0M625.7 255.4h0M618.5 239.7h0M609.9 262.9h0M593.4 232.5h0M623.9 267.1h0M600.2 257.8h0M627.1 237.8h0M597.0 264.7h0M612.4 265.8h0M615.5 248.8h0M611.5 264.5h0M626.8 267.5h0M615.5 235.6h0M614.2 230.3h0M614.8 266.6h0M622.2 257.1h0M621.4 235.6h0M617.8 257.2h0M608.0 262.1h0M627.0 260.9h0M626.7 257.6h0M624.8 246.8h0M617.9 260.0h0M618.9 249.4h0M623.6 255.3h0M620.2 249.7h0M623.3 246.8h0M603.4 240.4h0M626.6 246.6h0M611.8 240.5h0M609.9 257.7h0M607.1 261.1h0M625.8 262.6h0M602.8 236.7h0M606.7 259.5h0M624.7 263.2h0M617.0 238.0h0M621.8 258.6h0M623.3 257.7h0M621.0 264.0h0M627.0 244.3h0M616.0 245.1h0M623.9 245.2h0M616.6 237.0h0M624.0 248.3h0M612.8 266.2h0M608.1 252.0h0M592.3 261.3h0M607.1 264.1h0M603.7 252.5h0M616.2 263.3h0M622.7 239.7h0M625.4 242.9h0M625.4 256.2h0M607.2 246.5h0M620.0 253.3h0M614.6 255.5h0M625.7 243.5h0M623.9 235.0h0M625.4 267.2h0M626.2 267.5h0M613.6 262.4h0M614.2 264.0h0M623.3 258.9h0M625.6 245.0h0M621.1 255.0h0M622.2 249.2h0M612.2 251.8h0M596.8 261.0h0M623.8 257.6h0M617.2 265.7h0M616.7 251.5h0M613.6 254.7h0M627.1 257.5h0M626.3 257.0h0M627.2 254.0h0M623.1 260.3h0M597.6 259.2h0M618.4 253.3h0M615.2 258.8h0M608.4 258.1h0M626.9 247.7h0M606.5 239.1h0M616.1 256.4h0M614.5 264.1h0M607.2 247.9h0M613.6 242.8h0M623.6 253.0h0M613.7 255.5h0M618.1 262.6h0M626.8 247.3h0M605.4 260.0h0M626.5 233.5h0M614.2 267.2h0M603.8 258.7h0M611.8 247.2h0M627.0 266.5h0M620.8 251.3h0M619.2 254.9h0M595.5 263.4h0M607.6 253.2h0M626.8 264.3h0M592.3 260.4h0M623.4 246.6h0M624.2 255.1h0M618.9 256.5h0M624.8 242.5h0M624.8 264.3h0M625.8 264.9h0M621.7 260.6h0M623.7 259.9h0M620.5 245.4h0M627.2 266.7h0M598.4 242.4h0M623.5 266.2h0M618.7 243.6h0M621.5 248.4h0M622.4 265.2h0M617.4 259.3h0M625.0 253.7h0M620.0 267.4h0M620.6 262.2h0M611.8 265.4h0M620.7 253.6h0M622.3 257.8h0M597.5 267.4h0M620.9 245.3h0M622.3 256.9h0M626.8 266.9h0M626.7 258.4h0M620.4 252.4h0M611.0 248.8h0M622.8 265.6h0M617.4 247.7h0M620.8 238.0h0M623.8 248.2h0M622.7 267.3h0M604.2 262.4h0M624.3 260.6h0M624.9 264.7h0M600.9 258.7h0M606.9 257.4h0M607.9 248.5h0M614.2 240.9h0M615.2 238.2h0M623.2 267.2h0M625.6 250.9h0M624.4 267.4h0M625.3 265.5h0M619.2 263.9h0M615.1 249.0h0M624.4 265.2h0M616.7 259.1h0M604.2 266.0h0M626.1 260.6h0M625.3 244.8h0M622.3 265.2h0M603.2 252.2h0M611.8 259.4h0M624.3 250.9h0M606.1 257.1h0M624.7 247.1h0M623.4 247.7h0M622.4 253.3h0M605.9 247.5h0M602.5 262.9h0M607.9 261.9h0M621.9 267.1h0M619.4 242.0h0M600.5 256.4h0M624.0 267.5h0M627.1 264.0h0M624.2 263.2h0M613.4 245.8h0M627.1 254.1h0M626.1 247.2h0M622.0 256.1h0M618.1 245.1h0M606.0 241.6h0M605.9 246.3h0M620.3 243.7h0M610.8 267.4h0M617.6 261.3h0M621.9 255.1h0M607.2 257.8h0M600.2 252.5h0M612.4 248.2h0M596.2 256.7h0M625.8 250.2h0M617.9 267.3h0M625.8 244.5h0M620.4 256.6h0M604.6 265.3h0M610.8 261.5h0M626.2 251.1h0M617.6 242.6h0M625.3 261.3h0M618.3 262.3h0M626.2 267.5h0M625.9 247.6h0M625.3 253.4h0M612.9 256.6h0M626.0 244.9h0M618.3 265.3h0M614.9 252.1h0M592.5 264.8h0M623.8 265.5h0M618.5 266.2h0M624.9 263.8h0M620.7 266.8h0M604.1 244.3h0M620.0 265.4h0M622.5 233.4h0M624.2 234.9h0M607.6 251.1h0M608.9 240.4h0M608.5 262.8h0M625.8 245.4h0M625.7 239.7h0M625.6 247.8h0M623.8 252.8h0M621.8 266.7h0M622.2 246.1h0M594.9 253.8h0M622.2 241.8h0M614.9 251.2h0M601.6 266.8h0M622.0 267.4h0M625.4 250.3h0M617.8 249.4h0M623.9 258.0h0M596.4 267.4h0M625.9 251.6h0M619.4 243.5h0M611.8 251.8h0M611.3 267.3h0M619.9 262.7h0M623.2 254.5h0M597.9 260.0h0M622.8 266.8h0M610.0 251.6h0M626.7 263.3h0M626.5 253.7h0M593.4 265.9h0M620.3 265.1h0M620.3 243.6h0M619.7 265.1h0M624.1 264.3h0M624.9 266.0h0M616.6 262.4h0M621.6 263.5h0M609.5 243.0h0M624.6 230.5h0M625.3 243.1h0M624.2 247.3h0M626.4 240.7h0M616.0 238.4h0M619.3 249.6h0M597.0 242.0h0M611.3 262.5h0M625.2 245.3h0M600.9 243.8h0M621.7 258.9h0M621.0 253.2h0M618.4 244.4h0M610.6 267.0h0M616.1 265.7h0M625.8 264.8h0M600.5 242.1h0M620.1 257.2h0M625.5 261.7h0M625.5 246.5h0M622.2 231.1h0M626.9 244.2h0M624.3 264.3h0M608.1 255.8h0M615.0 254.8h0M612.3 258.5h0M612.5 257.5h0M607.5 255.2h0M627.2 264.6h0M625.0 242.0h0M598.8 266.0h0M627.0 242.1h0M608.6 244.3h0M620.9 256.0h0M622.5 242.3h0M614.3 250.6h0M600.6 258.5h0M602.1 246.4h0M610.3 241.7h0M625.7 261.5h0M602.9 266.9h0M621.3 251.6h0M600.7 256.3h0M623.3 257.2h0M626.5 259.2h0M612.1 246.2h0M620.7 264.3h0M616.9 261.9h0M610.6 247.2h0M598.3 237.8h0M626.8 266.8h0M613.7 260.3h0M627.0 248.9h0M610.0 265.0h0M623.7 241.7h0M617.0 259.4h0M607.6 246.6h0M626.1 255.8h0M622.4 260.6h0M626.7 241.6h0M626.2 263.9h0M614.1 259.5h0M621.8 266.3h0M614.1 262.6h0M626.7 254.1h0M622.4 263.6h0M611.4 267.5h0M620.7 259.4h0M605.6 253.4h0M627.3 243.0h0M614.3 262.1h0M622.1 255.7h0M603.6 234.3h0M626.9 251.0h0M622.9 267.4h0M624.5 261.2h0M625.9 246.4h0M623.6 257.1h0M613.2 241.1h0M621.0 264.9h0M614.4 245.2h0M625.3 240.6h0M625.6 243.1h0M611.1 267.2h0M604.2 264.7h0M612.0 266.1h0M625.6 264.7h0M624.4 248.3h0M626.4 254.8h0M620.4 263.7h0M624.0 254.9h0M614.7 265.2h0M606.9 255.3h0M598.7 262.6h0M620.9 258.6h0M609.0 262.2h0M620.4 264.4h0M614.6 266.7h0M626.7 254.9h0M609.1 250.8h0M617.1 252.9h0M627.1 247.1h0M620.3 253.2h0M618.3 265.0h0M603.2 258.9h0M625.8 266.2h0M624.8 260.5h0M623.4 262.4h0M606.7 255.8h0M626.5 259.2h0M616.9 240.2h0M619.6 256.1h0M603.6 256.9h0M610.7 258.9h0M619.4 265.9h0M624.4 265.2h0M626.2 243.9h0M624.4 239.5h0M598.7 252.6h0M624.2 259.0h0M615.9 249.6h0M616.1 264.3h0M625.9 255.6h0M616.3 241.5h0M626.2 245.5h0M620.5 264.8h0M619.8 258.9h0M620.1 250.2h0M603.5 258.3h0M622.8 249.6h0M626.6 267.2h0M611.8 263.6h0M623.0 243.2h0M602.4 263.4h0M605.7 266.6h0M619.5 264.1h0M624.8 266.4h0M620.9 243.9h0M617.7 265.1h0M625.3 252.2h0M615.3 267.0h0M619.4 254.3h0M610.2 266.2h0M607.9 266.4h0M618.4 265.6h0M621.8 247.5h0M606.4 248.0h0M605.1 253.2h0M617.2 265.7h0M623.5 265.9h0M617.8 263.4h0M621.4 253.1h0M625.8 242.4h0M602.8 243.7h0M627.1 260.8h0M623.2 244.5h0M609.4 257.0h0M604.2 253.5h0M626.9 256.8h0M616.6 250.5h0M620.1 267.3h0M626.8 265.4h0M621.0 264.8h0M597.4 264.6h0M600.6 239.9h0M623.9 260.3h0M611.3 230.6h0M617.0 250.0h0M594.1 261.1h0M619.9 261.8h0M622.2 254.7h0M616.4 242.6h0M626.8 266.9h0M606.9 243.2h0M617.1 259.3h0M606.3 265.9h0M621.8 266.9h0M624.3 266.7h0M622.8 265.4h0M609.7 258.2h0M623.9 263.2h0M615.1 254.6h0M623.6 252.7h0M614.1 266.8h0M626.8 244.5h0M621.4 255.4h0M598.5 265.7h0M623.6 267.5h0M615.9 261.3h0M616.5 267.5h0M623.6 261.6h0M616.5 244.9h0M624.1 243.5h0M616.1 238.5h0M621.6 237.3h0M612.9 266.1h0M615.7 253.7h0M626.0 266.6h0M616.4 242.4h0M605.3 251.0h0M618.6 264.6h0M612.9 238.8h0M623.5 266.2h0M622.2 247.7h0M625.3 240.0h0M621.8 258.0h0M619.7 250.5h0M625.2 261.4h0M623.1 256.8h0M599.0 255.5h0M606.8 262.4h0M602.0 244.7h0M620.2 266.9h0M626.3 245.1h0M626.4 265.1h0M625.4 251.5h0M603.2 251.9h0M623.5 254.8h0M620.4 243.3h0M619.5 261.2h0M619.3 258.6h0M622.9 249.9h0M627.1 267.3h0M617.7 241.6h0M611.6 265.5h0M618.1 257.6h0M617.5 267.0h0M623.0 264.4h0M616.0 253.7h0M625.3 248.2h0M622.1 260.6h0M621.7 252.2h0M610.1 239.5h0M613.0 240.4h0M627.2 250.9h0M598.6 255.1h0M626.3 261.3h0M619.3 245.7h0M615.5 240.9h0M608.8 254.6h0M624.9 243.7h0M624.5 239.4h0M627.2 237.6h0M596.3 265.2h0M600.6 267.0h0M619.4 255.3h0M624.2 236.4h0M603.2 250.6h0M621.5 246.4h0M609.1 254.3h0M607.1 256.3h0M623.6 239.0h0M620.4 266.9h0M609.1 244.3h0M606.2 247.3h0M626.0 251.6h0M626.8 237.0h0M623.2 251.7h0M608.4 265.8h0M620.0 257.1h0M625.2 267.0h0M616.2 267.4h0M620.6 254.2h0M624.7 263.3h0M625.3 263.9h0M623.9 237.4h0M612.0 254.8h0M617.4 232.7h0M626.1 247.7h0M611.2 262.7h0M618.7 258.8h0M608.6 264.1h0M620.4 253.7h0M626.0 267.3h0M627.0 256.5h0M611.4 262.4h0M621.1 245.8h0M607.7 263.1h0M625.2 266.8h0M600.9 266.3h0M624.3 260.7h0M626.7 256.3h0M614.8 239.5h0M619.4 264.8h0M625.5 262.2h0M622.6 244.4h0M599.8 256.4h0M624.0 249.9h0M626.8 257.9h0M624.8 243.6h0M615.1 254.6h0M607.4 249.2h0M625.0 234.2h0M626.4 243.9h0M622.7 259.2h0M625.9 259.3h0M596.0 245.9h0M602.5 261.0h0M614.0 264.9h0M626.5 262.4h0M593.1 254.7h0M622.8 261.2h0M618.3 259.0h0M611.2 253.9h0M613.2 264.0h0M609.2 247.8h0M617.9 231.5h0M607.4 258.5h0M626.2 244.1h0M605.2 246.2h0M622.9 265.3h0M619.4 258.3h0M600.3 253.4h0M603.1 262.5h0M624.4 257.7h0M626.6 247.2h0M626.4 259.1h0M626.6 247.8h0M616.8 259.2h0M618.3 265.9h0M626.1 241.0h0M612.3 250.1h0M613.8 244.2h0M623.6 244.1h0M623.2 256.0h0M601.7 242.5h0M623.1 236.6h0M615.0 239.0h0M615.8 254.7h0M626.1 255.6h0M614.0 253.9h0M604.1 248.5h0M595.5 261.0h0M596.0 264.9h0M621.4 240.6h0M622.8 240.1h0M625.3 257.5h0M622.7 251.5h0M627.1 240.9h0M626.4 250.1h0M621.0 246.6h0M621.6 267.2h0M612.8 267.4h0M619.2 261.6h0M625.8 253.4h0M610.9 260.0h0M611.8 242.7h0M619.4 248.3h0M623.3 242.1h0M625.2 259.6h0M624.5 263.4h0M611.6 263.2h0M620.9 260.5h0M623.4 243.4h0M620.9 253.7h0M614.7 234.9h0M620.1 238.4h0M613.1 254.2h0M617.5 266.9h0M608.1 266.8h0M621.0 249.7h0M618.4 236.1h0M603.9 262.8h0M622.1 242.3h0M627.2 252.0h0M621.7 249.2h0M618.9 265.1h0M618.4 255.0h0M623.2 248.2h0M624.2 259.0h0M624.3 255.1h0M626.9 260.0h0M625.2 267.0h0M626.9 261.3h0M607.3 259.6h0M593.8 262.1h0M618.7 251.4h0M610.7 253.4h0M627.2 260.4h0M609.6 264.2h0M607.5 265.3h0M613.7 230.1h0M616.5 255.8h0M627.1 234.0h0M618.7 238.6h0M621.6 264.9h0M617.3 267.1h0M625.4 254.3h0M625.4 261.0h0M618.3 265.4h0M610.6 241.4h0M622.0 260.0h0M627.2 243.1h0M620.4 261.0h0M622.8 249.1h0M621.7 267.5h0M627.0 261.8h0M606.4 243.9h0M623.2 261.2h0M607.4 255.7h0M623.0 265.5h0M619.8 251.0h0M621.1 266.2h0M623.5 247.2h0M624.7 260.4h0M605.9 259.9h0M612.0 265.1h0M622.2 257.0h0M620.9 230.3h0M614.4 263.9h0M614.1 265.8h0M619.1 263.5h0M617.2 267.0h0M617.7 245.3h0M608.2 256.4h0M617.5 248.2h0M614.3 241.2h0M617.1 255.8h0M593.9 261.6h0M623.2 246.2h0M594.0 259.9h0M621.1 261.3h0M602.6 255.4h0M592.8 234.9h0M621.9 264.7h0M596.2 252.3h0M621.1 266.8h0M614.1 256.2h0M624.2 243.9h0M618.7 261.8h0M614.5 242.5h0M627.2 263.1h0M610.0 266.9h0M599.2 258.3h0M621.3 242.3h0M623.9 235.8h0M617.2 267.5h0M625.6 243.5h0M600.6 226.3h0M594.5 237.6h0M607.5 229.4h0M614.4 230.0h0M624.7 226.3h0M597.1 241.8h0M602.3 234.5h0M610.9 231.4h0M618.7 233.5h0M622.1 228.8h0M604.9 237.6h0M598.0 249.0h0M601.4 255.1h0" stroke="#1fc0c0" stroke-width="3.0" stroke-linecap="round" fill="none" opacity="0.85"/>
<path d="M645.0 253.2h0M645.2 267.5h0M646.7 267.3h0M647.5 256.3h0M644.7 247.3h0M653.5 247.7h0M647.0 265.6h0M652.7 260.1h0M658.8 253.6h0M647.2 252.6h0M646.1 241.1h0M646.9 252.6h0M647.1 265.8h0M645.4 261.3h0M649.6 246.6h0M656.8 246.2h0M647.5 252.0h0M658.0 267.1h0M666.8 242.3h0M645.9 253.6h0M647.0 264.5h0M644.9 255.2h0M652.3 253.6h0M645.9 256.1h0M652.9 264.6h0M668.3 262.8h0M644.9 242.6h0M646.4 267.5h0M648.4 267.3h0M647.1 260.3h0M653.4 262.3h0M644.6 267.4h0M649.6 266.6h0M649.4 257.5h0M653.0 241.8h0M650.4 240.9h0M645.9 267.5h0M652.1 251.7h0M657.5 267.5h0M646.9 262.0h0M661.9 256.8h0M650.4 267.2h0M647.1 256.7h0M648.9 245.2h0M645.0 266.9h0M650.6 265.2h0M651.6 258.2h0M644.9 265.5h0M652.2 244.3h0M647.4 265.7h0M671.2 266.9h0M657.8 261.7h0M650.3 253.4h0M647.3 243.2h0M647.5 267.4h0M650.2 255.4h0M653.5 262.3h0M645.6 259.9h0M648.2 261.0h0M645.5 246.0h0M646.8 242.6h0M654.1 256.4h0M649.7 267.5h0M647.6 264.1h0M660.0 247.9h0M652.3 260.4h0M665.6 267.5h0M649.6 251.8h0M648.3 261.8h0M655.7 266.3h0M649.4 256.3h0M651.0 250.4h0M648.2 258.8h0M652.5 245.5h0M645.7 267.3h0M662.0 248.5h0M645.2 245.1h0M648.2 259.3h0M650.2 263.9h0M648.5 267.0h0M645.1 255.1h0M670.4 251.1h0M652.3 261.0h0M647.2 245.2h0M644.9 258.8h0M652.7 263.5h0M647.2 251.3h0M644.6 251.2h0M644.9 267.0h0M645.2 265.6h0M655.7 266.1h0M661.3 264.3h0M644.9 257.9h0M649.3 258.4h0M646.8 265.6h0M656.3 253.4h0M646.3 250.0h0M653.7 267.0h0M665.4 261.8h0M660.5 254.5h0M662.6 267.2h0M661.8 256.0h0M648.2 244.4h0M654.5 255.9h0M644.8 253.2h0M648.1 262.4h0M654.1 253.7h0M658.5 266.0h0M659.6 261.3h0M644.9 246.5h0M646.2 258.0h0M650.4 267.2h0M647.2 267.4h0M650.8 267.3h0M646.5 244.0h0M648.6 261.3h0M645.1 244.1h0M651.5 264.4h0M651.5 261.8h0M653.9 262.1h0M647.9 264.4h0M656.6 250.3h0M654.2 244.5h0M648.6 248.6h0M651.7 264.0h0M645.0 252.3h0M645.4 260.6h0M649.3 267.2h0M664.3 262.7h0M665.2 244.6h0M645.1 263.5h0M651.7 260.3h0M657.4 263.5h0M646.0 247.3h0M647.5 266.3h0M644.6 267.4h0M648.1 250.3h0M645.9 265.3h0M647.6 243.5h0M662.7 250.0h0M647.0 256.3h0M645.8 249.4h0M650.3 267.4h0M647.2 260.7h0M647.7 264.4h0M651.3 241.9h0M647.7 249.9h0M646.7 250.4h0M665.4 264.0h0M644.8 251.2h0M655.4 243.4h0M646.0 241.9h0M646.0 257.6h0M644.7 257.8h0M660.0 262.8h0M645.0 262.7h0M651.8 248.2h0M647.1 251.9h0M669.8 256.9h0M648.9 248.5h0M648.3 263.1h0M649.9 262.8h0M648.0 250.3h0M655.8 252.7h0M648.3 248.4h0M655.9 263.0h0M647.7 258.7h0M652.0 240.7h0M645.6 266.4h0M646.7 252.6h0M647.0 260.4h0M645.0 256.7h0M654.1 266.6h0M647.7 258.5h0M644.8 265.6h0M646.7 267.1h0M646.5 267.1h0M645.9 264.7h0M651.2 265.8h0M652.6 264.1h0M645.3 258.6h0M645.7 266.3h0M652.4 264.2h0M652.2 258.0h0M657.5 266.7h0M663.6 247.7h0M651.1 261.2h0M670.7 257.2h0M646.7 246.0h0M663.3 266.7h0M645.0 264.6h0M646.1 263.2h0M665.9 241.7h0M646.2 266.7h0M651.0 265.0h0M658.2 260.3h0M652.5 267.5h0M646.5 260.1h0M650.9 255.4h0M662.7 264.4h0M650.9 265.2h0M644.5 262.6h0M645.8 242.3h0M648.0 266.8h0M646.7 255.9h0M645.5 267.5h0M645.8 263.2h0M647.5 266.8h0M645.3 258.8h0M655.6 267.0h0M647.2 262.3h0M645.2 246.2h0M652.3 256.5h0M647.1 267.5h0M651.1 259.9h0M656.1 251.9h0M645.5 252.5h0M659.5 267.0h0M655.7 254.8h0M655.2 251.8h0M672.0 267.5h0M656.9 241.4h0M650.4 259.8h0M645.6 241.7h0M667.0 241.5h0M645.3 266.9h0M645.0 265.1h0M651.7 258.1h0M644.5 246.1h0M666.5 267.4h0M645.0 264.9h0M648.3 251.1h0M648.2 262.9h0M649.1 241.9h0M648.2 251.2h0M649.5 244.9h0M646.6 244.1h0M648.9 255.9h0M649.6 265.8h0M655.3 251.7h0M653.3 266.5h0M649.7 266.4h0M647.3 244.0h0M654.3 245.9h0M649.8 252.0h0M646.1 264.0h0M657.2 251.3h0M646.3 248.5h0M646.6 246.3h0M661.0 265.2h0M647.9 266.2h0M665.6 264.5h0M645.3 266.7h0M669.2 260.1h0M647.1 248.5h0M673.5 267.5h0M650.5 243.1h0M662.3 257.9h0M650.8 263.1h0M648.9 260.0h0M646.1 264.8h0M647.6 254.6h0M650.9 253.7h0M658.2 267.0h0M653.5 265.5h0M663.3 261.3h0M644.9 262.1h0M649.7 247.5h0M645.9 264.7h0M648.5 259.1h0M658.1 265.5h0M646.9 264.0h0M646.1 255.9h0M649.0 262.6h0M646.1 245.8h0M644.5 256.7h0M648.4 264.3h0M660.3 263.4h0M645.0 242.8h0M658.1 263.0h0M654.4 265.4h0M646.5 247.5h0M652.7 245.6h0M647.1 258.5h0M646.3 259.7h0M648.9 266.3h0M647.4 264.8h0M652.5 253.6h0M647.0 245.9h0M645.9 254.8h0M664.6 250.3h0M660.0 255.2h0M663.7 242.1h0M645.7 242.6h0M649.4 260.1h0M658.5 259.1h0M656.3 251.8h0M646.1 262.5h0M649.6 251.0h0M655.9 257.6h0M651.0 256.6h0M648.1 262.7h0M644.8 263.7h0M654.0 257.6h0M654.5 261.5h0M652.2 254.1h0M646.3 265.0h0M645.4 254.6h0M651.5 266.4h0M648.1 254.3h0M649.7 258.1h0M645.4 263.7h0M654.8 263.8h0M655.4 259.7h0M645.3 254.4h0M648.6 242.5h0M658.7 253.7h0M648.4 248.4h0M648.3 256.6h0M664.0 247.8h0M663.9 253.4h0M653.1 249.0h0M645.5 264.4h0M649.6 252.0h0M658.3 266.6h0M646.4 267.4h0M646.8 261.3h0M649.7 263.2h0M651.1 267.2h0M649.7 254.6h0M649.5 241.6h0M655.7 267.3h0M651.7 250.3h0M645.0 266.4h0M660.5 260.2h0M645.2 262.0h0M646.2 256.1h0M645.5 259.5h0M652.5 244.7h0M655.6 254.1h0M646.7 266.8h0M669.3 244.7h0M645.1 253.0h0M645.8 264.6h0M653.0 267.2h0M656.2 267.5h0M648.1 267.5h0M657.1 263.7h0M658.6 251.9h0M661.1 246.6h0M648.8 265.5h0M645.7 251.0h0M656.7 249.3h0M650.3 244.9h0M645.3 250.0h0M646.6 265.5h0M659.6 267.4h0M658.4 250.6h0M652.8 254.9h0M646.9 265.7h0M649.8 267.5h0M652.0 266.8h0M647.6 254.0h0M663.6 267.0h0M652.6 255.4h0M645.2 245.0h0M658.8 258.1h0M650.2 251.1h0M663.6 265.8h0M648.8 245.0h0M645.5 254.0h0M644.8 255.3h0M649.4 245.4h0M645.8 244.1h0M651.4 267.4h0M646.0 266.8h0M647.2 248.8h0M651.6 262.5h0M653.0 267.5h0M645.2 262.1h0M651.9 256.6h0M645.7 264.8h0M645.3 255.4h0M647.6 263.9h0M660.4 259.0h0M646.0 260.4h0M646.2 249.9h0M647.0 242.0h0M646.2 252.1h0M645.1 260.3h0M644.7 258.4h0M652.2 265.5h0M664.8 267.0h0M651.3 257.3h0M655.9 264.2h0M644.6 256.4h0M653.2 260.6h0M647.1 264.7h0M646.8 246.6h0M649.2 267.3h0M652.8 259.8h0M648.6 265.4h0M661.8 266.6h0M646.4 263.8h0M647.4 265.7h0M653.4 267.2h0M653.9 265.9h0M652.6 266.8h0M651.1 254.5h0M646.2 250.7h0M673.7 265.9h0M646.1 267.5h0M666.9 246.9h0M672.1 251.0h0M658.3 247.9h0M647.1 232.5h0M648.8 236.6h0M662.6 252.1h0M660.9 256.2h0M664.3 256.2h0M654.9 244.8h0" stroke="#f38a86" stroke-width="3.0" stroke-linecap="round" fill="none" opacity="0.85"/>
<path d="M642.4 184.1h0" stroke="#aaaaaa" stroke-width="2.0" stroke-linecap="round" fill="none" />
<line x1="627.28" y1="181.60" x2="627.28" y2="269.30" stroke="#555" stroke-width="0.7" stroke-dasharray="3.2,2"/>
<line x1="644.52" y1="181.60" x2="644.52" y2="269.30" stroke="#555" stroke-width="0.7" stroke-dasharray="3.2,2"/>
<line x1="591.00" y1="264.82" x2="681.50" y2="264.82" stroke="#777" stroke-width="0.7" stroke-dasharray="3.2,2"/>
<rect x="591.0" y="181.6" width="90.5" height="87.70000000000002" fill="none" stroke="#111" stroke-width="1.3"/>
<text x="592.80" y="276.60" font-size="6.4" fill="#333" text-anchor="middle" font-weight="normal" >−5.0</text>
<line x1="592.80" y1="269.30" x2="592.80" y2="270.80" stroke="#333" stroke-width="0.5" />
<text x="614.35" y="276.60" font-size="6.4" fill="#333" text-anchor="middle" font-weight="normal" >−2.5</text>
<line x1="614.35" y1="269.30" x2="614.35" y2="270.80" stroke="#333" stroke-width="0.5" />
<text x="635.90" y="276.60" font-size="6.4" fill="#333" text-anchor="middle" font-weight="normal" >0.0</text>
<line x1="635.90" y1="269.30" x2="635.90" y2="270.80" stroke="#333" stroke-width="0.5" />
<text x="657.45" y="276.60" font-size="6.4" fill="#333" text-anchor="middle" font-weight="normal" >2.5</text>
<line x1="657.45" y1="269.30" x2="657.45" y2="270.80" stroke="#333" stroke-width="0.5" />
<text x="679.00" y="276.60" font-size="6.4" fill="#333" text-anchor="middle" font-weight="normal" >5.0</text>
<line x1="679.00" y1="269.30" x2="679.00" y2="270.80" stroke="#333" stroke-width="0.5" />
<text x="587.60" y="269.80" font-size="6.4" fill="#333" text-anchor="end" font-weight="normal" >0</text>
<line x1="588.50" y1="267.50" x2="591.00" y2="267.50" stroke="#333" stroke-width="0.5" />
<text x="587.60" y="249.20" font-size="6.4" fill="#333" text-anchor="end" font-weight="normal" >10</text>
<line x1="588.50" y1="246.90" x2="591.00" y2="246.90" stroke="#333" stroke-width="0.5" />
<text x="587.60" y="228.60" font-size="6.4" fill="#333" text-anchor="end" font-weight="normal" >20</text>
<line x1="588.50" y1="226.30" x2="591.00" y2="226.30" stroke="#333" stroke-width="0.5" />
<text x="587.60" y="208.00" font-size="6.4" fill="#333" text-anchor="end" font-weight="normal" >30</text>
<line x1="588.50" y1="205.70" x2="591.00" y2="205.70" stroke="#333" stroke-width="0.5" />
<text x="587.60" y="187.40" font-size="6.4" fill="#333" text-anchor="end" font-weight="normal" >40</text>
<line x1="588.50" y1="185.10" x2="591.00" y2="185.10" stroke="#333" stroke-width="0.5" />
<text x="637" y="284.9" font-size="6.2" fill="#222" text-anchor="middle">Log<tspan font-size="4.4" dy="1.3">2</tspan><tspan dy="-1.3"> (Fold Change)</tspan></text>
<text x="637.00" y="294.00" font-size="7.1" fill="#222" text-anchor="middle" font-weight="normal" >T_vs_N</text>
<text transform="translate(577 227.5) rotate(-90)" font-size="6.2" fill="#222" text-anchor="middle">−Log<tspan font-size="4.4" dy="1.3">10</tspan><tspan dy="-1.3"> (</tspan><tspan font-style="italic">P</tspan>.adj)</text>
<text x="0.00" y="328.60" font-size="12.5" fill="#000" text-anchor="start" font-weight="bold" >f</text>
<path d="M31.26,410.24 L67.76,446.74 A26.5,26.5 0 0 0 105.24,409.26 L68.74,372.76 A26.5,26.5 0 0 0 31.26,410.24 Z" fill="#e7857a" stroke="none" stroke-width="1" opacity="0.55"/>
<path d="M104.26,372.76 L67.76,409.26 A26.5,26.5 0 0 0 105.24,446.74 L141.74,410.24 A26.5,26.5 0 0 0 104.26,372.76 Z" fill="#919abe" stroke="none" stroke-width="1" opacity="0.55"/>
<path d="M49.26,388.24 L85.76,424.74 A26.5,26.5 0 0 0 123.24,387.26 L86.74,350.76 A26.5,26.5 0 0 0 49.26,388.24 Z" fill="#99d3e3" stroke="none" stroke-width="1" opacity="0.55"/>
<path d="M86.26,350.76 L49.76,387.26 A26.5,26.5 0 0 0 87.24,424.74 L123.74,388.24 A26.5,26.5 0 0 0 86.26,350.76 Z" fill="#63bfb3" stroke="none" stroke-width="1" opacity="0.55"/>
<text x="46.40" y="344.40" font-size="7.2" fill="#222" text-anchor="middle" font-weight="normal" >DEGs2</text>
<text x="127.00" y="344.40" font-size="7.2" fill="#222" text-anchor="middle" font-weight="normal" >DEG3</text>
<text x="24.30" y="370.40" font-size="7.2" fill="#222" text-anchor="middle" font-weight="normal" >DEGs1</text>
<text x="148.90" y="369.70" font-size="7.2" fill="#222" text-anchor="middle" font-weight="normal" >DEGs4</text>
<text x="66.00" y="359.80" font-size="6.3" fill="#222" text-anchor="middle" font-weight="normal" >34</text>
<text x="106.90" y="357.90" font-size="6.3" fill="#222" text-anchor="middle" font-weight="normal" >160</text>
<text x="49.90" y="374.90" font-size="6.3" fill="#222" text-anchor="middle" font-weight="normal" >10</text>
<text x="86.10" y="373.10" font-size="6.3" fill="#222" text-anchor="middle" font-weight="normal" >11</text>
<text x="122.10" y="375.40" font-size="6.3" fill="#222" text-anchor="middle" font-weight="normal" >56</text>
<text x="35.90" y="390.20" font-size="6.3" fill="#222" text-anchor="middle" font-weight="normal" >32</text>
<text x="69.00" y="390.20" font-size="6.3" fill="#222" text-anchor="middle" font-weight="normal" >123</text>
<text x="104.10" y="391.80" font-size="6.3" fill="#222" text-anchor="middle" font-weight="normal" >1</text>
<text x="136.10" y="390.20" font-size="6.3" fill="#222" text-anchor="middle" font-weight="normal" >338</text>
<text x="54.30" y="410.50" font-size="6.3" fill="#222" text-anchor="middle" font-weight="normal" >203</text>
<text x="86.60" y="409.20" font-size="6.3" fill="#222" text-anchor="middle" font-weight="normal" >8</text>
<text x="119.30" y="410.90" font-size="6.3" fill="#222" text-anchor="middle" font-weight="normal" >2</text>
<text x="70.70" y="424.70" font-size="6.3" fill="#222" text-anchor="middle" font-weight="normal" >78</text>
<text x="101.30" y="424.70" font-size="6.3" fill="#222" text-anchor="middle" font-weight="normal" >0</text>
<text x="84.20" y="441.50" font-size="6.3" fill="#222" text-anchor="middle" font-weight="normal" >10</text>
<line x1="89.00" y1="408.50" x2="133.50" y2="432.50" stroke="#1fa050" stroke-width="0.7" stroke-dasharray="1.2,0.9"/>
<path d="M136.6,435.4 L131.2,434.6 L133.6,430.4 Z" fill="#1fa050" stroke="none" stroke-width="1" />
<rect x="111.6" y="437" width="59.4" height="24.8" fill="none" stroke="#22aa55" stroke-width="0.75" stroke-dasharray="1,0.8"/>
<text x="113.00" y="443.90" font-size="6.6" fill="#222" text-anchor="start" font-weight="normal" >TNK2</text>
<text x="169.00" y="443.90" font-size="6.6" fill="#222" text-anchor="end" font-weight="normal" >CACNA1B</text>
<text x="113.00" y="451.90" font-size="6.6" fill="#222" text-anchor="start" font-weight="normal" textLength="55.8">HCRT CALY SEZ6</text>
<text x="112.40" y="460.00" font-size="6.6" fill="#222" text-anchor="start" font-weight="normal" textLength="56.6">SRRM4 TME M74B</text>
<text x="184.40" y="329.20" font-size="12.5" fill="#000" text-anchor="start" font-weight="bold" >g</text>
<text x="354.50" y="329.60" font-size="8.33" fill="#222" text-anchor="middle" font-weight="normal" >TNK2 expression in human PDAC tissue</text>
<line x1="198.60" y1="335.00" x2="501.40" y2="335.00" stroke="#9a9292" stroke-width="1.0" />
<text x="233.30" y="345.50" font-size="7.85" fill="#222" text-anchor="middle" font-weight="normal" >Negative (-)</text>
<text x="312.30" y="345.50" font-size="7.85" fill="#222" text-anchor="middle" font-weight="normal" >Low (+)</text>
<text x="387.80" y="345.50" font-size="7.85" fill="#222" text-anchor="middle" font-weight="normal" >Middle (++)</text>
<text x="464.10" y="345.50" font-size="7.85" fill="#222" text-anchor="middle" font-weight="normal" >High (+++)</text>
<g clip-path="url(#cg00)">
<rect x="197.20" y="349.20" width="76.20" height="56.80" fill="#edf0f6" filter="url(#ihc1)"/>
</g>
<g clip-path="url(#cg01)">
<rect x="197.20" y="408.00" width="76.20" height="56.70" fill="#f1f2f8" filter="url(#ihc2)"/>
<path d="M213.00,415.00 C213.80,413.93 219.47,417.73 222.00,420.00 C224.53,422.27 229.60,428.53 232.00,432.00 C234.40,435.47 239.47,443.33 240.00,446.00 C240.53,448.67 237.87,452.80 236.00,452.00 C234.13,451.20 228.67,443.20 226.00,440.00 C223.33,436.80 217.73,431.33 216.00,428.00 C214.27,424.67 212.20,416.07 213.00,415.00Z" fill="#f8f8fb" stroke="none" stroke-width="1" opacity="0.7"/>
<ellipse cx="269" cy="419" rx="2.6" ry="4" fill="#2a3ab0"/>
</g>
<g clip-path="url(#cg10)">
<rect x="274.00" y="349.20" width="75.40" height="56.80" fill="#b9bbd3" filter="url(#ihc3)"/>
<ellipse cx="313" cy="372" rx="2.2" ry="8" fill="#eeeef4" opacity="0.8" transform="rotate(20 313 372)"/>
<ellipse cx="327" cy="379" rx="2.5" ry="5" fill="#eeeef4" opacity="0.8" transform="rotate(0 327 379)"/>
<ellipse cx="300" cy="395" rx="4" ry="2" fill="#eeeef4" opacity="0.8" transform="rotate(0 300 395)"/>
<ellipse cx="283" cy="371" rx="3" ry="4" fill="#eeeef4" opacity="0.8" transform="rotate(0 283 371)"/>
<ellipse cx="316" cy="352" rx="2.5" ry="2.5" fill="#eeeef4" opacity="0.8" transform="rotate(0 316 352)"/>
<ellipse cx="335" cy="365" rx="2" ry="3" fill="#eeeef4" opacity="0.8" transform="rotate(0 335 365)"/>
<ellipse cx="290" cy="388" rx="2.5" ry="2.5" fill="#eeeef4" opacity="0.8" transform="rotate(0 290 388)"/>
</g>
<g clip-path="url(#cg11)">
<rect x="274.00" y="408.00" width="75.40" height="56.70" fill="#cdcee0" filter="url(#ihc4)"/>
<path d="M283,462 C285,440 292,425 305,418 C318,412 330,414 338,418" fill="none" stroke="#f2f2f6" stroke-width="3.5" opacity="0.8"/>
<ellipse cx="333" cy="447" rx="5" ry="6" fill="#f1f1f5" opacity="0.8"/>
<ellipse cx="346" cy="413" rx="4" ry="3" fill="#f1f1f5" opacity="0.8"/>
</g>
<g clip-path="url(#cg20)">
<rect x="350.00" y="349.20" width="75.20" height="56.80" fill="#c2c4da" filter="url(#ihc5)"/>
<path d="M372.00,378.00 C373.33,376.00 377.33,371.80 380.00,371.00 C382.67,370.20 389.60,371.07 392.00,372.00 C394.40,372.93 397.47,375.33 398.00,378.00 C398.53,380.67 397.60,389.47 396.00,392.00 C394.40,394.53 388.93,396.73 386.00,397.00 C383.07,397.27 376.13,395.47 374.00,394.00 C371.87,392.53 370.27,388.13 370.00,386.00 C369.73,383.87 370.67,380.00 372.00,378.00Z" fill="#a89484" stroke="none" stroke-width="1" filter="url(#ihc6)" opacity="0.85"/>
<path d="M378.00,380.00 C378.27,378.93 382.13,376.40 384.00,376.00 C385.87,375.60 391.33,376.20 392.00,377.00 C392.67,377.80 390.33,381.07 389.00,382.00 C387.67,382.93 383.47,384.27 382.00,384.00 C380.53,383.73 377.73,381.07 378.00,380.00Z" fill="#f0eef0" stroke="none" stroke-width="1" />
<path d="M377,382 L379.5,382 L379.5,394 L377,394 Z" fill="#f0eef0" stroke="none" stroke-width="1" />
<path d="M353,356 C355,362 357,368 358,374" fill="none" stroke="#9c8270" stroke-width="2.2" opacity="0.6"/>
<path d="M404,372 C406,380 408,388 410,396" fill="none" stroke="#9c8270" stroke-width="2.2" opacity="0.6"/>
<path d="M416,399 C419,400 421,402 422,405" fill="none" stroke="#9c8270" stroke-width="2.2" opacity="0.6"/>
<path d="M398,352 C404,356 408,360 410,364" fill="none" stroke="#9c8270" stroke-width="2.2" opacity="0.6"/>
<path d="M360,398 C364,400 368,402 372,404" fill="none" stroke="#9c8270" stroke-width="2.2" opacity="0.6"/>
<ellipse cx="418" cy="360" rx="3" ry="3" fill="none" stroke="#9c8270" stroke-width="1.3" opacity="0.7"/>
</g>
<g clip-path="url(#cg21)">
<rect x="350.00" y="408.00" width="75.20" height="56.70" fill="#d0d0e0" filter="url(#ihc7)"/>
<path d="M372.00,424.00 C374.13,419.73 380.53,415.87 384.00,414.00 C387.47,412.13 394.53,410.00 398.00,410.00 C401.47,410.00 407.33,411.60 410.00,414.00 C412.67,416.40 417.20,423.73 418.00,428.00 C418.80,432.27 417.33,441.47 416.00,446.00 C414.67,450.53 411.47,459.33 408.00,462.00 C404.53,464.67 394.53,466.00 390.00,466.00 C385.47,466.00 376.93,464.67 374.00,462.00 C371.07,459.33 368.27,451.07 368.00,446.00 C367.73,440.93 369.87,428.27 372.00,424.00Z" fill="#b8b0ae" stroke="none" stroke-width="1" filter="url(#ihc8)" />
<path d="M383.50,426.00 C383.90,424.27 389.13,419.93 392.00,419.00 C394.87,418.07 402.47,417.67 405.00,419.00 C407.53,420.33 410.47,426.60 411.00,429.00 C411.53,431.40 410.47,436.73 409.00,437.00 C407.53,437.27 402.67,431.67 400.00,431.00 C397.33,430.33 391.20,432.67 389.00,432.00 C386.80,431.33 383.10,427.73 383.50,426.00Z" fill="#f4f2f0" stroke="none" stroke-width="1" />
<path d="M377.5,436 L381.5,436 L381,459 L378,459 Z" fill="#f4f2f0" stroke="none" stroke-width="1" />
<ellipse cx="362" cy="417" rx="4" ry="4" fill="none" stroke="#b09a88" stroke-width="1.4"/>
</g>
<g clip-path="url(#cg30)">
<rect x="425.80" y="349.20" width="75.60" height="56.80" fill="#d2d2e2" filter="url(#ihc9)"/>
<path d="M432.00,366.00 C432.53,363.87 437.33,360.27 440.00,360.00 C442.67,359.73 449.33,362.40 452.00,364.00 C454.67,365.60 458.40,369.33 460.00,372.00 C461.60,374.67 462.67,381.07 464.00,384.00 C465.33,386.93 469.73,391.87 470.00,394.00 C470.27,396.13 467.60,399.73 466.00,400.00 C464.40,400.27 460.40,398.13 458.00,396.00 C455.60,393.87 450.93,386.67 448.00,384.00 C445.07,381.33 438.13,378.40 436.00,376.00 C433.87,373.60 431.47,368.13 432.00,366.00Z" fill="#b29a84" stroke="none" stroke-width="1" filter="url(#ihc10)" />
<path d="M442.00,368.00 C442.93,367.07 448.13,366.33 450.00,367.00 C451.87,367.67 456.00,371.53 456.00,373.00 C456.00,374.47 451.73,377.87 450.00,378.00 C448.27,378.13 444.07,375.33 443.00,374.00 C441.93,372.67 441.07,368.93 442.00,368.00Z" fill="#efece8" stroke="none" stroke-width="1" />
<ellipse cx="480" cy="370" rx="4" ry="6" fill="#b6a090" opacity="0.5"/>
<ellipse cx="490" cy="386" rx="3" ry="4" fill="#b6a090" opacity="0.5"/>
</g>
<g clip-path="url(#cg31)">
<rect x="425.80" y="408.00" width="75.60" height="56.70" fill="#d4d4e4" filter="url(#ihc11)"/>
<path d="M432.00,420.00 C432.53,416.53 436.53,411.60 440.00,410.00 C443.47,408.40 453.20,407.73 458.00,408.00 C462.80,408.27 472.27,409.87 476.00,412.00 C479.73,414.13 484.40,420.27 486.00,424.00 C487.60,427.73 486.93,435.73 488.00,440.00 C489.07,444.27 493.73,452.53 494.00,456.00 C494.27,459.47 493.20,464.67 490.00,466.00 C486.80,467.33 474.27,467.60 470.00,466.00 C465.73,464.40 460.93,456.93 458.00,454.00 C455.07,451.07 450.93,446.40 448.00,444.00 C445.07,441.60 438.13,439.20 436.00,436.00 C433.87,432.80 431.47,423.47 432.00,420.00Z" fill="#c0b0a2" stroke="none" stroke-width="1" filter="url(#ihc12)" />
<path d="M446.00,425.00 C446.27,423.13 449.87,419.07 452.00,418.00 C454.13,416.93 459.33,416.73 462.00,417.00 C464.67,417.27 470.40,418.27 472.00,420.00 C473.60,421.73 474.53,427.60 474.00,430.00 C473.47,432.40 470.13,437.20 468.00,438.00 C465.87,438.80 460.40,436.80 458.00,436.00 C455.60,435.20 451.60,433.47 450.00,432.00 C448.40,430.53 445.73,426.87 446.00,425.00Z" fill="#f2eeea" stroke="none" stroke-width="1" />
</g>
<rect x="198.3" y="372.3" width="38.30" height="26.10" stroke="#e02228" stroke-width="0.9" stroke-dasharray="2.2,1.6" fill="none"/>
<path d="M198.3,398.4 L197.2,406.5 M236.6,398.4 L273.4,406.5" stroke="#e02228" stroke-width="0.9" stroke-dasharray="2.2,1.6" fill="none"/>
<rect x="305.0" y="360.3" width="38.80" height="26.10" stroke="#e02228" stroke-width="0.9" stroke-dasharray="2.2,1.6" fill="none"/>
<path d="M305.0,386.4 L274.0,406.5 M343.8,386.4 L349.4,406.5" stroke="#e02228" stroke-width="0.9" stroke-dasharray="2.2,1.6" fill="none"/>
<rect x="362.5" y="367.4" width="38.80" height="25.80" stroke="#e02228" stroke-width="0.9" stroke-dasharray="2.2,1.6" fill="none"/>
<path d="M362.5,393.2 L350.0,406.5 M401.3,393.2 L425.2,406.5" stroke="#e02228" stroke-width="0.9" stroke-dasharray="2.2,1.6" fill="none"/>
<rect x="428.9" y="357.4" width="38.80" height="26.00" stroke="#e02228" stroke-width="0.9" stroke-dasharray="2.2,1.6" fill="none"/>
<path d="M428.9,383.4 L425.8,406.5 M467.7,383.4 L501.4,406.5" stroke="#e02228" stroke-width="0.9" stroke-dasharray="2.2,1.6" fill="none"/>
<line x1="492.80" y1="400.60" x2="500.20" y2="400.60" stroke="#111" stroke-width="1.0" />
<line x1="488.00" y1="461.20" x2="500.20" y2="461.20" stroke="#111" stroke-width="1.0" />
<text x="516.60" y="328.80" font-size="12.5" fill="#000" text-anchor="start" font-weight="bold" >h</text>
<text x="552.70" y="339.80" font-size="8.4" fill="#111" text-anchor="middle" font-weight="normal" >T</text>
<text x="590.70" y="339.80" font-size="8.4" fill="#111" text-anchor="middle" font-weight="normal" >N</text>
<rect x="533.9" y="343.00" width="37.70" height="1.64" fill="#bd2e2e"/><rect x="571.6" y="343.00" width="38.00" height="1.64" fill="#1d6c1d"/><rect x="533.9" y="344.62" width="37.70" height="1.64" fill="#b02b2b"/><rect x="571.6" y="344.62" width="38.00" height="1.64" fill="#279327"/><rect x="533.9" y="346.25" width="37.70" height="1.64" fill="#ad2a2a"/><rect x="571.6" y="346.25" width="38.00" height="1.64" fill="#238523"/><rect x="533.9" y="347.87" width="37.70" height="1.64" fill="#be2e2e"/><rect x="571.6" y="347.87" width="38.00" height="1.64" fill="#092309"/><rect x="533.9" y="349.49" width="37.70" height="1.64" fill="#aa2929"/><rect x="571.6" y="349.49" width="38.00" height="1.64" fill="#1a621a"/><rect x="533.9" y="351.11" width="37.70" height="1.64" fill="#b42c2c"/><rect x="571.6" y="351.11" width="38.00" height="1.64" fill="#195d19"/><rect x="533.9" y="352.74" width="37.70" height="1.64" fill="#b62c2c"/><rect x="571.6" y="352.74" width="38.00" height="1.64" fill="#195d19"/><rect x="533.9" y="354.36" width="37.70" height="1.64" fill="#b82c2c"/><rect x="571.6" y="354.36" width="38.00" height="1.64" fill="#1c681c"/><rect x="533.9" y="355.98" width="37.70" height="1.64" fill="#ab2929"/><rect x="571.6" y="355.98" width="38.00" height="1.64" fill="#071a07"/><rect x="533.9" y="357.61" width="37.70" height="1.64" fill="#b82d2d"/><rect x="571.6" y="357.61" width="38.00" height="1.64" fill="#289528"/><rect x="533.9" y="359.23" width="37.70" height="1.64" fill="#b52c2c"/><rect x="571.6" y="359.23" width="38.00" height="1.64" fill="#207a20"/><rect x="533.9" y="360.85" width="37.70" height="1.64" fill="#bf2e2e"/><rect x="571.6" y="360.85" width="38.00" height="1.64" fill="#1b671b"/><rect x="533.9" y="362.47" width="37.70" height="1.64" fill="#a82828"/><rect x="571.6" y="362.47" width="38.00" height="1.64" fill="#061706"/><rect x="533.9" y="364.10" width="37.70" height="1.64" fill="#c12f2f"/><rect x="571.6" y="364.10" width="38.00" height="1.64" fill="#289728"/><rect x="533.9" y="365.72" width="37.70" height="1.64" fill="#ac2929"/><rect x="571.6" y="365.72" width="38.00" height="1.64" fill="#289828"/><rect x="533.9" y="367.34" width="37.70" height="1.64" fill="#bd2e2e"/><rect x="571.6" y="367.34" width="38.00" height="1.64" fill="#200707"/><rect x="533.9" y="368.97" width="37.70" height="1.64" fill="#b52c2c"/><rect x="571.6" y="368.97" width="38.00" height="1.64" fill="#279327"/><rect x="533.9" y="370.59" width="37.70" height="1.64" fill="#be2e2e"/><rect x="571.6" y="370.59" width="38.00" height="1.64" fill="#195d19"/><rect x="533.9" y="372.21" width="37.70" height="1.64" fill="#ac2a2a"/><rect x="571.6" y="372.21" width="38.00" height="1.64" fill="#279127"/><rect x="533.9" y="373.83" width="37.70" height="1.64" fill="#b02a2a"/><rect x="571.6" y="373.83" width="38.00" height="1.64" fill="#227f22"/><rect x="533.9" y="375.46" width="37.70" height="1.64" fill="#3a0e0e"/><rect x="571.6" y="375.46" width="38.00" height="1.64" fill="#207a20"/><rect x="533.9" y="377.08" width="37.70" height="1.64" fill="#411010"/><rect x="571.6" y="377.08" width="38.00" height="1.64" fill="#195f19"/><rect x="533.9" y="378.70" width="37.70" height="1.64" fill="#3f0f0f"/><rect x="571.6" y="378.70" width="38.00" height="1.64" fill="#092209"/><rect x="533.9" y="380.33" width="37.70" height="1.64" fill="#3b0e0e"/><rect x="571.6" y="380.33" width="38.00" height="1.64" fill="#248824"/><rect x="533.9" y="381.95" width="37.70" height="1.64" fill="#3b0e0e"/><rect x="571.6" y="381.95" width="38.00" height="1.64" fill="#1b671b"/><rect x="533.9" y="383.57" width="37.70" height="1.64" fill="#3a0e0e"/><rect x="571.6" y="383.57" width="38.00" height="1.64" fill="#279327"/><rect x="533.9" y="385.19" width="37.70" height="1.64" fill="#3b0e0e"/><rect x="571.6" y="385.19" width="38.00" height="1.64" fill="#268e26"/><rect x="533.9" y="386.82" width="37.70" height="1.64" fill="#3f0f0f"/><rect x="571.6" y="386.82" width="38.00" height="1.64" fill="#289728"/><rect x="533.9" y="388.44" width="37.70" height="1.64" fill="#3e0f0f"/><rect x="571.6" y="388.44" width="38.00" height="1.64" fill="#185b18"/><rect x="533.9" y="390.06" width="37.70" height="1.64" fill="#410f0f"/><rect x="571.6" y="390.06" width="38.00" height="1.64" fill="#258a25"/><rect x="533.9" y="391.69" width="37.70" height="1.64" fill="#3a0e0e"/><rect x="571.6" y="391.69" width="38.00" height="1.64" fill="#207820"/><rect x="533.9" y="393.31" width="37.70" height="1.64" fill="#421010"/><rect x="571.6" y="393.31" width="38.00" height="1.64" fill="#081e08"/><rect x="533.9" y="394.93" width="37.70" height="1.64" fill="#441010"/><rect x="571.6" y="394.93" width="38.00" height="1.64" fill="#051205"/><rect x="533.9" y="396.55" width="37.70" height="1.64" fill="#410f0f"/><rect x="571.6" y="396.55" width="38.00" height="1.64" fill="#061706"/><rect x="533.9" y="398.18" width="37.70" height="1.64" fill="#410f0f"/><rect x="571.6" y="398.18" width="38.00" height="1.64" fill="#1e721e"/><rect x="533.9" y="399.80" width="37.70" height="1.64" fill="#421010"/><rect x="571.6" y="399.80" width="38.00" height="1.64" fill="#200707"/><rect x="533.9" y="401.42" width="37.70" height="1.64" fill="#3a0e0e"/><rect x="571.6" y="401.42" width="38.00" height="1.64" fill="#200707"/><rect x="533.9" y="403.05" width="37.70" height="1.64" fill="#3e0f0f"/><rect x="571.6" y="403.05" width="38.00" height="1.64" fill="#207920"/><rect x="533.9" y="404.67" width="37.70" height="1.64" fill="#3a0e0e"/><rect x="571.6" y="404.67" width="38.00" height="1.64" fill="#248724"/><rect x="533.9" y="406.29" width="37.70" height="1.64" fill="#411010"/><rect x="571.6" y="406.29" width="38.00" height="1.64" fill="#1a621a"/><rect x="533.9" y="407.91" width="37.70" height="1.64" fill="#3f0f0f"/><rect x="571.6" y="407.91" width="38.00" height="1.64" fill="#279227"/><rect x="533.9" y="409.54" width="37.70" height="1.64" fill="#3a0e0e"/><rect x="571.6" y="409.54" width="38.00" height="1.64" fill="#1e701e"/><rect x="533.9" y="411.16" width="37.70" height="1.64" fill="#3e0f0f"/><rect x="571.6" y="411.16" width="38.00" height="1.64" fill="#238623"/><rect x="533.9" y="412.78" width="37.70" height="1.64" fill="#411010"/><rect x="571.6" y="412.78" width="38.00" height="1.64" fill="#248724"/><rect x="533.9" y="414.41" width="37.70" height="1.64" fill="#041004"/><rect x="571.6" y="414.41" width="38.00" height="1.64" fill="#217b21"/><rect x="533.9" y="416.03" width="37.70" height="1.64" fill="#041104"/><rect x="571.6" y="416.03" width="38.00" height="1.64" fill="#092109"/><rect x="533.9" y="417.65" width="37.70" height="1.64" fill="#030e03"/><rect x="571.6" y="417.65" width="38.00" height="1.64" fill="#1e721e"/><rect x="533.9" y="419.27" width="37.70" height="1.64" fill="#041104"/><rect x="571.6" y="419.27" width="38.00" height="1.64" fill="#279427"/><rect x="533.9" y="420.90" width="37.70" height="1.64" fill="#040e04"/><rect x="571.6" y="420.90" width="38.00" height="1.64" fill="#289828"/><rect x="533.9" y="422.52" width="37.70" height="1.64" fill="#030e03"/><rect x="571.6" y="422.52" width="38.00" height="1.64" fill="#269026"/><rect x="533.9" y="424.14" width="37.70" height="1.64" fill="#040f04"/><rect x="571.6" y="424.14" width="38.00" height="1.64" fill="#092309"/><rect x="533.9" y="425.77" width="37.70" height="1.64" fill="#030e03"/><rect x="571.6" y="425.77" width="38.00" height="1.64" fill="#196019"/><rect x="533.9" y="427.39" width="37.70" height="1.64" fill="#041004"/><rect x="571.6" y="427.39" width="38.00" height="1.64" fill="#207820"/><rect x="533.9" y="429.01" width="37.70" height="1.64" fill="#041104"/><rect x="571.6" y="429.01" width="38.00" height="1.64" fill="#1d6d1d"/><rect x="533.9" y="430.63" width="37.70" height="1.64" fill="#1e701e"/><rect x="571.6" y="430.63" width="38.00" height="1.64" fill="#1b661b"/><rect x="533.9" y="432.26" width="37.70" height="1.64" fill="#1a641a"/><rect x="571.6" y="432.26" width="38.00" height="1.64" fill="#268e26"/><rect x="533.9" y="433.88" width="37.70" height="1.64" fill="#1a631a"/><rect x="571.6" y="433.88" width="38.00" height="1.64" fill="#185b18"/><rect x="533.9" y="435.50" width="37.70" height="1.64" fill="#1f741f"/><rect x="571.6" y="435.50" width="38.00" height="1.64" fill="#081e08"/><rect x="533.9" y="437.13" width="37.70" height="1.64" fill="#185a18"/><rect x="571.6" y="437.13" width="38.00" height="1.64" fill="#217b21"/><rect x="533.9" y="438.75" width="37.70" height="1.64" fill="#238523"/><rect x="571.6" y="438.75" width="38.00" height="1.64" fill="#207920"/><rect x="533.9" y="440.37" width="37.70" height="1.64" fill="#1d6f1d"/><rect x="571.6" y="440.37" width="38.00" height="1.64" fill="#1d6c1d"/><rect x="533.9" y="441.99" width="37.70" height="1.64" fill="#238423"/><rect x="571.6" y="441.99" width="38.00" height="1.64" fill="#1b671b"/><rect x="533.9" y="443.62" width="37.70" height="1.64" fill="#1f761f"/><rect x="571.6" y="443.62" width="38.00" height="1.64" fill="#258c25"/><rect x="533.9" y="445.24" width="37.70" height="1.64" fill="#175817"/><rect x="571.6" y="445.24" width="38.00" height="1.64" fill="#051505"/><rect x="533.9" y="446.86" width="37.70" height="1.64" fill="#228122"/><rect x="571.6" y="446.86" width="38.00" height="1.64" fill="#217d21"/><rect x="533.9" y="448.49" width="37.70" height="1.64" fill="#175817"/><rect x="571.6" y="448.49" width="38.00" height="1.64" fill="#248924"/><rect x="533.9" y="450.11" width="37.70" height="1.64" fill="#185c18"/><rect x="571.6" y="450.11" width="38.00" height="1.64" fill="#1a611a"/><rect x="533.9" y="451.73" width="37.70" height="1.64" fill="#1b661b"/><rect x="571.6" y="451.73" width="38.00" height="1.64" fill="#051405"/><rect x="533.9" y="453.35" width="37.70" height="1.64" fill="#238423"/><rect x="571.6" y="453.35" width="38.00" height="1.64" fill="#1a611a"/><rect x="533.9" y="454.98" width="37.70" height="1.64" fill="#1e701e"/><rect x="571.6" y="454.98" width="38.00" height="1.64" fill="#238423"/>
<g stroke="#000" stroke-width="0.55" opacity="0.7"><line x1="533.9" y1="344.62" x2="609.6" y2="344.62"/><line x1="533.9" y1="346.25" x2="609.6" y2="346.25"/><line x1="533.9" y1="347.87" x2="609.6" y2="347.87"/><line x1="533.9" y1="349.49" x2="609.6" y2="349.49"/><line x1="533.9" y1="351.11" x2="609.6" y2="351.11"/><line x1="533.9" y1="352.74" x2="609.6" y2="352.74"/><line x1="533.9" y1="354.36" x2="609.6" y2="354.36"/><line x1="533.9" y1="355.98" x2="609.6" y2="355.98"/><line x1="533.9" y1="357.61" x2="609.6" y2="357.61"/><line x1="533.9" y1="359.23" x2="609.6" y2="359.23"/><line x1="533.9" y1="360.85" x2="609.6" y2="360.85"/><line x1="533.9" y1="362.47" x2="609.6" y2="362.47"/><line x1="533.9" y1="364.10" x2="609.6" y2="364.10"/><line x1="533.9" y1="365.72" x2="609.6" y2="365.72"/><line x1="533.9" y1="367.34" x2="609.6" y2="367.34"/><line x1="533.9" y1="368.97" x2="609.6" y2="368.97"/><line x1="533.9" y1="370.59" x2="609.6" y2="370.59"/><line x1="533.9" y1="372.21" x2="609.6" y2="372.21"/><line x1="533.9" y1="373.83" x2="609.6" y2="373.83"/><line x1="533.9" y1="375.46" x2="609.6" y2="375.46"/><line x1="533.9" y1="377.08" x2="609.6" y2="377.08"/><line x1="533.9" y1="378.70" x2="609.6" y2="378.70"/><line x1="533.9" y1="380.33" x2="609.6" y2="380.33"/><line x1="533.9" y1="381.95" x2="609.6" y2="381.95"/><line x1="533.9" y1="383.57" x2="609.6" y2="383.57"/><line x1="533.9" y1="385.19" x2="609.6" y2="385.19"/><line x1="533.9" y1="386.82" x2="609.6" y2="386.82"/><line x1="533.9" y1="388.44" x2="609.6" y2="388.44"/><line x1="533.9" y1="390.06" x2="609.6" y2="390.06"/><line x1="533.9" y1="391.69" x2="609.6" y2="391.69"/><line x1="533.9" y1="393.31" x2="609.6" y2="393.31"/><line x1="533.9" y1="394.93" x2="609.6" y2="394.93"/><line x1="533.9" y1="396.55" x2="609.6" y2="396.55"/><line x1="533.9" y1="398.18" x2="609.6" y2="398.18"/><line x1="533.9" y1="399.80" x2="609.6" y2="399.80"/><line x1="533.9" y1="401.42" x2="609.6" y2="401.42"/><line x1="533.9" y1="403.05" x2="609.6" y2="403.05"/><line x1="533.9" y1="404.67" x2="609.6" y2="404.67"/><line x1="533.9" y1="406.29" x2="609.6" y2="406.29"/><line x1="533.9" y1="407.91" x2="609.6" y2="407.91"/><line x1="533.9" y1="409.54" x2="609.6" y2="409.54"/><line x1="533.9" y1="411.16" x2="609.6" y2="411.16"/><line x1="533.9" y1="412.78" x2="609.6" y2="412.78"/><line x1="533.9" y1="414.41" x2="609.6" y2="414.41"/><line x1="533.9" y1="416.03" x2="609.6" y2="416.03"/><line x1="533.9" y1="417.65" x2="609.6" y2="417.65"/><line x1="533.9" y1="419.27" x2="609.6" y2="419.27"/><line x1="533.9" y1="420.90" x2="609.6" y2="420.90"/><line x1="533.9" y1="422.52" x2="609.6" y2="422.52"/><line x1="533.9" y1="424.14" x2="609.6" y2="424.14"/><line x1="533.9" y1="425.77" x2="609.6" y2="425.77"/><line x1="533.9" y1="427.39" x2="609.6" y2="427.39"/><line x1="533.9" y1="429.01" x2="609.6" y2="429.01"/><line x1="533.9" y1="430.63" x2="609.6" y2="430.63"/><line x1="533.9" y1="432.26" x2="609.6" y2="432.26"/><line x1="533.9" y1="433.88" x2="609.6" y2="433.88"/><line x1="533.9" y1="435.50" x2="609.6" y2="435.50"/><line x1="533.9" y1="437.13" x2="609.6" y2="437.13"/><line x1="533.9" y1="438.75" x2="609.6" y2="438.75"/><line x1="533.9" y1="440.37" x2="609.6" y2="440.37"/><line x1="533.9" y1="441.99" x2="609.6" y2="441.99"/><line x1="533.9" y1="443.62" x2="609.6" y2="443.62"/><line x1="533.9" y1="445.24" x2="609.6" y2="445.24"/><line x1="533.9" y1="446.86" x2="609.6" y2="446.86"/><line x1="533.9" y1="448.49" x2="609.6" y2="448.49"/><line x1="533.9" y1="450.11" x2="609.6" y2="450.11"/><line x1="533.9" y1="451.73" x2="609.6" y2="451.73"/><line x1="533.9" y1="453.35" x2="609.6" y2="453.35"/><line x1="533.9" y1="454.98" x2="609.6" y2="454.98"/></g>
<line x1="571.60" y1="343.00" x2="571.60" y2="456.60" stroke="#000" stroke-width="0.5" />
<rect x="533.9" y="343.0" width="75.70" height="113.60" fill="none" stroke="#000" stroke-width="0.6"/>
<text x="529.90" y="345.91" font-size="6.2" fill="#333" text-anchor="end" font-weight="normal" >1</text>
<line x1="530.30" y1="343.81" x2="533.90" y2="343.81" stroke="#333" stroke-width="0.5" />
<text x="529.90" y="354.03" font-size="6.2" fill="#333" text-anchor="end" font-weight="normal" >6</text>
<line x1="530.30" y1="351.93" x2="533.90" y2="351.93" stroke="#333" stroke-width="0.5" />
<text x="529.90" y="362.14" font-size="6.2" fill="#333" text-anchor="end" font-weight="normal" >11</text>
<line x1="530.30" y1="360.04" x2="533.90" y2="360.04" stroke="#333" stroke-width="0.5" />
<text x="529.90" y="370.25" font-size="6.2" fill="#333" text-anchor="end" font-weight="normal" >16</text>
<line x1="530.30" y1="368.15" x2="533.90" y2="368.15" stroke="#333" stroke-width="0.5" />
<text x="529.90" y="378.37" font-size="6.2" fill="#333" text-anchor="end" font-weight="normal" >21</text>
<line x1="530.30" y1="376.27" x2="533.90" y2="376.27" stroke="#333" stroke-width="0.5" />
<text x="529.90" y="386.48" font-size="6.2" fill="#333" text-anchor="end" font-weight="normal" >26</text>
<line x1="530.30" y1="384.38" x2="533.90" y2="384.38" stroke="#333" stroke-width="0.5" />
<text x="529.90" y="394.60" font-size="6.2" fill="#333" text-anchor="end" font-weight="normal" >31</text>
<line x1="530.30" y1="392.50" x2="533.90" y2="392.50" stroke="#333" stroke-width="0.5" />
<text x="529.90" y="402.71" font-size="6.2" fill="#333" text-anchor="end" font-weight="normal" >36</text>
<line x1="530.30" y1="400.61" x2="533.90" y2="400.61" stroke="#333" stroke-width="0.5" />
<text x="529.90" y="410.83" font-size="6.2" fill="#333" text-anchor="end" font-weight="normal" >41</text>
<line x1="530.30" y1="408.73" x2="533.90" y2="408.73" stroke="#333" stroke-width="0.5" />
<text x="529.90" y="418.94" font-size="6.2" fill="#333" text-anchor="end" font-weight="normal" >46</text>
<line x1="530.30" y1="416.84" x2="533.90" y2="416.84" stroke="#333" stroke-width="0.5" />
<text x="529.90" y="427.05" font-size="6.2" fill="#333" text-anchor="end" font-weight="normal" >51</text>
<line x1="530.30" y1="424.95" x2="533.90" y2="424.95" stroke="#333" stroke-width="0.5" />
<text x="529.90" y="435.17" font-size="6.2" fill="#333" text-anchor="end" font-weight="normal" >56</text>
<line x1="530.30" y1="433.07" x2="533.90" y2="433.07" stroke="#333" stroke-width="0.5" />
<text x="529.90" y="443.28" font-size="6.2" fill="#333" text-anchor="end" font-weight="normal" >61</text>
<line x1="530.30" y1="441.18" x2="533.90" y2="441.18" stroke="#333" stroke-width="0.5" />
<text x="529.90" y="451.40" font-size="6.2" fill="#333" text-anchor="end" font-weight="normal" >66</text>
<line x1="530.30" y1="449.30" x2="533.90" y2="449.30" stroke="#333" stroke-width="0.5" />
<rect x="613.2" y="343.2" width="9.6" height="113.6" fill="url(#hmg)" stroke="#111" stroke-width="0.8"/>
<text x="625.00" y="357.60" font-size="6.0" fill="#333" text-anchor="start" font-weight="normal" >8</text>
<line x1="622.80" y1="355.40" x2="624.20" y2="355.40" stroke="#333" stroke-width="0.5" />
<text x="625.00" y="382.40" font-size="6.0" fill="#333" text-anchor="start" font-weight="normal" >6</text>
<line x1="622.80" y1="380.20" x2="624.20" y2="380.20" stroke="#333" stroke-width="0.5" />
<text x="625.00" y="408.50" font-size="6.0" fill="#333" text-anchor="start" font-weight="normal" >4</text>
<line x1="622.80" y1="406.30" x2="624.20" y2="406.30" stroke="#333" stroke-width="0.5" />
<text x="625.00" y="433.70" font-size="6.0" fill="#333" text-anchor="start" font-weight="normal" >2</text>
<line x1="622.80" y1="431.50" x2="624.20" y2="431.50" stroke="#333" stroke-width="0.5" />
<text x="625.00" y="459.00" font-size="6.0" fill="#333" text-anchor="start" font-weight="normal" >0</text>
<line x1="622.80" y1="456.80" x2="624.20" y2="456.80" stroke="#333" stroke-width="0.5" />
<text x="628.80" y="348.40" font-size="6.95" fill="#222" text-anchor="start" font-weight="normal" >Total n=70 pairs</text>
<text x="639.40" y="359.20" font-size="7.0" fill="#222" text-anchor="middle" font-weight="normal" >T</text>
<text x="639.50" y="414.10" font-size="7.0" fill="#222" text-anchor="middle" font-weight="normal" >N</text>
<rect x="633.00" y="361.60" width="14.20" height="5.50" fill="#c41c1c" />
<text x="649.00" y="366.40" font-size="7.8" fill="#222" text-anchor="start" font-weight="normal" >+++</text>
<text x="664.50" y="366.40" font-size="7.0" fill="#222" text-anchor="start" font-weight="normal" >n=20</text>
<rect x="633.00" y="372.20" width="14.20" height="5.50" fill="#7a1616" />
<text x="649.00" y="377.10" font-size="7.8" fill="#222" text-anchor="start" font-weight="normal" >++</text>
<text x="664.50" y="377.10" font-size="7.0" fill="#222" text-anchor="start" font-weight="normal" >n=24</text>
<rect x="633.00" y="383.10" width="14.20" height="5.50" fill="#2a1818" />
<text x="649.00" y="388.00" font-size="7.8" fill="#222" text-anchor="start" font-weight="normal" >+</text>
<text x="664.50" y="388.00" font-size="7.0" fill="#222" text-anchor="start" font-weight="normal" >n=10</text>
<rect x="633.00" y="393.30" width="14.20" height="5.50" fill="#18a044" />
<text x="649.00" y="398.20" font-size="7.8" fill="#222" text-anchor="start" font-weight="normal" >–</text>
<text x="664.50" y="398.20" font-size="7.0" fill="#222" text-anchor="start" font-weight="normal" >n=16</text>
<rect x="633.00" y="416.70" width="14.20" height="5.50" fill="#c41c1c" />
<text x="649.00" y="421.30" font-size="7.8" fill="#222" text-anchor="start" font-weight="normal" >+++</text>
<text x="664.50" y="421.30" font-size="7.0" fill="#222" text-anchor="start" font-weight="normal" >n=0</text>
<rect x="633.00" y="427.20" width="14.20" height="5.50" fill="#7a1616" />
<text x="649.00" y="431.70" font-size="7.8" fill="#222" text-anchor="start" font-weight="normal" >++</text>
<text x="664.50" y="431.70" font-size="7.0" fill="#222" text-anchor="start" font-weight="normal" >n=3</text>
<rect x="633.00" y="438.20" width="14.20" height="5.50" fill="#2a1818" />
<text x="649.00" y="442.20" font-size="7.8" fill="#222" text-anchor="start" font-weight="normal" >+</text>
<text x="664.50" y="442.20" font-size="7.0" fill="#222" text-anchor="start" font-weight="normal" >n=16</text>
<rect x="633.00" y="448.40" width="14.20" height="5.50" fill="#18a044" />
<text x="649.00" y="453.00" font-size="7.8" fill="#222" text-anchor="start" font-weight="normal" >–</text>
<text x="664.50" y="453.00" font-size="7.0" fill="#222" text-anchor="start" font-weight="normal" >n=51</text>
<text x="0.80" y="491.70" font-size="12.5" fill="#000" text-anchor="start" font-weight="bold" >i</text>
<line x1="46.10" y1="499.50" x2="46.10" y2="588.20" stroke="#8c8c8c" stroke-width="1.3" />
<line x1="45.50" y1="587.80" x2="197.40" y2="587.80" stroke="#8c8c8c" stroke-width="1.3" />
<text x="43.40" y="504.80" font-size="7.6" fill="#333" text-anchor="end" font-weight="normal" >1.00</text>
<line x1="43.90" y1="502.10" x2="46.00" y2="502.10" stroke="#333" stroke-width="0.7" />
<text x="43.40" y="525.30" font-size="7.6" fill="#333" text-anchor="end" font-weight="normal" >0.75</text>
<line x1="43.90" y1="522.60" x2="46.00" y2="522.60" stroke="#333" stroke-width="0.7" />
<text x="43.40" y="545.70" font-size="7.6" fill="#333" text-anchor="end" font-weight="normal" >0.50</text>
<line x1="43.90" y1="543.00" x2="46.00" y2="543.00" stroke="#333" stroke-width="0.7" />
<text x="43.40" y="566.10" font-size="7.6" fill="#333" text-anchor="end" font-weight="normal" >0.25</text>
<line x1="43.90" y1="563.40" x2="46.00" y2="563.40" stroke="#333" stroke-width="0.7" />
<text x="43.40" y="586.30" font-size="7.6" fill="#333" text-anchor="end" font-weight="normal" >0.00</text>
<line x1="43.90" y1="583.60" x2="46.00" y2="583.60" stroke="#333" stroke-width="0.7" />
<text x="53.30" y="596.70" font-size="7.3" fill="#333" text-anchor="middle" font-weight="normal" >0</text>
<line x1="53.30" y1="588.20" x2="53.30" y2="590.00" stroke="#333" stroke-width="0.7" />
<text x="75.90" y="596.70" font-size="7.3" fill="#333" text-anchor="middle" font-weight="normal" >10</text>
<line x1="75.90" y1="588.20" x2="75.90" y2="590.00" stroke="#333" stroke-width="0.7" />
<text x="98.50" y="596.70" font-size="7.3" fill="#333" text-anchor="middle" font-weight="normal" >20</text>
<line x1="98.50" y1="588.20" x2="98.50" y2="590.00" stroke="#333" stroke-width="0.7" />
<text x="121.10" y="596.70" font-size="7.3" fill="#333" text-anchor="middle" font-weight="normal" >30</text>
<line x1="121.10" y1="588.20" x2="121.10" y2="590.00" stroke="#333" stroke-width="0.7" />
<text x="143.70" y="596.70" font-size="7.3" fill="#333" text-anchor="middle" font-weight="normal" >40</text>
<line x1="143.70" y1="588.20" x2="143.70" y2="590.00" stroke="#333" stroke-width="0.7" />
<text x="166.30" y="596.70" font-size="7.3" fill="#333" text-anchor="middle" font-weight="normal" >50</text>
<line x1="166.30" y1="588.20" x2="166.30" y2="590.00" stroke="#333" stroke-width="0.7" />
<text x="188.90" y="596.70" font-size="7.3" fill="#333" text-anchor="middle" font-weight="normal" >60</text>
<line x1="188.90" y1="588.20" x2="188.90" y2="590.00" stroke="#333" stroke-width="0.7" />
<text x="122.90" y="608.90" font-size="9.0" fill="#333" text-anchor="middle" font-weight="normal" >Time(month)</text>
<text x="0.00" y="0.00" font-size="8.2" fill="#333" text-anchor="middle" font-weight="normal" transform="translate(24.6 542.6) rotate(-90)">Overall survival probability</text>
<line x1="46.10" y1="542.70" x2="106.30" y2="542.70" stroke="#333" stroke-width="1.3" stroke-dasharray="3.8,2.6"/>
<line x1="84.90" y1="542.70" x2="84.90" y2="587.00" stroke="#333" stroke-width="1.3" stroke-dasharray="3.8,2.6"/>
<line x1="105.90" y1="542.70" x2="105.90" y2="587.00" stroke="#333" stroke-width="1.3" stroke-dasharray="3.8,2.6"/>
<path d="M53.32,502.01 H59.23 V502.01 H61.42 V504.85 H63.61 V508.14 H65.80 V511.42 H66.90 V514.27 H68.65 V516.90 H70.18 V520.18 H71.28 V522.81 H73.03 V525.65 H75.22 V528.28 H76.75 V531.13 H78.94 V534.41 H81.13 V537.70 H82.22 V539.89 H85.51 V539.89 H86.60 V542.73 H87.70 V544.92 H88.79 V547.55 H90.98 V549.74 H92.08 V552.37 H97.55 V553.02 H100.84 V556.31 H106.31 V556.75 H108.50 V559.16 H110.69 V561.78 H113.97 V563.97 H116.16 V566.16 H121.64 V568.35 H131.49 V569.45 H132.58 V571.64 H140.25 V571.64 H141.34 V573.39 H150.10 V574.26 H151.20 V576.45 H177.47 V576.45" fill="none" stroke="#f0716b" stroke-width="1.1" />
<path d="M53.32,502.01 H67.99 V502.01 H69.09 V504.85 H70.18 V506.39 H72.37 V507.04 H74.56 V510.77 H80.03 V511.42 H81.13 V514.27 H84.41 V515.80 H85.51 V517.99 H87.70 V519.09 H88.79 V522.37 H90.98 V523.47 H92.08 V526.09 H94.27 V527.84 H95.36 V530.03 H97.55 V532.22 H99.74 V534.85 H100.84 V536.60 H103.02 V538.79 H104.12 V539.89 H106.31 V540.98 H107.40 V543.61 H109.59 V547.11 H110.69 V549.74 H120.54 V549.74 H121.64 V553.02 H138.06 V553.02 H139.15 V558.94 H144.63 V558.94 H145.28 V565.07 H188.42 V565.07" fill="none" stroke="#23b9c1" stroke-width="1.1" />
<line x1="81.10" y1="498.90" x2="88.30" y2="498.90" stroke="#f0716b" stroke-width="1.1" />
<line x1="81.10" y1="506.60" x2="88.30" y2="506.60" stroke="#23b9c1" stroke-width="1.1" />
<text x="92.40" y="501.30" font-size="7.82" fill="#222" text-anchor="start" font-weight="normal" >TNK2 High, n=35, Median=13.3</text>
<text x="92.40" y="509.10" font-size="7.82" fill="#222" text-anchor="start" font-weight="normal" >TNK2 Low,&#160; n=35, Median=22.9</text>
<text x="202.30" y="519.30" font-size="7.37" fill="#222" text-anchor="end" font-weight="normal" >Logrank P value=0.041</text>
<text x="226.70" y="493.60" font-size="12.5" fill="#000" text-anchor="start" font-weight="bold" >j</text>
<line x1="284.70" y1="497.50" x2="284.70" y2="589.50" stroke="#3a3a3a" stroke-width="1.0" />
<line x1="284.20" y1="589.00" x2="442.50" y2="589.00" stroke="#3a3a3a" stroke-width="1.0" />
<text x="281.50" y="502.70" font-size="7.6" fill="#333" text-anchor="end" font-weight="normal" >1.00</text>
<line x1="282.00" y1="500.00" x2="284.50" y2="500.00" stroke="#333" stroke-width="0.7" />
<text x="281.50" y="524.00" font-size="7.6" fill="#333" text-anchor="end" font-weight="normal" >0.75</text>
<line x1="282.00" y1="521.30" x2="284.50" y2="521.30" stroke="#333" stroke-width="0.7" />
<text x="281.50" y="545.50" font-size="7.6" fill="#333" text-anchor="end" font-weight="normal" >0.50</text>
<line x1="282.00" y1="542.80" x2="284.50" y2="542.80" stroke="#333" stroke-width="0.7" />
<text x="281.50" y="566.90" font-size="7.6" fill="#333" text-anchor="end" font-weight="normal" >0.25</text>
<line x1="282.00" y1="564.20" x2="284.50" y2="564.20" stroke="#333" stroke-width="0.7" />
<text x="281.50" y="588.10" font-size="7.6" fill="#333" text-anchor="end" font-weight="normal" >0.00</text>
<line x1="282.00" y1="585.40" x2="284.50" y2="585.40" stroke="#333" stroke-width="0.7" />
<text x="292.00" y="598.90" font-size="7.3" fill="#333" text-anchor="middle" font-weight="normal" >0</text>
<line x1="292.00" y1="589.20" x2="292.00" y2="591.00" stroke="#333" stroke-width="0.7" />
<text x="327.90" y="598.90" font-size="7.3" fill="#333" text-anchor="middle" font-weight="normal" >10</text>
<line x1="327.90" y1="589.20" x2="327.90" y2="591.00" stroke="#333" stroke-width="0.7" />
<text x="363.80" y="598.90" font-size="7.3" fill="#333" text-anchor="middle" font-weight="normal" >20</text>
<line x1="363.80" y1="589.20" x2="363.80" y2="591.00" stroke="#333" stroke-width="0.7" />
<text x="399.70" y="598.90" font-size="7.3" fill="#333" text-anchor="middle" font-weight="normal" >30</text>
<line x1="399.70" y1="589.20" x2="399.70" y2="591.00" stroke="#333" stroke-width="0.7" />
<text x="435.60" y="598.90" font-size="7.3" fill="#333" text-anchor="middle" font-weight="normal" >40</text>
<line x1="435.60" y1="589.20" x2="435.60" y2="591.00" stroke="#333" stroke-width="0.7" />
<text x="365.30" y="608.10" font-size="8.4" fill="#333" text-anchor="middle" font-weight="normal" >Time(month)</text>
<text x="0.00" y="0.00" font-size="8.1" fill="#333" text-anchor="middle" font-weight="normal" transform="translate(250.6 542) rotate(-90)">Progression free</text>
<text x="0.00" y="0.00" font-size="8.1" fill="#333" text-anchor="middle" font-weight="normal" transform="translate(260.0 541) rotate(-90)">survival probability</text>
<line x1="284.70" y1="542.80" x2="315.00" y2="542.80" stroke="#333" stroke-width="1.3" stroke-dasharray="3.8,2.6"/>
<line x1="300.30" y1="542.80" x2="300.30" y2="588.50" stroke="#333" stroke-width="1.3" stroke-dasharray="3.8,2.6"/>
<line x1="314.70" y1="542.80" x2="314.70" y2="588.50" stroke="#333" stroke-width="1.3" stroke-dasharray="3.8,2.6"/>
<path d="M291.20,500.00 H292.00 V505.00 H292.90 V522.80 H294.70 V531.00 H295.47 V533.33 H296.23 V535.67 H297.00 V538.00 H297.80 V539.57 H298.60 V541.13 H299.40 V542.70 H301.10 V546.00 H303.60 V548.50 H307.30 V549.80 H311.00 V552.30 H317.20 V554.70 H318.43 V555.97 H319.67 V557.23 H320.90 V558.50 H323.40 V560.90 H328.40 V563.40 H334.60 V565.90 H339.60 V568.40 H343.30 V569.60 H344.13 V570.83 H344.97 V572.07 H345.80 V573.30 H346.60 V574.97 H347.40 V576.63 H348.20 V578.30 H352.00 V580.80 H353.20 V583.30 H397.90 V583.30" fill="none" stroke="#f0716b" stroke-width="1.1" />
<path d="M291.70,500.00 H292.70 V501.67 H293.70 V503.33 H294.70 V505.00 H295.90 V507.00 H297.10 V509.00 H298.30 V511.00 H299.87 V513.33 H301.43 V515.67 H303.00 V518.00 H304.53 V521.17 H306.07 V524.33 H307.60 V527.50 H308.73 V529.43 H309.87 V531.37 H311.00 V533.30 H312.23 V535.67 H313.47 V538.03 H314.70 V540.40 H315.53 V541.87 H316.37 V543.33 H317.20 V544.80 H318.03 V546.03 H318.87 V547.27 H319.70 V548.50 H322.20 V551.00 H325.90 V553.50 H333.30 V556.00 H344.50 V558.50 H345.73 V559.73 H346.97 V560.97 H348.20 V562.20 H361.90 V564.70 H368.10 V567.10 H370.17 V568.77 H372.23 V570.43 H374.30 V572.10 H394.10 V572.10 H394.10 V577.10 H438.80 V577.10" fill="none" stroke="#23b9c1" stroke-width="1.1" />
<line x1="328.20" y1="497.70" x2="336.00" y2="497.70" stroke="#f0716b" stroke-width="1.1" />
<line x1="328.20" y1="505.40" x2="336.00" y2="505.40" stroke="#23b9c1" stroke-width="1.1" />
<text x="339.40" y="500.30" font-size="7.84" fill="#222" text-anchor="start" font-weight="normal" >TNK2 High, n=35, Median=3.6</text>
<text x="339.40" y="508.10" font-size="7.84" fill="#222" text-anchor="start" font-weight="normal" >TNK2 Low,&#160; n=35, Median=8.5</text>
<text x="445.00" y="518.10" font-size="7.37" fill="#222" text-anchor="end" font-weight="normal" >Logrank P value=0.042</text>
<text x="460.70" y="491.80" font-size="12.5" fill="#000" text-anchor="start" font-weight="bold" >k</text>
<text x="621.20" y="481.80" font-size="7.16" fill="#222" text-anchor="middle" font-weight="normal" >Cox regression anlaysis</text>
<rect x="561.10" y="486.70" width="119.70" height="61.30" fill="#e9f5f6" />
<rect x="561.10" y="548.00" width="119.70" height="37.40" fill="#fdf5ed" />
<rect x="561.10" y="585.40" width="119.70" height="12.40" fill="#e2dedb" />
<line x1="651.13" y1="486.70" x2="651.13" y2="597.80" stroke="#c8c8c8" stroke-width="0.5" stroke-dasharray="2,1.6"/>
<line x1="679.63" y1="486.70" x2="679.63" y2="597.80" stroke="#c8c8c8" stroke-width="0.5" stroke-dasharray="2,1.6"/>
<line x1="561.10" y1="494.30" x2="680.80" y2="494.30" stroke="#c8c8c8" stroke-width="0.5" stroke-dasharray="2,1.6"/>
<line x1="561.10" y1="507.00" x2="680.80" y2="507.00" stroke="#c8c8c8" stroke-width="0.5" stroke-dasharray="2,1.6"/>
<line x1="561.10" y1="519.90" x2="680.80" y2="519.90" stroke="#c8c8c8" stroke-width="0.5" stroke-dasharray="2,1.6"/>
<line x1="561.10" y1="530.30" x2="680.80" y2="530.30" stroke="#c8c8c8" stroke-width="0.5" stroke-dasharray="2,1.6"/>
<line x1="561.10" y1="542.80" x2="680.80" y2="542.80" stroke="#c8c8c8" stroke-width="0.5" stroke-dasharray="2,1.6"/>
<line x1="561.10" y1="554.20" x2="680.80" y2="554.20" stroke="#c8c8c8" stroke-width="0.5" stroke-dasharray="2,1.6"/>
<line x1="561.10" y1="566.60" x2="680.80" y2="566.60" stroke="#c8c8c8" stroke-width="0.5" stroke-dasharray="2,1.6"/>
<line x1="561.10" y1="579.60" x2="680.80" y2="579.60" stroke="#c8c8c8" stroke-width="0.5" stroke-dasharray="2,1.6"/>
<line x1="561.10" y1="590.50" x2="680.80" y2="590.50" stroke="#c8c8c8" stroke-width="0.5" stroke-dasharray="2,1.6"/>
<line x1="602.40" y1="486.70" x2="602.40" y2="601.00" stroke="#555" stroke-width="0.8" stroke-dasharray="4,2.2"/>
<line x1="617.20" y1="494.30" x2="676.40" y2="494.30" stroke="#3a3a3a" stroke-width="0.9" />
<line x1="617.20" y1="493.10" x2="617.20" y2="495.50" stroke="#3a3a3a" stroke-width="0.6" />
<line x1="676.40" y1="493.10" x2="676.40" y2="495.50" stroke="#3a3a3a" stroke-width="0.6" />
<rect x="645.10" y="492.40" width="3.80" height="3.80" fill="#2e9ba3" />
<rect x="646.65" y="492.80" width="0.70" height="3.00" fill="#9ad8dc" />
<text x="646.60" y="501.70" font-size="5.8" fill="#222" text-anchor="middle"><tspan font-style="italic">p</tspan>=0.0042</text>
<text x="557.40" y="496.80" font-size="7.15" fill="#222" text-anchor="end" font-weight="normal" >OS_GSE78229</text>
<circle cx="559.3" cy="494.30" r="0.55" fill="#333"/>
<line x1="620.10" y1="507.00" x2="671.70" y2="507.00" stroke="#3a3a3a" stroke-width="0.9" />
<line x1="620.10" y1="505.80" x2="620.10" y2="508.20" stroke="#3a3a3a" stroke-width="0.6" />
<line x1="671.70" y1="505.80" x2="671.70" y2="508.20" stroke="#3a3a3a" stroke-width="0.6" />
<rect x="643.80" y="505.10" width="3.80" height="3.80" fill="#2e9ba3" />
<rect x="645.35" y="505.50" width="0.70" height="3.00" fill="#9ad8dc" />
<text x="645.70" y="514.60" font-size="5.8" fill="#222" text-anchor="middle"><tspan font-style="italic">p</tspan>=0.0006</text>
<text x="557.40" y="509.50" font-size="7.15" fill="#222" text-anchor="end" font-weight="normal" >OS_GSE62452</text>
<circle cx="559.3" cy="507.00" r="0.55" fill="#333"/>
<line x1="606.20" y1="519.90" x2="643.80" y2="519.90" stroke="#3a3a3a" stroke-width="0.9" />
<line x1="606.20" y1="518.70" x2="606.20" y2="521.10" stroke="#3a3a3a" stroke-width="0.6" />
<line x1="643.80" y1="518.70" x2="643.80" y2="521.10" stroke="#3a3a3a" stroke-width="0.6" />
<rect x="622.90" y="518.00" width="3.80" height="3.80" fill="#2e9ba3" />
<rect x="624.45" y="518.40" width="0.70" height="3.00" fill="#9ad8dc" />
<text x="625.60" y="527.30" font-size="5.8" fill="#222" text-anchor="middle"><tspan font-style="italic">p</tspan>=0.0315</text>
<text x="557.40" y="522.40" font-size="7.15" fill="#222" text-anchor="end" font-weight="normal" >OS_GSE71729</text>
<circle cx="559.3" cy="519.90" r="0.55" fill="#333"/>
<line x1="596.20" y1="530.30" x2="640.80" y2="530.30" stroke="#3a3a3a" stroke-width="0.9" />
<line x1="596.20" y1="529.10" x2="596.20" y2="531.50" stroke="#3a3a3a" stroke-width="0.6" />
<line x1="640.80" y1="529.10" x2="640.80" y2="531.50" stroke="#3a3a3a" stroke-width="0.6" />
<rect x="616.70" y="528.40" width="3.80" height="3.80" fill="#2e9ba3" />
<rect x="618.25" y="528.80" width="0.70" height="3.00" fill="#9ad8dc" />
<text x="618.00" y="537.70" font-size="5.8" fill="#222" text-anchor="middle"><tspan font-style="italic">p</tspan>=0.1721</text>
<text x="557.40" y="532.80" font-size="7.15" fill="#222" text-anchor="end" font-weight="normal" >OS_ICGC_PAAD_AU_seq</text>
<circle cx="559.3" cy="530.30" r="0.55" fill="#333"/>
<line x1="601.50" y1="542.80" x2="631.30" y2="542.80" stroke="#3a3a3a" stroke-width="0.9" />
<line x1="601.50" y1="541.60" x2="601.50" y2="544.00" stroke="#3a3a3a" stroke-width="0.6" />
<line x1="631.30" y1="541.60" x2="631.30" y2="544.00" stroke="#3a3a3a" stroke-width="0.6" />
<rect x="614.20" y="540.90" width="3.80" height="3.80" fill="#2e9ba3" />
<rect x="615.75" y="541.30" width="0.70" height="3.00" fill="#9ad8dc" />
<text x="616.10" y="549.70" font-size="5.8" fill="#222" text-anchor="middle"><tspan font-style="italic">p</tspan>=0.0180</text>
<text x="557.40" y="545.30" font-size="7.15" fill="#222" text-anchor="end" font-weight="normal" >OS_TCGA_PAAD</text>
<circle cx="559.3" cy="542.80" r="0.55" fill="#333"/>
<line x1="597.70" y1="554.20" x2="628.60" y2="554.20" stroke="#3a3a3a" stroke-width="0.9" />
<line x1="597.70" y1="553.00" x2="597.70" y2="555.40" stroke="#3a3a3a" stroke-width="0.6" />
<line x1="628.60" y1="553.00" x2="628.60" y2="555.40" stroke="#3a3a3a" stroke-width="0.6" />
<rect x="611.00" y="552.30" width="3.80" height="3.80" fill="#f0b23e" />
<rect x="612.55" y="552.70" width="0.70" height="3.00" fill="#fbe0a8" />
<text x="613.80" y="560.90" font-size="5.8" fill="#222" text-anchor="middle"><tspan font-style="italic">p</tspan>=0.2874</text>
<text x="557.40" y="556.70" font-size="7.15" fill="#222" text-anchor="end" font-weight="normal" >RFS_ICGC_PAAD_AU_array</text>
<circle cx="559.3" cy="554.20" r="0.55" fill="#333"/>
<line x1="601.50" y1="566.60" x2="621.80" y2="566.60" stroke="#3a3a3a" stroke-width="0.9" />
<line x1="601.50" y1="565.40" x2="601.50" y2="567.80" stroke="#3a3a3a" stroke-width="0.6" />
<line x1="621.80" y1="565.40" x2="621.80" y2="567.80" stroke="#3a3a3a" stroke-width="0.6" />
<rect x="608.70" y="564.70" width="3.80" height="3.80" fill="#f0b23e" />
<rect x="610.25" y="565.10" width="0.70" height="3.00" fill="#fbe0a8" />
<text x="611.00" y="573.80" font-size="5.8" fill="#222" text-anchor="middle"><tspan font-style="italic">p</tspan>=0.0189</text>
<text x="557.40" y="569.10" font-size="7.15" fill="#222" text-anchor="end" font-weight="normal" >RFS_E_MTAB_6134</text>
<circle cx="559.3" cy="566.60" r="0.55" fill="#333"/>
<line x1="600.20" y1="579.60" x2="620.50" y2="579.60" stroke="#3a3a3a" stroke-width="0.9" />
<line x1="600.20" y1="578.40" x2="600.20" y2="580.80" stroke="#3a3a3a" stroke-width="0.6" />
<line x1="620.50" y1="578.40" x2="620.50" y2="580.80" stroke="#3a3a3a" stroke-width="0.6" />
<rect x="608.10" y="577.70" width="3.80" height="3.80" fill="#f0b23e" />
<rect x="609.65" y="578.10" width="0.70" height="3.00" fill="#fbe0a8" />
<text x="610.40" y="586.50" font-size="5.8" fill="#222" text-anchor="middle"><tspan font-style="italic">p</tspan>=0.1335</text>
<text x="557.40" y="582.10" font-size="7.15" fill="#222" text-anchor="end" font-weight="normal" >RFS_ICGC_PAAD_CA_seq</text>
<circle cx="559.3" cy="579.60" r="0.55" fill="#333"/>
<line x1="605.30" y1="590.50" x2="634.30" y2="590.50" stroke="#3a3a3a" stroke-width="0.9" />
<line x1="605.30" y1="589.30" x2="605.30" y2="591.70" stroke="#3a3a3a" stroke-width="0.6" />
<line x1="634.30" y1="589.30" x2="634.30" y2="591.70" stroke="#3a3a3a" stroke-width="0.6" />
<rect x="617.60" y="588.60" width="3.80" height="3.80" fill="#b0a08c" />
<rect x="619.15" y="589.00" width="0.70" height="3.00" fill="#d8cec0" />
<text x="619.50" y="597.30" font-size="5.8" fill="#222" text-anchor="middle"><tspan font-style="italic">p</tspan>=0.0040</text>
<text x="557.40" y="593.00" font-size="7.15" fill="#222" text-anchor="end" font-weight="normal" >PFS_TCGA_PAAD</text>
<circle cx="559.3" cy="590.50" r="0.55" fill="#333"/>
<text x="602.40" y="606.80" font-size="7.3" fill="#333" text-anchor="middle" font-weight="normal" >1</text>
<line x1="602.40" y1="597.80" x2="602.40" y2="599.50" stroke="#333" stroke-width="0.6" />
<text x="651.13" y="606.80" font-size="7.3" fill="#333" text-anchor="middle" font-weight="normal" >2</text>
<line x1="651.13" y1="597.80" x2="651.13" y2="599.50" stroke="#333" stroke-width="0.6" />
<text x="679.63" y="606.80" font-size="7.3" fill="#333" text-anchor="middle" font-weight="normal" >3</text>
<line x1="679.63" y1="597.80" x2="679.63" y2="599.50" stroke="#333" stroke-width="0.6" />
<text x="601.40" y="613.20" font-size="7.1" fill="#333" text-anchor="start" font-weight="normal" >Hazard ratio</text>
</svg>
</body></html>
